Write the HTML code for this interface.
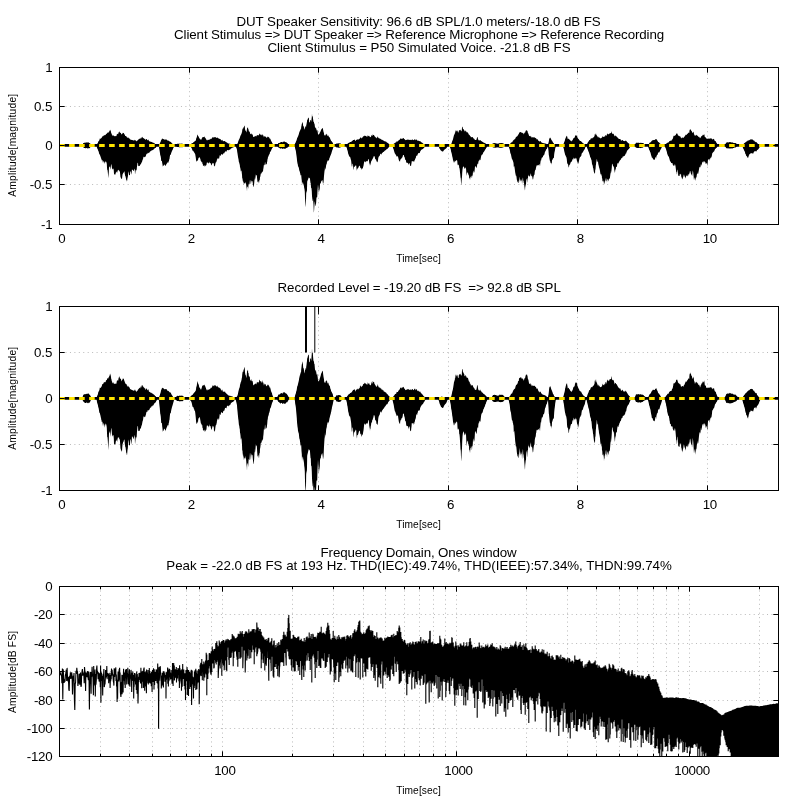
<!DOCTYPE html>
<html lang="en"><head><meta charset="utf-8"><title>Audio quality plots</title>
<style>html,body{margin:0;padding:0;background:#fff}svg{display:block;will-change:transform}text{font-family:'Liberation Sans', Arial, Helvetica, sans-serif}</style>
</head><body>
<svg width="800" height="800" viewBox="0 0 800 800" font-family="'Liberation Sans', Arial, Helvetica, sans-serif" fill="#000">
<rect width="800" height="800" fill="#fff"/>
<text x="418.6" y="25.5" font-size="13.33" text-anchor="middle" textLength="364.3" lengthAdjust="spacing" >DUT Speaker Sensitivity: 96.6 dB SPL/1.0 meters/-18.0 dB FS</text>
<text x="419.1" y="38.5" font-size="13.33" text-anchor="middle" textLength="490" lengthAdjust="spacing" >Client Stimulus =&gt; DUT Speaker =&gt; Reference Microphone =&gt; Reference Recording</text>
<text x="419" y="51.5" font-size="13.33" text-anchor="middle" textLength="303.2" lengthAdjust="spacing" >Client Stimulus = P50 Simulated Voice. -21.8 dB FS</text>
<line x1="65.5" y1="106.5" x2="772.5" y2="106.5" stroke="#bababa" stroke-width="1" stroke-dasharray="1 3.44"/>
<line x1="65.5" y1="145.5" x2="772.5" y2="145.5" stroke="#bababa" stroke-width="1" stroke-dasharray="1 3.44"/>
<line x1="65.5" y1="184.5" x2="772.5" y2="184.5" stroke="#bababa" stroke-width="1" stroke-dasharray="1 3.44"/>
<line x1="189.5" y1="73.5" x2="189.5" y2="218.5" stroke="#bababa" stroke-width="1" stroke-dasharray="1 3.44"/>
<line x1="318.5" y1="73.5" x2="318.5" y2="218.5" stroke="#bababa" stroke-width="1" stroke-dasharray="1 3.44"/>
<line x1="448.5" y1="73.5" x2="448.5" y2="218.5" stroke="#bababa" stroke-width="1" stroke-dasharray="1 3.44"/>
<line x1="577.5" y1="73.5" x2="577.5" y2="218.5" stroke="#bababa" stroke-width="1" stroke-dasharray="1 3.44"/>
<line x1="707.5" y1="73.5" x2="707.5" y2="218.5" stroke="#bababa" stroke-width="1" stroke-dasharray="1 3.44"/>
<clipPath id="c67"><rect x="59.5" y="67.5" width="719.0" height="157.0"/></clipPath>
<g clip-path="url(#c67)">
<polygon fill="#000" points="59.5,144 59.8,144 60,144 60.2,144 60.5,144 60.8,144 61,144 61.2,144 61.5,144 61.8,144 62,144 62.2,144 62.5,144 62.8,144 63,144 63.2,144 63.5,144 63.8,144 64,144 64.2,144 64.5,144 64.8,144 65,144 65.2,144 65.5,144 65.8,144 66,144 66.2,144 66.5,144 66.8,144 67,144 67.2,144 67.5,144 67.8,144 68,144 68.2,144 68.5,144 68.8,144 69,144 69.2,144 69.5,144 69.8,144 70,144 70.2,144 70.5,144 70.8,144 71,144 71.2,144 71.5,144 71.8,144 72,144 72.2,144 72.5,144 72.8,144 73,144 73.2,144 73.5,144 73.8,144 74,144 74.2,144 74.5,144 74.8,144 75,144 75.2,144 75.5,144 75.8,144 76,144 76.2,144 76.5,144 76.8,144 77,144 77.2,144 77.5,144 77.8,144 78,144 78.2,144 78.5,144 78.8,144 79,144 79.2,144 79.5,144 79.8,144 80,144 80.2,144 80.5,144 80.8,144 81,144 81.2,144 81.5,144 81.8,144 82,144 82.2,144 82.5,144 82.8,144 83,143.8 83.2,143.3 83.5,143.1 83.8,143 84,143 84.2,142.9 84.5,142.8 84.8,142.6 85,142.6 85.2,142.8 85.5,142.8 85.8,142.6 86,142.5 86.2,142.6 86.5,142.6 86.8,142.4 87,142.1 87.2,142.3 87.5,142.4 87.8,142.7 88,142.6 88.2,142.4 88.5,142.4 88.8,142.2 89,142.7 89.2,143 89.5,143 89.8,143.2 90,143.2 90.2,143.5 90.5,143.9 90.8,144 91,144 91.2,144 91.5,144 91.8,144 92,144 92.2,144 92.5,144 92.8,144 93,144 93.2,144 93.5,144 93.8,144 94,144 94.2,144 94.5,144 94.8,144 95,144 95.2,144 95.5,144 95.8,144 96,144 96.2,144 96.5,144 96.8,144 97,144 97.2,143.8 97.5,143.4 97.8,142.9 98,142.4 98.2,141.7 98.5,141.2 98.8,140.9 99,140.7 99.2,140.4 99.5,139.7 99.8,138.6 100,138.5 100.2,138.6 100.5,138.8 100.8,138.7 101,138.7 101.2,138 101.5,138 101.8,137.5 102,137.1 102.2,136.6 102.5,136.4 102.8,136.3 103,136.3 103.2,136.3 103.5,135.7 103.8,135.4 104,135.3 104.2,134.9 104.5,135.4 104.8,135.1 105,135.4 105.2,135.1 105.5,135.1 105.8,134.6 106,134 106.2,133.7 106.5,133.8 106.8,134.1 107,133.3 107.2,132.6 107.5,132.5 107.8,132.9 108,133.4 108.2,132.1 108.5,132.9 108.8,131.7 109,131.9 109.2,131.4 109.5,131.1 109.8,130.5 110,129.4 110.2,129.9 110.5,130.4 110.8,131 111,131.9 111.2,133 111.5,133.5 111.8,134.6 112,134.6 112.2,135.1 112.5,135.5 112.8,136 113,135.5 113.2,135.1 113.5,135.6 113.8,136 114,136.2 114.2,136.1 114.5,136.1 114.8,136.4 115,136 115.2,136.4 115.5,135.9 115.8,136 116,136.1 116.2,136.3 116.5,135.7 116.8,134.5 117,134.1 117.2,133.7 117.5,134 117.8,134 118,134.4 118.2,134.1 118.5,132.8 118.8,132.3 119,131.7 119.2,131.3 119.5,131.9 119.8,132.3 120,133 120.2,133.1 120.5,132.8 120.8,132.8 121,133.2 121.2,134 121.5,134.7 121.8,134.1 122,133.9 122.2,133.8 122.5,133.5 122.8,133 123,132.4 123.2,132.9 123.5,133.1 123.8,132.9 124,133.4 124.2,134.1 124.5,134.3 124.8,135.1 125,135.2 125.2,135.9 125.5,136 125.8,136.1 126,136.2 126.2,136.2 126.5,136.5 126.8,136.9 127,137.4 127.2,137.8 127.5,138 127.8,137.3 128,137.3 128.2,137.6 128.5,137.8 128.8,138.2 129,138.2 129.2,138.4 129.5,138.5 129.8,138.8 130,139.5 130.2,139.8 130.5,139.6 130.8,139.5 131,139.6 131.2,139.7 131.5,140 131.8,139.9 132,140.1 132.2,140 132.5,140.3 132.8,140.1 133,140.3 133.2,140.3 133.5,140.6 133.8,140.6 134,140.4 134.2,140.5 134.5,140.3 134.8,139.8 135,139.8 135.2,140 135.5,140.6 135.8,140.5 136,141 136.2,141.2 136.5,141.2 136.8,140.9 137,140.5 137.2,140.7 137.5,140.6 137.8,140.2 138,139.7 138.2,139.5 138.5,139.7 138.8,139.3 139,139 139.2,138.8 139.5,138.9 139.8,138.8 140,138.1 140.2,137.8 140.5,138.3 140.8,138.9 141,139.2 141.2,138.1 141.5,137.9 141.8,137.1 142,137.1 142.2,136.8 142.5,137.2 142.8,137.7 143,137.8 143.2,137.9 143.5,138.1 143.8,138.5 144,138.6 144.2,138.7 144.5,138.8 144.8,139.3 145,138.7 145.2,139.3 145.5,140 145.8,139.8 146,139.6 146.2,139.1 146.5,139.1 146.8,139.3 147,139.3 147.2,139.9 147.5,140.3 147.8,140.2 148,139.7 148.2,139.6 148.5,139.9 148.8,140.5 149,141.3 149.2,141.4 149.5,141.4 149.8,141 150,141.3 150.2,141.4 150.5,141.8 150.8,141.8 151,142 151.2,141.7 151.5,142 151.8,142.1 152,142.2 152.2,142.3 152.5,142.4 152.8,142.4 153,142.6 153.2,142.8 153.5,142.8 153.8,142.9 154,143 154.2,143.2 154.5,143.3 154.8,143.6 155,143.7 155.2,143.9 155.5,144 155.8,144 156,144 156.2,144 156.5,144 156.8,144 157,144 157.2,144 157.5,144 157.8,144 158,144 158.2,144 158.5,144 158.8,144 159,144 159.2,144 159.5,143.9 159.8,143.5 160,142.9 160.2,142.4 160.5,142 160.8,141.2 161,140.5 161.2,140 161.5,139.7 161.8,139.2 162,138.5 162.2,138.6 162.5,138.7 162.8,138.8 163,139.2 163.2,139 163.5,139 163.8,139.2 164,139.4 164.2,139.8 164.5,139.4 164.8,139.6 165,139.6 165.2,139.5 165.5,139.5 165.8,139.6 166,139.7 166.2,139.5 166.5,139.6 166.8,139.7 167,140.3 167.2,140.1 167.5,140.5 167.8,140.7 168,140.8 168.2,140.6 168.5,140.6 168.8,140.9 169,141.1 169.2,141.2 169.5,141.3 169.8,141.6 170,141.7 170.2,141.9 170.5,141.7 170.8,141.7 171,142.1 171.2,142.5 171.5,142.8 171.8,143.1 172,143.4 172.2,143.6 172.5,143.8 172.8,144 173,144 173.2,144 173.5,144 173.8,144 174,144 174.2,144 174.5,144 174.8,144 175,144 175.2,144 175.5,144 175.8,144 176,144 176.2,144 176.5,144 176.8,144 177,143.9 177.2,143.8 177.5,143.7 177.8,143.7 178,143.7 178.2,143.8 178.5,143.8 178.8,143.8 179,143.7 179.2,143.6 179.5,143.7 179.8,143.7 180,143.8 180.2,143.9 180.5,143.5 180.8,143.7 181,143.6 181.2,143.7 181.5,143.6 181.8,143.8 182,143.8 182.2,143.8 182.5,143.7 182.8,143.8 183,143.9 183.2,144 183.5,144 183.8,144 184,144 184.2,144 184.5,144 184.8,144 185,144 185.2,144 185.5,144 185.8,144 186,144 186.2,144 186.5,144 186.8,144 187,144 187.2,144 187.5,144 187.8,144 188,144 188.2,144 188.5,144 188.8,144 189,144 189.2,144 189.5,144 189.8,144 190,144 190.2,144 190.5,144 190.8,144 191,144 191.2,143.7 191.5,143.6 191.8,143.4 192,143.3 192.2,143.2 192.5,143.1 192.8,143.1 193,142.8 193.2,142.6 193.5,142.2 193.8,142 194,141.8 194.2,141.3 194.5,141.6 194.8,141.7 195,141.1 195.2,141 195.5,140.7 195.8,140.4 196,139.6 196.2,138.4 196.5,137.8 196.8,137.3 197,136.2 197.2,135.3 197.5,134.4 197.8,135.1 198,136 198.2,136 198.5,136.5 198.8,136.9 199,137.4 199.2,138.1 199.5,138.5 199.8,138.8 200,138.8 200.2,139 200.5,139.6 200.8,139.8 201,139.8 201.2,139.8 201.5,139.2 201.8,138.5 202,138.1 202.2,137.4 202.5,137.5 202.8,137.1 203,137.1 203.2,137.2 203.5,137 203.8,137.1 204,136.7 204.2,136.8 204.5,136.5 204.8,137.3 205,137.9 205.2,137.8 205.5,138 205.8,138.8 206,138.9 206.2,139.8 206.5,139.6 206.8,140.2 207,140.5 207.2,140.5 207.5,140 207.8,139.8 208,139.8 208.2,140.2 208.5,139.6 208.8,140 209,139.7 209.2,139.7 209.5,139.5 209.8,139.6 210,139.5 210.2,139.3 210.5,139.1 210.8,138.7 211,138.5 211.2,138.9 211.5,138.7 211.8,138.6 212,138.1 212.2,137.8 212.5,137.5 212.8,137 213,136.9 213.2,137.3 213.5,137.7 213.8,137.5 214,136.9 214.2,137 214.5,137.8 214.8,136.7 215,137.2 215.2,137 215.5,137.3 215.8,137.2 216,137.8 216.2,137.4 216.5,137.9 216.8,137.8 217,138.3 217.2,138 217.5,137.2 217.8,137.6 218,138.3 218.2,138.4 218.5,138.3 218.8,138.3 219,138.7 219.2,138.9 219.5,138.9 219.8,138.4 220,138.7 220.2,139 220.5,139.3 220.8,139.6 221,140 221.2,140.6 221.5,140.4 221.8,139.9 222,139.9 222.2,139.8 222.5,140.3 222.8,140.8 223,141.4 223.2,141.4 223.5,141 223.8,141.1 224,141 224.2,141.3 224.5,141.1 224.8,141.1 225,140.8 225.2,141.4 225.5,141.8 225.8,142 226,141.9 226.2,142.3 226.5,142.3 226.8,142.5 227,142.6 227.2,142.8 227.5,143 227.8,143.3 228,143.4 228.2,143.5 228.5,143.4 228.8,143.5 229,143.5 229.2,143.6 229.5,143.7 229.8,143.8 230,143.8 230.2,143.8 230.5,143.9 230.8,144 231,144 231.2,144 231.5,144 231.8,144 232,144 232.2,144 232.5,144 232.8,144 233,144 233.2,144 233.5,144 233.8,144 234,144 234.2,144 234.5,144 234.8,144 235,144 235.2,144 235.5,144 235.8,144 236,144 236.2,144 236.5,144 236.8,144 237,144 237.2,143.9 237.5,143.6 237.8,143 238,142.2 238.2,141.6 238.5,140.7 238.8,140.1 239,139.4 239.2,139.2 239.5,138.6 239.8,138 240,137 240.2,136.4 240.5,135.8 240.8,135 241,135 241.2,134.3 241.5,133.7 241.8,132.5 242,132.2 242.2,130.4 242.5,129 242.8,128.4 243,128.5 243.2,128.6 243.5,127.4 243.8,127 244,127 244.2,126.1 244.5,125.6 244.8,126.4 245,128.9 245.2,129.7 245.5,130.7 245.8,130.7 246,131.2 246.2,132.5 246.5,131.8 246.8,130.3 247,128.8 247.2,127.4 247.5,128.2 247.8,127.5 248,127.1 248.2,129.3 248.5,129.3 248.8,131.1 249,131.5 249.2,131.7 249.5,131.4 249.8,131.7 250,133.2 250.2,134.1 250.5,134.3 250.8,133.7 251,133.5 251.2,133.2 251.5,134.1 251.8,134.3 252,134.6 252.2,134.4 252.5,134.3 252.8,135 253,136 253.2,136.8 253.5,137 253.8,137.1 254,137 254.2,136.5 254.5,136.3 254.8,136.8 255,136.4 255.2,136.1 255.5,135.9 255.8,136.4 256,135.2 256.2,135.3 256.5,136.2 256.8,136.6 257,135.7 257.2,135.1 257.5,135.1 257.8,135.5 258,134.8 258.2,135.1 258.5,135 258.8,136.1 259,135 259.2,134.2 259.5,133.4 259.8,133.8 260,134.1 260.2,134.8 260.5,134.7 260.8,134.4 261,134.4 261.2,135.6 261.5,135.3 261.8,134.6 262,134.3 262.2,134 262.5,134.9 262.8,135.3 263,135.5 263.2,135.2 263.5,135.9 263.8,136.8 264,137.4 264.2,136.7 264.5,136.2 264.8,135.9 265,136.3 265.2,136.4 265.5,136.4 265.8,136.9 266,137.2 266.2,137.5 266.5,137.4 266.8,137.7 267,137.9 267.2,137.3 267.5,136.5 267.8,136.8 268,137 268.2,136.7 268.5,137.1 268.8,137.3 269,137.4 269.2,137.6 269.5,138.3 269.8,138.7 270,138.4 270.2,138.7 270.5,139.2 270.8,140 271,140.6 271.2,141 271.5,141.5 271.8,141.9 272,142.2 272.2,142.9 272.5,143.4 272.8,143.8 273,144 273.2,144 273.5,144 273.8,144 274,144 274.2,144 274.5,144 274.8,144 275,144 275.2,144 275.5,144 275.8,144 276,144 276.2,144 276.5,144 276.8,144 277,144 277.2,144 277.5,144 277.8,144 278,143.7 278.2,143.3 278.5,143 278.8,142.9 279,142.9 279.2,142.9 279.5,143 279.8,142.7 280,142.6 280.2,142.4 280.5,142.4 280.8,142.1 281,142 281.2,142 281.5,142 281.8,142.1 282,142.3 282.2,142.5 282.5,142.3 282.8,142 283,141.5 283.2,141.7 283.5,141.7 283.8,141.7 284,141.4 284.2,141.6 284.5,141.5 284.8,141.7 285,141.7 285.2,142 285.5,142.3 285.8,142.1 286,142.3 286.2,142.3 286.5,142.4 286.8,142.6 287,142.7 287.2,143.1 287.5,143.2 287.8,143.6 288,143.8 288.2,144 288.5,144 288.8,144 289,144 289.2,144 289.5,144 289.8,144 290,144 290.2,144 290.5,144 290.8,144 291,144 291.2,144 291.5,144 291.8,144 292,144 292.2,144 292.5,144 292.8,144 293,144 293.2,144 293.5,144 293.8,144 294,144 294.2,144 294.5,144 294.8,144 295,143.8 295.2,143.3 295.5,142.8 295.8,142.2 296,141.6 296.2,141 296.5,140.5 296.8,139.6 297,138.6 297.2,137.9 297.5,137.5 297.8,136.8 298,136.4 298.2,135.9 298.5,135.1 298.8,134.3 299,133.4 299.2,132.6 299.5,131.9 299.8,130.7 300,131.1 300.2,130 300.5,129.7 300.8,128.6 301,129.3 301.2,127.1 301.5,125.7 301.8,123.8 302,123.8 302.2,122.8 302.5,121.9 302.8,123.1 303,124.3 303.2,126.5 303.5,125.8 303.8,126.7 304,127.5 304.2,128.5 304.5,129.7 304.8,128.7 305,127.3 305.2,126 305.5,126.3 305.8,127.5 306,127.2 306.2,125.6 306.5,124.3 306.8,122.5 307,121.8 307.2,118.4 307.5,119.7 307.8,120.3 308,118 308.2,118 308.5,117.5 308.8,118.1 309,119.3 309.2,122.1 309.5,122.2 309.8,122.6 310,121.9 310.2,119.8 310.5,120.2 310.8,120.3 311,120.5 311.2,122 311.5,119.5 311.8,117 312,113.6 312.2,116.2 312.5,116.6 312.8,116.3 313,118.4 313.2,119.8 313.5,122.2 313.8,121.5 314,122.2 314.2,123.7 314.5,123.5 314.8,125.7 315,127.2 315.2,128.6 315.5,127.7 315.8,127.2 316,127.5 316.2,128.7 316.5,129.8 316.8,130.7 317,130.2 317.2,129.8 317.5,131.1 317.8,132.5 318,134.2 318.2,134.7 318.5,134.5 318.8,134.2 319,134.1 319.2,134 319.5,133.6 319.8,132.6 320,132.5 320.2,132.1 320.5,131.4 320.8,130.7 321,130 321.2,129.8 321.5,129.1 321.8,129.2 322,128.3 322.2,128.4 322.5,128.2 322.8,127.8 323,129.2 323.2,130.2 323.5,131.7 323.8,132.6 324,133.5 324.2,135.1 324.5,134.9 324.8,135.8 325,135.5 325.2,135.8 325.5,135.1 325.8,134.3 326,134.7 326.2,134.4 326.5,134.2 326.8,133.6 327,134.5 327.2,134.8 327.5,135.9 327.8,136 328,135.6 328.2,135.3 328.5,135.9 328.8,136.5 329,137 329.2,137.2 329.5,137.2 329.8,137.5 330,137.9 330.2,138.8 330.5,139.5 330.8,139.9 331,140.4 331.2,140.9 331.5,141.2 331.8,141.3 332,141.8 332.2,142.1 332.5,142.4 332.8,142.8 333,143.5 333.2,144 333.5,144 333.8,144 334,144 334.2,144 334.5,144 334.8,144 335,144 335.2,144 335.5,144 335.8,144 336,144 336.2,143.7 336.5,143.5 336.8,143.4 337,143.4 337.2,143.5 337.5,143.5 337.8,143.4 338,143.3 338.2,143.3 338.5,143.4 338.8,143.3 339,143.3 339.2,143.2 339.5,143.3 339.8,143.4 340,143.5 340.2,143.5 340.5,143.5 340.8,143.5 341,143.7 341.2,144 341.5,144 341.8,144 342,144 342.2,144 342.5,144 342.8,144 343,144 343.2,144 343.5,144 343.8,144 344,144 344.2,144 344.5,144 344.8,144 345,144 345.2,144 345.5,144 345.8,144 346,144 346.2,144 346.5,144 346.8,144 347,144 347.2,144 347.5,143.7 347.8,143.5 348,143.4 348.2,143.1 348.5,143 348.8,142.8 349,142.8 349.2,142.7 349.5,142.6 349.8,142.3 350,142.1 350.2,142 350.5,141.9 350.8,142 351,142 351.2,141.5 351.5,141.5 351.8,141.7 352,141.1 352.2,141.1 352.5,140.4 352.8,140.7 353,140 353.2,140.1 353.5,139.9 353.8,140.1 354,139.9 354.2,139.8 354.5,139.6 354.8,139.8 355,140.2 355.2,141 355.5,140.9 355.8,140.4 356,139.8 356.2,139.7 356.5,139.7 356.8,139.9 357,140 357.2,139 357.5,139.5 357.8,139.6 358,139.8 358.2,139.4 358.5,139.7 358.8,139.1 359,139.1 359.2,139 359.5,138.9 359.8,138.6 360,137.4 360.2,137.4 360.5,137.3 360.8,137.9 361,138 361.2,138.4 361.5,138.2 361.8,137.7 362,137.6 362.2,137.5 362.5,137.7 362.8,137.1 363,136.6 363.2,136.4 363.5,136.3 363.8,136.3 364,136 364.2,136.3 364.5,135.7 364.8,135.5 365,135.5 365.2,136 365.5,136 365.8,136.1 366,135.6 366.2,136.8 366.5,136.3 366.8,136.4 367,136.8 367.2,136.7 367.5,136.3 367.8,135.1 368,135.7 368.2,136.1 368.5,136.3 368.8,135.5 369,135.9 369.2,135.8 369.5,136.5 369.8,136.8 370,137 370.2,137 370.5,137.2 370.8,136.9 371,136.6 371.2,136.2 371.5,134.8 371.8,135.3 372,136.1 372.2,135.9 372.5,135.6 372.8,134.3 373,134.6 373.2,134.9 373.5,135.1 373.8,135 374,135 374.2,135.4 374.5,136.2 374.8,136.3 375,136.9 375.2,136.8 375.5,137.2 375.8,137.3 376,137.9 376.2,138.2 376.5,138.2 376.8,137.6 377,137.6 377.2,137.6 377.5,137.1 377.8,136.3 378,137 378.2,137.6 378.5,138 378.8,138.1 379,138.7 379.2,138.8 379.5,138.6 379.8,138.1 380,138.5 380.2,138.7 380.5,139.2 380.8,138.8 381,139.1 381.2,139.2 381.5,139.7 381.8,139.8 382,139.9 382.2,139.7 382.5,140 382.8,140.2 383,140.2 383.2,140.2 383.5,140.4 383.8,140.9 384,141.3 384.2,141.2 384.5,141.2 384.8,141 385,141.2 385.2,141.5 385.5,141.6 385.8,141.5 386,141.6 386.2,141.8 386.5,142.1 386.8,142.5 387,142.6 387.2,142.8 387.5,142.8 387.8,142.9 388,143.1 388.2,143.3 388.5,143.6 388.8,143.9 389,144 389.2,144 389.5,144 389.8,144 390,144 390.2,144 390.5,144 390.8,144 391,144 391.2,144 391.5,144 391.8,144 392,144 392.2,144 392.5,144 392.8,144 393,144 393.2,144 393.5,144 393.8,143.8 394,143.6 394.2,143.5 394.5,143.2 394.8,143 395,142.7 395.2,142.6 395.5,142.5 395.8,142.7 396,142.6 396.2,142.2 396.5,141.6 396.8,141.2 397,141.4 397.2,141.4 397.5,141.4 397.8,141.3 398,141.3 398.2,140.8 398.5,140.6 398.8,140.2 399,140.3 399.2,140.1 399.5,139.7 399.8,139.7 400,139.1 400.2,138.8 400.5,138.5 400.8,138.6 401,138.6 401.2,138.5 401.5,138.7 401.8,139.1 402,139.2 402.2,138.6 402.5,138.4 402.8,138.4 403,138.6 403.2,138.3 403.5,138.1 403.8,138.1 404,138.8 404.2,139 404.5,139.3 404.8,139.3 405,139.6 405.2,139.9 405.5,140.2 405.8,140.1 406,140.1 406.2,140 406.5,140 406.8,139.7 407,139.6 407.2,139.6 407.5,139.7 407.8,139.7 408,139.5 408.2,139.8 408.5,139.7 408.8,139.7 409,139.6 409.2,139.7 409.5,140.1 409.8,140.1 410,140.2 410.2,139.8 410.5,139.7 410.8,139.9 411,140.1 411.2,140.2 411.5,139.8 411.8,139.8 412,139.9 412.2,139.6 412.5,139.5 412.8,139.5 413,139.9 413.2,140.2 413.5,140.1 413.8,140 414,139.9 414.2,139.4 414.5,139.4 414.8,139.2 415,139.3 415.2,139.3 415.5,139.9 415.8,140.2 416,140.1 416.2,139.5 416.5,139.6 416.8,139.8 417,139.9 417.2,140.4 417.5,140.6 417.8,140.9 418,140.5 418.2,140.5 418.5,140.7 418.8,140.9 419,141.2 419.2,140.9 419.5,141.2 419.8,141.1 420,141.3 420.2,140.9 420.5,141.5 420.8,141.8 421,141.9 421.2,142 421.5,142.4 421.8,142.6 422,142.6 422.2,142.8 422.5,142.9 422.8,143.2 423,143.4 423.2,143.5 423.5,143.9 423.8,144 424,144 424.2,144 424.5,144 424.8,144 425,144 425.2,144 425.5,144 425.8,144 426,144 426.2,144 426.5,144 426.8,144 427,144 427.2,144 427.5,144 427.8,144 428,144 428.2,144 428.5,144 428.8,144 429,144 429.2,144 429.5,144 429.8,144 430,144 430.2,144 430.5,144 430.8,144 431,144 431.2,144 431.5,144 431.8,144 432,144 432.2,144 432.5,144 432.8,144 433,144 433.2,144 433.5,144 433.8,144 434,144 434.2,144 434.5,144 434.8,144 435,144 435.2,144 435.5,144 435.8,144 436,144 436.2,144 436.5,144 436.8,144 437,144 437.2,144 437.5,144 437.8,144 438,144 438.2,144 438.5,144 438.8,144 439,144 439.2,144 439.5,144 439.8,144 440,144 440.2,144 440.5,144 440.8,144 441,144 441.2,144 441.5,144 441.8,144 442,144 442.2,144 442.5,144 442.8,144 443,144 443.2,144 443.5,144 443.8,144 444,144 444.2,144 444.5,144 444.8,144 445,144 445.2,144 445.5,144 445.8,144 446,144 446.2,144 446.5,144 446.8,144 447,144 447.2,144 447.5,144 447.8,144 448,144 448.2,144 448.5,144 448.8,144 449,144 449.2,144 449.5,144 449.8,144 450,144 450.2,144 450.5,144 450.8,144 451,144 451.2,144 451.5,143.4 451.8,142.6 452,141.9 452.2,141.1 452.5,140.5 452.8,139.9 453,139.1 453.2,138.5 453.5,137.1 453.8,136 454,135 454.2,134.9 454.5,134.1 454.8,133.7 455,132.2 455.2,132.8 455.5,130.9 455.8,130.6 456,129.8 456.2,130.8 456.5,130.8 456.8,131.6 457,131.5 457.2,130.3 457.5,130.8 457.8,131.7 458,132.4 458.2,132.5 458.5,132.5 458.8,130.9 459,130.3 459.2,130.2 459.5,130.5 459.8,130.1 460,129.9 460.2,130.1 460.5,129.6 460.8,130.7 461,130.7 461.2,131.4 461.5,130.7 461.8,130.4 462,127.3 462.2,126.9 462.5,126.6 462.8,128 463,128.9 463.2,128.9 463.5,129.2 463.8,129.6 464,130 464.2,130 464.5,131.2 464.8,131.2 465,131.5 465.2,130.6 465.5,130.6 465.8,131.6 466,131.3 466.2,131.5 466.5,131.7 466.8,132.4 467,132.2 467.2,132.5 467.5,132.2 467.8,132.4 468,132.5 468.2,133.2 468.5,133.8 468.8,134.4 469,134.7 469.2,134.9 469.5,134.7 469.8,135.3 470,136.2 470.2,135.8 470.5,136.4 470.8,136.6 471,137.7 471.2,137.5 471.5,137 471.8,136.9 472,136.7 472.2,137.2 472.5,137 472.8,137.2 473,137.5 473.2,138.1 473.5,138.5 473.8,138.5 474,138.8 474.2,138.8 474.5,139.3 474.8,139.7 475,140 475.2,139.9 475.5,140.1 475.8,139.9 476,140.2 476.2,139.9 476.5,139.6 476.8,138.4 477,137.5 477.2,136.9 477.5,137.1 477.8,137.9 478,138.9 478.2,139.6 478.5,140.2 478.8,140.3 479,140.4 479.2,140.5 479.5,140.3 479.8,140.4 480,139.7 480.2,140 480.5,140.2 480.8,140.8 481,140.8 481.2,141.1 481.5,141.1 481.8,141.5 482,141.6 482.2,141.8 482.5,141.7 482.8,141.9 483,142.1 483.2,142.4 483.5,142.4 483.8,142.5 484,142.8 484.2,143 484.5,142.9 484.8,142.8 485,143 485.2,143.2 485.5,143.5 485.8,143.7 486,143.8 486.2,144 486.5,144 486.8,144 487,144 487.2,144 487.5,144 487.8,144 488,144 488.2,144 488.5,144 488.8,144 489,144 489.2,144 489.5,144 489.8,144 490,144 490.2,144 490.5,144 490.8,144 491,144 491.2,144 491.5,144 491.8,144 492,144 492.2,144 492.5,143.8 492.8,143.6 493,143.3 493.2,143.2 493.5,143.2 493.8,143.2 494,143.1 494.2,143.1 494.5,143 494.8,143.2 495,143.1 495.2,143.2 495.5,143.2 495.8,143.2 496,143.4 496.2,143.4 496.5,143.6 496.8,143.4 497,143.6 497.2,143.6 497.5,143.8 497.8,143.7 498,143.7 498.2,143.5 498.5,143.5 498.8,143.5 499,143.6 499.2,143.4 499.5,143.1 499.8,143 500,143 500.2,143.1 500.5,143.1 500.8,143.3 501,143.2 501.2,143 501.5,143 501.8,143.1 502,143.2 502.2,143 502.5,143.2 502.8,143.3 503,143.3 503.2,143.4 503.5,143.6 503.8,143.8 504,143.9 504.2,144 504.5,144 504.8,144 505,144 505.2,144 505.5,144 505.8,144 506,144 506.2,144 506.5,144 506.8,144 507,144 507.2,144 507.5,144 507.8,144 508,144 508.2,144 508.5,144 508.8,144 509,144 509.2,144 509.5,144 509.8,144 510,143.9 510.2,143.7 510.5,143.2 510.8,142.9 511,142.5 511.2,142.4 511.5,142.2 511.8,142.5 512,142.3 512.2,142.2 512.5,141.5 512.8,141.2 513,140.6 513.2,140.4 513.5,140.3 513.8,139.9 514,139.4 514.2,139.1 514.5,139.4 514.8,139.6 515,139.3 515.2,138.8 515.5,137.9 515.8,137.5 516,136.8 516.2,136.6 516.5,136.7 516.8,136.9 517,136.6 517.2,136.3 517.5,135.9 517.8,135.4 518,134.6 518.2,134.4 518.5,134.6 518.8,134.3 519,132.9 519.2,132.4 519.5,132.6 519.8,132.4 520,132.2 520.2,132.1 520.5,132.2 520.8,132.1 521,131.9 521.2,132.3 521.5,132.5 521.8,133 522,133.2 522.2,132.8 522.5,132.7 522.8,133 523,133.4 523.2,133.3 523.5,133.5 523.8,134.4 524,133.8 524.2,133.4 524.5,132.5 524.8,132.8 525,132.5 525.2,132.4 525.5,131.3 525.8,130.7 526,130.2 526.2,130.3 526.5,130.3 526.8,130.8 527,129.9 527.2,130.9 527.5,131.1 527.8,132.6 528,133.2 528.2,133.3 528.5,133.9 528.8,135 529,135.6 529.2,136.1 529.5,136.1 529.8,136.3 530,136 530.2,135.8 530.5,136.2 530.8,136.8 531,136.6 531.2,136.4 531.5,137.2 531.8,137.4 532,137.9 532.2,136.9 532.5,137.5 532.8,137.1 533,137.6 533.2,137.1 533.5,137.6 533.8,137.6 534,137.6 534.2,137.5 534.5,137.2 534.8,137.5 535,137.4 535.2,137.9 535.5,138.1 535.8,138.3 536,138.1 536.2,138.6 536.5,139 536.8,139.6 537,139.3 537.2,139.2 537.5,139.2 537.8,139.4 538,140 538.2,140.2 538.5,140.9 538.8,141 539,141.1 539.2,141.1 539.5,141.4 539.8,141.7 540,141.6 540.2,141.3 540.5,141.1 540.8,141.2 541,141.6 541.2,142.2 541.5,142.5 541.8,142.4 542,142.5 542.2,142.7 542.5,143 542.8,143 543,143.1 543.2,143.2 543.5,143.1 543.8,143.2 544,143.2 544.2,143.2 544.5,143.3 544.8,143.5 545,143.7 545.2,143.6 545.5,143.6 545.8,143.7 546,143.8 546.2,143.8 546.5,144 546.8,144 547,144 547.2,144 547.5,144 547.8,144 548,144 548.2,143.8 548.5,142.8 548.8,141.5 549,140.2 549.2,139 549.5,138.3 549.8,138.2 550,137.3 550.2,137.7 550.5,138.1 550.8,138.5 551,138.9 551.2,139.5 551.5,139.9 551.8,140.5 552,140.4 552.2,141 552.5,141.5 552.8,142.1 553,142.6 553.2,142.7 553.5,142.9 553.8,143.3 554,143.7 554.2,144 554.5,144 554.8,144 555,144 555.2,144 555.5,144 555.8,144 556,144 556.2,144 556.5,144 556.8,144 557,144 557.2,144 557.5,144 557.8,144 558,144 558.2,144 558.5,144 558.8,144 559,144 559.2,144 559.5,144 559.8,144 560,144 560.2,144 560.5,144 560.8,144 561,144 561.2,144 561.5,144 561.8,144 562,144 562.2,144 562.5,144 562.8,144 563,144 563.2,144 563.5,144 563.8,143.3 564,142.7 564.2,142.1 564.5,141.5 564.8,140.7 565,139.7 565.2,138.8 565.5,138.5 565.8,137.4 566,137.3 566.2,136.5 566.5,136.3 566.8,135.9 567,135.5 567.2,136.7 567.5,137.7 567.8,139.2 568,138.9 568.2,138.9 568.5,138.6 568.8,138.7 569,139.3 569.2,139.4 569.5,139.6 569.8,139.7 570,140.2 570.2,140.4 570.5,140.6 570.8,140.8 571,141.1 571.2,141.5 571.5,141.2 571.8,140.7 572,140.5 572.2,140.4 572.5,140.3 572.8,139.8 573,139.1 573.2,138.8 573.5,138.3 573.8,138.1 574,138.2 574.2,137.8 574.5,137.7 574.8,137.1 575,136.2 575.2,136 575.5,135.1 575.8,135.5 576,135.3 576.2,135.7 576.5,135.4 576.8,135.4 577,136.2 577.2,136.9 577.5,137.6 577.8,137.9 578,138.4 578.2,138.7 578.5,139.1 578.8,139.3 579,139.6 579.2,139.9 579.5,140.5 579.8,140.6 580,140.7 580.2,141 580.5,141 580.8,140.9 581,140.9 581.2,141.4 581.5,141.7 581.8,142 582,142.3 582.2,142.6 582.5,142.8 582.8,143 583,143.4 583.2,143.5 583.5,143.6 583.8,143.6 584,143.8 584.2,144 584.5,144 584.8,144 585,144 585.2,144 585.5,144 585.8,144 586,144 586.2,144 586.5,144 586.8,144 587,144 587.2,143.7 587.5,143.1 587.8,142.6 588,142.2 588.2,142 588.5,141.6 588.8,141.1 589,140.7 589.2,140.3 589.5,140 589.8,140 590,139.9 590.2,139.7 590.5,139.2 590.8,138.6 591,138.3 591.2,138.2 591.5,138.3 591.8,138.4 592,138.4 592.2,138.4 592.5,138 592.8,137.7 593,137.4 593.2,137.5 593.5,137.4 593.8,136.9 594,137.1 594.2,136.4 594.5,136.1 594.8,133.9 595,134.3 595.2,135.3 595.5,134.1 595.8,133.8 596,133 596.2,134.6 596.5,135.1 596.8,135.5 597,135.7 597.2,136.1 597.5,136.5 597.8,137 598,137.7 598.2,137.7 598.5,136.6 598.8,136.9 599,137.2 599.2,137.4 599.5,137.5 599.8,138 600,138.3 600.2,138.3 600.5,138.2 600.8,138.2 601,138.4 601.2,138.1 601.5,137.8 601.8,137.8 602,137.4 602.2,137.2 602.5,135.9 602.8,136.5 603,136.9 603.2,136.9 603.5,137 603.8,136.8 604,136.2 604.2,136.3 604.5,136.2 604.8,137.2 605,136.5 605.2,136.2 605.5,134.9 605.8,135 606,135.5 606.2,136.2 606.5,135.4 606.8,134.8 607,134.4 607.2,134.2 607.5,133.5 607.8,133.7 608,133.6 608.2,134.4 608.5,134 608.8,134.6 609,133.7 609.2,134.3 609.5,133.1 609.8,133.7 610,133.2 610.2,133.2 610.5,133.1 610.8,133.2 611,133 611.2,131.6 611.5,131.6 611.8,133 612,133.1 612.2,133.9 612.5,133.7 612.8,133.4 613,133.9 613.2,133.6 613.5,133.9 613.8,134.2 614,134.7 614.2,135.2 614.5,135.9 614.8,136.5 615,135.8 615.2,135.6 615.5,135.7 615.8,135.7 616,136.4 616.2,136.7 616.5,136.5 616.8,136.3 617,136.5 617.2,137.3 617.5,137.4 617.8,137.7 618,138.3 618.2,138.2 618.5,138.7 618.8,138.6 619,139.2 619.2,139.1 619.5,139 619.8,139.1 620,138.9 620.2,139.1 620.5,139.3 620.8,140.1 621,140.4 621.2,140.6 621.5,140.4 621.8,140.6 622,140.4 622.2,140.3 622.5,139.9 622.8,140 623,140.3 623.2,140.7 623.5,141.1 623.8,140.9 624,140.9 624.2,140.9 624.5,141.1 624.8,141.2 625,141.2 625.2,141.1 625.5,140.7 625.8,140.5 626,140.5 626.2,141 626.5,141.3 626.8,141.5 627,141.8 627.2,142 627.5,142.4 627.8,142.6 628,142.9 628.2,143.1 628.5,143.3 628.8,143.5 629,143.6 629.2,143.8 629.5,143.9 629.8,144 630,144 630.2,144 630.5,144 630.8,144 631,144 631.2,144 631.5,144 631.8,144 632,144 632.2,144 632.5,144 632.8,144 633,144 633.2,144 633.5,144 633.8,144 634,144 634.2,144 634.5,144 634.8,144 635,144 635.2,144 635.5,143.7 635.8,143.3 636,142.8 636.2,142.8 636.5,142.8 636.8,142.8 637,142.8 637.2,142.8 637.5,142.8 637.8,142.8 638,142.9 638.2,142.8 638.5,142.7 638.8,142.6 639,142.9 639.2,142.9 639.5,142.8 639.8,143 640,142.9 640.2,142.9 640.5,142.7 640.8,142.8 641,142.8 641.2,142.8 641.5,143 641.8,143 642,143.1 642.2,143 642.5,143.1 642.8,143.1 643,143.1 643.2,143.2 643.5,143.3 643.8,143.5 644,143.8 644.2,144 644.5,144 644.8,144 645,144 645.2,144 645.5,144 645.8,144 646,144 646.2,144 646.5,144 646.8,144 647,144 647.2,144 647.5,144 647.8,144 648,144 648.2,144 648.5,144 648.8,144 649,143.7 649.2,143.2 649.5,143 649.8,142.6 650,142.5 650.2,142.5 650.5,142.3 650.8,142.2 651,141.9 651.2,141.5 651.5,141.2 651.8,140.7 652,140.7 652.2,140.5 652.5,140.4 652.8,139.9 653,140 653.2,139.9 653.5,140.2 653.8,140.1 654,140 654.2,140.1 654.5,140.1 654.8,140 655,139.6 655.2,139.4 655.5,139.1 655.8,139.4 656,139 656.2,139.1 656.5,139 656.8,139.9 657,140.2 657.2,140.4 657.5,140.6 657.8,141.2 658,141.7 658.2,141.9 658.5,142.1 658.8,142.3 659,142.4 659.2,142.5 659.5,142.9 659.8,143.3 660,143.4 660.2,143.6 660.5,144 660.8,144 661,144 661.2,144 661.5,144 661.8,144 662,144 662.2,144 662.5,144 662.8,144 663,144 663.2,144 663.5,144 663.8,144 664,144 664.2,144 664.5,144 664.8,144 665,144 665.2,144 665.5,144 665.8,144 666,143.9 666.2,143.6 666.5,143.5 666.8,143.2 667,143 667.2,142.9 667.5,142.7 667.8,142.5 668,142.4 668.2,142.5 668.5,142.4 668.8,142.1 669,141.7 669.2,141.3 669.5,141.3 669.8,141 670,141 670.2,140.8 670.5,140.6 670.8,140.7 671,140.9 671.2,140.7 671.5,140.6 671.8,140 672,139.4 672.2,139.4 672.5,139.2 672.8,138.7 673,137.8 673.2,137.4 673.5,135.8 673.8,135.8 674,136.2 674.2,135.7 674.5,136 674.8,135.4 675,135.5 675.2,135.1 675.5,135.4 675.8,134.9 676,134.2 676.2,133.3 676.5,133.8 676.8,133.7 677,133.2 677.2,133.5 677.5,134 677.8,134.7 678,135.5 678.2,135.8 678.5,135.8 678.8,135.2 679,136.1 679.2,135.8 679.5,136.6 679.8,136.1 680,136.5 680.2,136.4 680.5,136.5 680.8,137.5 681,138 681.2,138.4 681.5,137.9 681.8,137.7 682,137.4 682.2,137.5 682.5,137.6 682.8,137.7 683,137.7 683.2,138 683.5,138 683.8,137.2 684,136.8 684.2,136.6 684.5,136.9 684.8,136.3 685,135.7 685.2,135.5 685.5,135.2 685.8,134.7 686,134.3 686.2,134.7 686.5,135 686.8,134.7 687,134.3 687.2,133.8 687.5,134 687.8,133.6 688,133.3 688.2,133.1 688.5,132.8 688.8,132.6 689,132.7 689.2,133.3 689.5,130.4 689.8,129.8 690,129.5 690.2,129.8 690.5,129.9 690.8,128.8 691,129.4 691.2,131 691.5,130.7 691.8,131.4 692,131.4 692.2,132.3 692.5,132.8 692.8,133 693,132.7 693.2,132.3 693.5,131.6 693.8,132.5 694,134.1 694.2,134.4 694.5,134.9 694.8,135.6 695,136.4 695.2,135.8 695.5,135.4 695.8,134.9 696,135.5 696.2,135.5 696.5,134.8 696.8,134.9 697,134.8 697.2,135.7 697.5,135.8 697.8,136.2 698,135.6 698.2,136.5 698.5,137 698.8,137 699,136.7 699.2,136.8 699.5,137.4 699.8,137.7 700,138.6 700.2,138.1 700.5,137.9 700.8,136.9 701,136.7 701.2,136.8 701.5,136 701.8,136 702,135.7 702.2,136 702.5,135.2 702.8,134.7 703,134.7 703.2,134.9 703.5,135.3 703.8,134.8 704,134 704.2,134.2 704.5,135.2 704.8,136.9 705,137.3 705.2,137.3 705.5,137.2 705.8,137.4 706,137.8 706.2,138.6 706.5,138.6 706.8,138.8 707,138.3 707.2,138.5 707.5,138.7 707.8,138.9 708,138.9 708.2,138.6 708.5,138.6 708.8,138.7 709,138.6 709.2,138.4 709.5,138.4 709.8,138.8 710,138.9 710.2,138.6 710.5,138.3 710.8,138.2 711,138.4 711.2,138.3 711.5,138.6 711.8,138.8 712,139.3 712.2,138.9 712.5,139.4 712.8,139.6 713,139.5 713.2,139.1 713.5,138.7 713.8,139.1 714,138.9 714.2,139.4 714.5,140.4 714.8,140.8 715,141.1 715.2,141 715.5,141.2 715.8,141.3 716,141.7 716.2,142.4 716.5,142.7 716.8,143.2 717,143.6 717.2,143.9 717.5,144 717.8,144 718,144 718.2,144 718.5,144 718.8,144 719,144 719.2,144 719.5,144 719.8,144 720,144 720.2,144 720.5,144 720.8,144 721,144 721.2,144 721.5,144 721.8,144 722,144 722.2,144 722.5,144 722.8,144 723,144 723.2,144 723.5,144 723.8,144 724,144 724.2,144 724.5,144 724.8,144 725,144 725.2,144 725.5,143.9 725.8,143.6 726,143.1 726.2,142.7 726.5,142.5 726.8,142.5 727,142.5 727.2,142.3 727.5,142.3 727.8,142.3 728,142.4 728.2,142.3 728.5,142.4 728.8,142.5 729,142.3 729.2,141.9 729.5,141.9 729.8,142.3 730,142.3 730.2,142.3 730.5,142 730.8,142.2 731,142 731.2,142.4 731.5,142.4 731.8,142.5 732,142.2 732.2,142.5 732.5,142.4 732.8,142.4 733,142.5 733.2,142.7 733.5,142.9 733.8,142.9 734,142.9 734.2,142.9 734.5,143.1 734.8,143 735,143.1 735.2,143.1 735.5,143 735.8,143.2 736,143.3 736.2,143.6 736.5,143.8 736.8,143.9 737,144 737.2,144 737.5,144 737.8,144 738,144 738.2,144 738.5,144 738.8,144 739,144 739.2,144 739.5,144 739.8,144 740,144 740.2,144 740.5,144 740.8,144 741,144 741.2,144 741.5,144 741.8,144 742,144 742.2,144 742.5,144 742.8,144 743,144 743.2,144 743.5,143.9 743.8,143.7 744,143.4 744.2,143.2 744.5,143.1 744.8,143 745,142.4 745.2,142.4 745.5,142.3 745.8,142.2 746,141.9 746.2,141.5 746.5,141.6 746.8,141.6 747,141.6 747.2,141.2 747.5,140.8 747.8,140.6 748,140.5 748.2,140.4 748.5,140.4 748.8,140.3 749,140.5 749.2,140.2 749.5,140.1 749.8,139.9 750,139.6 750.2,139.6 750.5,139.5 750.8,139.5 751,139.3 751.2,139.3 751.5,139.5 751.8,139.5 752,139.5 752.2,139.5 752.5,139.8 752.8,139.3 753,140 753.2,140.3 753.5,140.6 753.8,140.4 754,140.5 754.2,140.6 754.5,141.2 754.8,141.4 755,141.6 755.2,141.8 755.5,141.9 755.8,142.2 756,142.1 756.2,142.2 756.5,141.9 756.8,142.4 757,143.1 757.2,143.3 757.5,143.6 757.8,143.6 758,143.8 758.2,144 758.5,144 758.8,144 759,144 759.2,144 759.5,144 759.8,144 760,144 760.2,144 760.5,144 760.8,144 761,144 761.2,144 761.5,144 761.8,144 762,144 762.2,144 762.5,144 762.8,144 763,144 763.2,144 763.5,144 763.8,144 764,144 764.2,144 764.5,144 764.8,144 765,144 765.2,144 765.5,144 765.8,144 766,144 766.2,144 766.5,144 766.8,144 767,144 767.2,144 767.5,144 767.8,144 768,144 768.2,144 768.5,144 768.8,144 769,144 769.2,144 769.5,144 769.8,144 770,144 770.2,144 770.5,144 770.8,144 771,144 771.2,144 771.5,144 771.8,144 772,144 772.2,144 772.5,144 772.8,144 773,144 773.2,144 773.5,144 773.8,144 774,144 774.2,144 774.5,144 774.8,144 775,144 775.2,144 775.5,144 775.8,144 776,144 776.2,144 776.5,144 776.8,144 777,144 777.2,144 777.5,144 777.8,144 778,144 778.2,144 778.5,144 778.5,146.8 778.2,146.8 778,146.8 777.8,146.8 777.5,146.8 777.2,146.8 777,146.8 776.8,146.8 776.5,146.8 776.2,146.8 776,146.8 775.8,146.8 775.5,146.8 775.2,146.8 775,146.8 774.8,146.8 774.5,146.8 774.2,146.8 774,146.8 773.8,146.8 773.5,146.8 773.2,146.8 773,146.8 772.8,146.8 772.5,146.8 772.2,146.8 772,146.8 771.8,146.8 771.5,146.8 771.2,146.8 771,146.8 770.8,146.8 770.5,146.8 770.2,146.8 770,146.8 769.8,146.8 769.5,146.8 769.2,146.8 769,146.8 768.8,146.8 768.5,146.8 768.2,146.8 768,146.8 767.8,146.8 767.5,146.8 767.2,146.8 767,146.8 766.8,146.8 766.5,146.8 766.2,146.8 766,146.8 765.8,146.8 765.5,146.8 765.2,146.8 765,146.8 764.8,146.8 764.5,146.8 764.2,146.8 764,146.8 763.8,146.8 763.5,146.8 763.2,146.8 763,146.8 762.8,146.8 762.5,146.8 762.2,146.8 762,146.8 761.8,146.8 761.5,146.8 761.2,146.8 761,146.8 760.8,146.8 760.5,146.8 760.2,146.8 760,146.8 759.8,147.1 759.5,147.4 759.2,147.8 759,148.3 758.8,148.6 758.5,149 758.2,149.2 758,149.7 757.8,149.6 757.5,150 757.2,150 757,150.2 756.8,150.7 756.5,151.1 756.2,151.7 756,151.6 755.8,151.8 755.5,151 755.2,151 755,151.1 754.8,151.3 754.5,151.4 754.2,151.5 754,151.7 753.8,152.2 753.5,152.7 753.2,153.7 753,153.6 752.8,153.7 752.5,153.2 752.2,153.6 752,153.1 751.8,153.3 751.5,153.2 751.2,153.3 751,152.9 750.8,153 750.5,153.5 750.2,154 750,153.7 749.8,153.9 749.5,154.1 749.2,155 749,155.5 748.8,155.6 748.5,156.8 748.2,157.4 748,158.5 747.8,157.5 747.5,157.8 747.2,157.1 747,156.4 746.8,156.3 746.5,156 746.2,155.9 746,154.8 745.8,154.6 745.5,154 745.2,153.5 745,152.2 744.8,151.7 744.5,151 744.2,150.7 744,150.1 743.8,149.6 743.5,149 743.2,148.5 743,147.9 742.8,147.3 742.5,146.8 742.2,146.8 742,146.8 741.8,146.8 741.5,146.8 741.2,146.8 741,146.8 740.8,146.8 740.5,146.8 740.2,146.8 740,146.8 739.8,146.8 739.5,146.8 739.2,146.8 739,146.8 738.8,146.8 738.5,146.8 738.2,146.8 738,146.8 737.8,146.8 737.5,146.8 737.2,146.8 737,146.8 736.8,146.8 736.5,147 736.2,147.1 736,147.3 735.8,147.4 735.5,147.3 735.2,147.4 735,147.5 734.8,147.5 734.5,147.6 734.2,147.7 734,147.7 733.8,147.9 733.5,147.9 733.2,148 733,148 732.8,148.2 732.5,148.4 732.2,148.4 732,148.5 731.8,148.5 731.5,148.4 731.2,148.2 731,148.2 730.8,148.4 730.5,148.6 730.2,148.6 730,148.6 729.8,148.6 729.5,148.6 729.2,148.4 729,148.3 728.8,148.3 728.5,148.4 728.2,148.6 728,148.3 727.8,148.2 727.5,148.2 727.2,148.4 727,148.5 726.8,148.2 726.5,148.3 726.2,148.1 726,147.8 725.8,147.3 725.5,146.9 725.2,146.8 725,146.8 724.8,146.8 724.5,146.8 724.2,146.8 724,146.8 723.8,146.8 723.5,146.8 723.2,146.8 723,146.8 722.8,146.8 722.5,146.8 722.2,146.8 722,146.8 721.8,146.8 721.5,146.8 721.2,146.8 721,146.8 720.8,146.8 720.5,146.8 720.2,146.8 720,146.8 719.8,146.8 719.5,146.8 719.2,146.8 719,146.8 718.8,146.8 718.5,146.8 718.2,146.8 718,146.8 717.8,146.8 717.5,146.8 717.2,146.9 717,147.3 716.8,147.6 716.5,147.9 716.2,147.9 716,148.3 715.8,148.6 715.5,148.8 715.2,148.9 715,149.3 714.8,149.8 714.5,150.5 714.2,151.2 714,151.6 713.8,151.7 713.5,151.7 713.2,151.9 713,152.7 712.8,152.6 712.5,152.9 712.2,153.4 712,154.9 711.8,156 711.5,157.1 711.2,157.5 711,157.7 710.8,157.5 710.5,158 710.2,158.4 710,159.8 709.8,161 709.5,159.2 709.2,158.8 709,159.1 708.8,159.7 708.5,159.2 708.2,159.4 708,159.8 707.8,161.7 707.5,164.3 707.2,165.9 707,164.4 706.8,163.2 706.5,162.9 706.2,163.4 706,164.2 705.8,164 705.5,163 705.2,161.9 705,161.8 704.8,160.9 704.5,161.4 704.2,161.9 704,162.8 703.8,162.5 703.5,161.2 703.2,161.4 703,161.5 702.8,162 702.5,161.7 702.2,162.7 702,163.6 701.8,164.2 701.5,165.4 701.2,165.6 701,163.7 700.8,165.1 700.5,166.8 700.2,167.3 700,167.7 699.8,166.9 699.5,166.7 699.2,168.2 699,169.2 698.8,170.4 698.5,172.1 698.2,173.8 698,173.7 697.8,172.3 697.5,173.8 697.2,174 697,174 696.8,175.1 696.5,177.3 696.2,177.3 696,178.6 695.8,179.4 695.5,181.1 695.2,177.7 695,177.6 694.8,177.6 694.5,178.3 694.2,179.4 694,180.3 693.8,178.6 693.5,175.3 693.2,172.6 693,171.2 692.8,170.5 692.5,172.6 692.2,175.8 692,176.6 691.8,174.6 691.5,174.5 691.2,174.8 691,173.7 690.8,173.3 690.5,171.7 690.2,170.7 690,171.3 689.8,171.5 689.5,174.7 689.2,172.6 689,174.1 688.8,173.8 688.5,176.1 688.2,174.4 688,174.1 687.8,175.2 687.5,175.9 687.2,176.4 687,175.5 686.8,175.4 686.5,175.6 686.2,176.3 686,176.5 685.8,178.1 685.5,177 685.2,178.7 685,176.3 684.8,176.6 684.5,174.5 684.2,176.8 684,177 683.8,177.4 683.5,174.3 683.2,175.4 683,177 682.8,179.8 682.5,178.2 682.2,179.3 682,177.2 681.8,178.8 681.5,176.9 681.2,176.4 681,173.4 680.8,174.6 680.5,173.7 680.2,175.1 680,173.7 679.8,174.2 679.5,176.1 679.2,176 679,176 678.8,175.9 678.5,175.3 678.2,176.2 678,172.2 677.8,170 677.5,169.6 677.2,172.4 677,174.2 676.8,174.2 676.5,171.7 676.2,172.1 676,170.3 675.8,168.5 675.5,166.3 675.2,165.1 675,164.3 674.8,164.3 674.5,165.1 674.2,165.9 674,165.7 673.8,165.7 673.5,165.1 673.2,166.2 673,164.9 672.8,164.8 672.5,163.1 672.2,163.5 672,162.6 671.8,163.3 671.5,163.1 671.2,162.9 671,163 670.8,161.2 670.5,161.7 670.2,161.4 670,161.6 669.8,160.1 669.5,159.3 669.2,157.9 669,157.5 668.8,156.2 668.5,156.4 668.2,156.6 668,155.8 667.8,155.3 667.5,154.5 667.2,153.8 667,152.4 666.8,151.8 666.5,150.7 666.2,150 666,149.1 665.8,148.5 665.5,148 665.2,147.3 665,146.8 664.8,146.8 664.5,146.8 664.2,146.8 664,146.8 663.8,146.8 663.5,146.8 663.2,146.8 663,146.8 662.8,146.8 662.5,146.8 662.2,146.8 662,146.8 661.8,147.2 661.5,147.8 661.2,148.5 661,148.9 660.8,149.2 660.5,149.7 660.2,150.2 660,150.7 659.8,151.3 659.5,151.9 659.2,152.5 659,152.4 658.8,152.4 658.5,152.2 658.2,152.7 658,153.1 657.8,154.3 657.5,154.7 657.2,154.9 657,154.8 656.8,155.7 656.5,156.2 656.2,157.8 656,158.9 655.8,157.6 655.5,157 655.2,157.5 655,158.8 654.8,159.7 654.5,160 654.2,159.5 654,159.6 653.8,159.3 653.5,159.7 653.2,159.5 653,159.1 652.8,158.5 652.5,157.6 652.2,158.1 652,157.8 651.8,157.6 651.5,156.2 651.2,155.4 651,154.8 650.8,154 650.5,152.6 650.2,152.2 650,151.5 649.8,151.1 649.5,150.3 649.2,149.9 649,149.2 648.8,148.5 648.5,147.7 648.2,147.1 648,146.8 647.8,146.8 647.5,146.8 647.2,146.8 647,146.8 646.8,146.8 646.5,146.8 646.2,146.8 646,146.8 645.8,146.8 645.5,146.8 645.2,146.8 645,146.8 644.8,146.8 644.5,146.8 644.2,146.8 644,146.9 643.8,147 643.5,147 643.2,147.2 643,147.5 642.8,147.5 642.5,147.7 642.2,147.7 642,147.7 641.8,147.7 641.5,147.7 641.2,148 641,148.2 640.8,148 640.5,148 640.2,148 640,148.2 639.8,148.1 639.5,147.8 639.2,147.7 639,147.9 638.8,148 638.5,148 638.2,148 638,147.9 637.8,147.9 637.5,147.9 637.2,147.9 637,147.9 636.8,147.7 636.5,147.7 636.2,147.7 636,147.8 635.8,147.4 635.5,147 635.2,146.8 635,146.8 634.8,146.8 634.5,146.8 634.2,146.8 634,146.8 633.8,146.8 633.5,146.8 633.2,146.8 633,146.8 632.8,146.8 632.5,146.8 632.2,146.8 632,146.8 631.8,146.8 631.5,146.8 631.2,146.8 631,146.8 630.8,146.8 630.5,146.8 630.2,146.9 630,147.3 629.8,147.5 629.5,148 629.2,148.4 629,148.8 628.8,149.1 628.5,149.3 628.2,149.6 628,149.7 627.8,150 627.5,150.2 627.2,150.6 627,151.2 626.8,151.4 626.5,152.3 626.2,153.5 626,153.6 625.8,153.6 625.5,154.1 625.2,155 625,155.2 624.8,155.5 624.5,155.9 624.2,156 624,156 623.8,156.2 623.5,156.4 623.2,156.5 623,156.3 622.8,156.5 622.5,157.8 622.2,157.6 622,158 621.8,157.9 621.5,158 621.2,158.7 621,159.4 620.8,159.9 620.5,159.5 620.2,159.7 620,160.8 619.8,160.6 619.5,160.9 619.2,161.8 619,162.3 618.8,162.2 618.5,163.3 618.2,163.4 618,163.5 617.8,162.9 617.5,163.3 617.2,164.6 617,165.9 616.8,167.1 616.5,166.7 616.2,167.1 616,167.2 615.8,169 615.5,169.6 615.2,170.5 615,172.6 614.8,172.8 614.5,170.9 614.2,169.4 614,166.6 613.8,166.6 613.5,166 613.2,167.9 613,165.5 612.8,165.5 612.5,163.9 612.2,163.8 612,164 611.8,167.6 611.5,170.2 611.2,172.9 611,170.5 610.8,172.8 610.5,173.4 610.2,175.7 610,177.2 609.8,179 609.5,178.8 609.2,178.3 609,178.4 608.8,179.5 608.5,180.5 608.2,181.4 608,180.3 607.8,179.3 607.5,178.9 607.2,180.6 607,183.1 606.8,180.8 606.5,181.2 606.2,177.9 606,179 605.8,178 605.5,180.4 605.2,180.6 605,182.1 604.8,181.1 604.5,183.7 604.2,183.3 604,185.2 603.8,182.5 603.5,181.5 603.2,180.3 603,181.5 602.8,180.9 602.5,181.4 602.2,178.1 602,178.9 601.8,175.2 601.5,176.1 601.2,173.7 601,174.6 600.8,174.6 600.5,174 600.2,172.5 600,170.9 599.8,169.9 599.5,168.8 599.2,167.8 599,167.3 598.8,165.9 598.5,165 598.2,163.4 598,161.5 597.8,161.8 597.5,162.1 597.2,161 597,159.3 596.8,159.1 596.5,160.9 596.2,162.5 596,164.4 595.8,165.5 595.5,169.5 595.2,169.7 595,173.9 594.8,172.3 594.5,174 594.2,173 594,172.4 593.8,171.4 593.5,169.8 593.2,168 593,167.9 592.8,166.2 592.5,165.1 592.2,164.5 592,164 591.8,162.1 591.5,160.1 591.2,159.6 591,158.9 590.8,157.8 590.5,157.7 590.2,156.9 590,156.6 589.8,155.3 589.5,154.5 589.2,153.4 589,152.5 588.8,152.2 588.5,151.4 588.2,151 588,150 587.8,149.7 587.5,148.7 587.2,148.2 587,147.5 586.8,146.8 586.5,146.8 586.2,146.8 586,146.8 585.8,146.8 585.5,146.9 585.2,147.6 585,148.4 584.8,149.1 584.5,149.4 584.2,149.8 584,150.1 583.8,150.5 583.5,150.9 583.2,151.6 583,152.1 582.8,152.6 582.5,152.5 582.2,153.1 582,152.7 581.8,153.5 581.5,154.6 581.2,156.2 581,156 580.8,156.3 580.5,157 580.2,157.1 580,157.1 579.8,157.8 579.5,158.3 579.2,159.7 579,160.7 578.8,161.7 578.5,163 578.2,163.4 578,164.3 577.8,163 577.5,161.4 577.2,162 577,160.9 576.8,160.3 576.5,158.4 576.2,158.1 576,159.2 575.8,158.7 575.5,157.5 575.2,158.4 575,158.4 574.8,159.3 574.5,158.2 574.2,158.7 574,158.1 573.8,157.6 573.5,158.4 573.2,159.3 573,160.2 572.8,158.9 572.5,159.3 572.2,160.1 572,161.5 571.8,161.7 571.5,161.4 571.2,161.8 571,161.4 570.8,162.4 570.5,162.7 570.2,164 570,164.6 569.8,164.4 569.5,165 569.2,165.2 569,167.2 568.8,167.5 568.5,166.7 568.2,165.2 568,164.1 567.8,163.6 567.5,164.5 567.2,163.1 567,161.9 566.8,159.2 566.5,157.8 566.2,156.7 566,156.7 565.8,156.1 565.5,155.6 565.2,154.7 565,154.4 564.8,153.3 564.5,152.2 564.2,150.9 564,149.7 563.8,148.8 563.5,148 563.2,146.8 563,146.8 562.8,146.8 562.5,146.8 562.2,146.8 562,146.8 561.8,146.8 561.5,146.8 561.2,146.8 561,146.8 560.8,146.8 560.5,146.8 560.2,146.8 560,146.8 559.8,146.8 559.5,146.8 559.2,146.8 559,146.8 558.8,146.8 558.5,146.8 558.2,146.8 558,146.8 557.8,146.8 557.5,146.8 557.2,146.8 557,146.8 556.8,146.8 556.5,146.8 556.2,146.8 556,146.8 555.8,146.8 555.5,147.5 555.2,148.6 555,150 554.8,151.1 554.5,152.3 554.2,154.3 554,156.6 553.8,158.6 553.5,158.1 553.2,157.9 553,158.6 552.8,158.9 552.5,159.7 552.2,160.1 552,160.6 551.8,163.3 551.5,162.9 551.2,164.8 551,162.6 550.8,163.4 550.5,162.8 550.2,161.2 550,161 549.8,160.6 549.5,158.9 549.2,157 549,155.7 548.8,154.9 548.5,151.1 548.2,148.6 548,146.8 547.8,146.8 547.5,147.3 547.2,147.9 547,148.5 546.8,148.9 546.5,149.1 546.2,149.6 546,150 545.8,150.5 545.5,151.1 545.2,151.4 545,151.9 544.8,152.5 544.5,153.9 544.2,154.8 544,155.3 543.8,155.4 543.5,155.5 543.2,155.3 543,156.8 542.8,157.5 542.5,157.7 542.2,156.7 542,157.2 541.8,157.9 541.5,158.6 541.2,160 541,161.1 540.8,160 540.5,162.1 540.2,164.2 540,166.7 539.8,163.9 539.5,164.1 539.2,165.5 539,165.5 538.8,165.4 538.5,164.9 538.2,164.8 538,165 537.8,165.3 537.5,165.5 537.2,165.5 537,165.1 536.8,165.4 536.5,165.8 536.2,167.3 536,167.5 535.8,169.1 535.5,170 535.2,170.1 535,171 534.8,171.6 534.5,174.7 534.2,174.7 534,175.2 533.8,175.7 533.5,177.1 533.2,179.1 533,179.5 532.8,179.6 532.5,178.4 532.2,176.3 532,176.7 531.8,176.2 531.5,175.8 531.2,176.1 531,173.5 530.8,174.9 530.5,172.9 530.2,176 530,175.2 529.8,177.3 529.5,175.8 529.2,176.6 529,176.6 528.8,175.4 528.5,175.9 528.2,174.5 528,177.9 527.8,178.1 527.5,179.6 527.2,182.6 527,182.2 526.8,179.5 526.5,178.4 526.2,179.9 526,184.7 525.8,184.2 525.5,186 525.2,187.6 525,190.5 524.8,189.7 524.5,187.3 524.2,185 524,183.1 523.8,182.9 523.5,180.8 523.2,180.7 523,177.5 522.8,178 522.5,180 522.2,182.9 522,184.1 521.8,180.4 521.5,180.8 521.2,178.9 521,182.1 520.8,179.8 520.5,181.5 520.2,179.5 520,178.5 519.8,176.6 519.5,179 519.2,180.4 519,182.7 518.8,182.7 518.5,183.3 518.2,180.3 518,181.7 517.8,182.4 517.5,182 517.2,180.8 517,180.3 516.8,179.4 516.5,177 516.2,175.5 516,176.1 515.8,175.5 515.5,174 515.2,172.6 515,170.9 514.8,169.2 514.5,167.2 514.2,165.9 514,166.4 513.8,167 513.5,162.8 513.2,161.9 513,161 512.8,160.8 512.5,159.5 512.2,159.5 512,159.3 511.8,158.6 511.5,157.3 511.2,155.8 511,154.7 510.8,154.1 510.5,153.5 510.2,152.5 510,151.1 509.8,149.9 509.5,148.8 509.2,148.2 509,147.4 508.8,146.8 508.5,146.8 508.2,146.8 508,146.8 507.8,146.8 507.5,146.8 507.2,146.8 507,146.8 506.8,146.8 506.5,146.8 506.2,146.8 506,146.8 505.8,146.8 505.5,146.8 505.2,146.8 505,146.8 504.8,146.8 504.5,146.8 504.2,146.8 504,146.8 503.8,147 503.5,147.2 503.2,147.3 503,147.5 502.8,147.6 502.5,147.5 502.2,147.7 502,147.6 501.8,147.9 501.5,147.7 501.2,147.7 501,147.8 500.8,147.9 500.5,147.8 500.2,147.7 500,147.7 499.8,147.8 499.5,147.7 499.2,147.8 499,147.7 498.8,147.6 498.5,147.4 498.2,147.4 498,147.3 497.8,147.4 497.5,147.3 497.2,147.5 497,147.5 496.8,147.5 496.5,147.5 496.2,147.6 496,147.6 495.8,147.7 495.5,147.8 495.2,147.7 495,147.6 494.8,147.6 494.5,147.7 494.2,147.7 494,147.5 493.8,147.6 493.5,147.5 493.2,147.5 493,147.4 492.8,147.2 492.5,147 492.2,146.8 492,146.8 491.8,146.8 491.5,146.8 491.2,146.8 491,146.8 490.8,146.8 490.5,146.8 490.2,146.8 490,146.8 489.8,146.8 489.5,146.8 489.2,146.8 489,146.8 488.8,146.8 488.5,146.8 488.2,146.8 488,146.8 487.8,146.8 487.5,146.8 487.2,146.8 487,146.8 486.8,147.2 486.5,147.4 486.2,147.9 486,148.3 485.8,148.9 485.5,149 485.2,149.7 485,149.9 484.8,150.8 484.5,150.6 484.2,151.4 484,151.5 483.8,152.2 483.5,152.1 483.2,152.7 483,153.2 482.8,153.9 482.5,154.2 482.2,154.7 482,154.8 481.8,154.8 481.5,155.3 481.2,155.9 481,157 480.8,158 480.5,159.8 480.2,160.3 480,159.8 479.8,159.5 479.5,159.7 479.2,160.9 479,160.1 478.8,161.5 478.5,160.9 478.2,163.6 478,164.5 477.8,163.3 477.5,164 477.2,164.5 477,165.9 476.8,167 476.5,167.4 476.2,167.9 476,167.6 475.8,166.6 475.5,166.4 475.2,166.1 475,166.6 474.8,168.8 474.5,171.5 474.2,172.3 474,172.9 473.8,172.8 473.5,171.7 473.2,170.6 473,171.6 472.8,174.3 472.5,175.9 472.2,175.5 472,178.2 471.8,177.9 471.5,175.6 471.2,176.7 471,175.3 470.8,176.9 470.5,176.9 470.2,178.6 470,180.2 469.8,178 469.5,177.7 469.2,179.5 469,175.1 468.8,175.7 468.5,174.4 468.2,174.2 468,172.2 467.8,172.4 467.5,172.3 467.2,173.5 467,172.8 466.8,174.3 466.5,175.9 466.2,170.8 466,168.2 465.8,167.1 465.5,168 465.2,168.2 465,168.9 464.8,168.8 464.5,168.4 464.2,167.7 464,167.1 463.8,166.2 463.5,167.2 463.2,166.2 463,167.1 462.8,167.7 462.5,169.5 462.2,173 462,177 461.8,178.5 461.5,182.6 461.2,185.4 461,182.7 460.8,178.6 460.5,177.6 460.2,174 460,172.4 459.8,170.2 459.5,168.2 459.2,167.8 459,165.6 458.8,165.4 458.5,164.4 458.2,164.9 458,164.6 457.8,165.5 457.5,163.9 457.2,160.5 457,160.6 456.8,160.3 456.5,160.5 456.2,159.8 456,160.7 455.8,161.4 455.5,161.3 455.2,160.8 455,160.3 454.8,161.1 454.5,161.9 454.2,162.4 454,162.4 453.8,162.4 453.5,161.2 453.2,160.6 453,159.9 452.8,158.7 452.5,157.2 452.2,156.2 452,155 451.8,153.9 451.5,152.8 451.2,152.1 451,151 450.8,149.6 450.5,148.6 450.2,147.9 450,147.1 449.8,146.8 449.5,146.8 449.2,146.8 449,146.8 448.8,146.8 448.5,146.8 448.2,146.8 448,146.8 447.8,146.8 447.5,146.8 447.2,146.8 447,147.3 446.8,147.5 446.5,148 446.2,148.3 446,148.7 445.8,148.8 445.5,148.8 445.2,148.9 445,149.5 444.8,149.3 444.5,149.7 444.2,149.8 444,150.3 443.8,150.3 443.5,151 443.2,151.2 443,151.6 442.8,151.5 442.5,151.4 442.2,151.4 442,151.3 441.8,151.2 441.5,150.9 441.2,150.8 441,150.6 440.8,150.4 440.5,149.9 440.2,149.5 440,149.2 439.8,149 439.5,148.5 439.2,147.7 439,147.2 438.8,146.8 438.5,146.8 438.2,146.8 438,146.8 437.8,146.8 437.5,146.8 437.2,146.8 437,146.8 436.8,146.8 436.5,146.8 436.2,146.8 436,146.8 435.8,146.8 435.5,146.8 435.2,146.8 435,146.8 434.8,146.8 434.5,146.8 434.2,146.8 434,146.8 433.8,146.8 433.5,146.8 433.2,146.8 433,146.8 432.8,146.8 432.5,146.8 432.2,146.8 432,146.8 431.8,146.8 431.5,146.8 431.2,146.8 431,146.8 430.8,146.8 430.5,146.8 430.2,146.8 430,146.8 429.8,146.8 429.5,146.8 429.2,146.8 429,146.8 428.8,146.8 428.5,146.8 428.2,146.8 428,146.8 427.8,146.8 427.5,146.8 427.2,146.8 427,146.8 426.8,146.8 426.5,146.8 426.2,146.8 426,146.8 425.8,146.8 425.5,146.8 425.2,146.8 425,146.8 424.8,146.9 424.5,147.3 424.2,147.6 424,147.7 423.8,147.9 423.5,148.2 423.2,148.7 423,148.9 422.8,149 422.5,149.3 422.2,149.2 422,149.3 421.8,149.6 421.5,149.8 421.2,150 421,150.3 420.8,150.5 420.5,151.2 420.2,151.2 420,152.2 419.8,152.7 419.5,153.2 419.2,152.9 419,153 418.8,153.1 418.5,153.2 418.2,153.3 418,153.4 417.8,154.5 417.5,154.5 417.2,155.7 417,156.2 416.8,155.7 416.5,155.4 416.2,155.9 416,156.7 415.8,158 415.5,158.3 415.2,158.9 415,159.4 414.8,160.2 414.5,160.3 414.2,161.7 414,161.8 413.8,162.3 413.5,160.7 413.2,161.4 413,161.1 412.8,161.4 412.5,161.2 412.2,160.9 412,161.4 411.8,160.8 411.5,163.3 411.2,164.8 411,166.2 410.8,165.6 410.5,166 410.2,166.1 410,165.2 409.8,163.8 409.5,163.3 409.2,162.9 409,163.7 408.8,163.9 408.5,165.1 408.2,163.5 408,163 407.8,162.8 407.5,162.8 407.2,163.2 407,162.8 406.8,163 406.5,162.6 406.2,162.2 406,160.9 405.8,160 405.5,159.7 405.2,159.9 405,158.8 404.8,158 404.5,156.8 404.2,156.9 404,155.4 403.8,155.1 403.5,155 403.2,155.2 403,155 402.8,156.1 402.5,157.1 402.2,157.8 402,157.6 401.8,157.9 401.5,158.2 401.2,158.9 401,158.7 400.8,159.1 400.5,159.4 400.2,160.3 400,162 399.8,161.1 399.5,161.4 399.2,160.9 399,160.6 398.8,160.1 398.5,158.7 398.2,157.5 398,156.4 397.8,156.1 397.5,156.4 397.2,156.3 397,156.9 396.8,156.5 396.5,156.3 396.2,155.6 396,155.3 395.8,154.9 395.5,154.3 395.2,153.7 395,153.7 394.8,153.3 394.5,152.5 394.2,151.6 394,150.7 393.8,149.9 393.5,149 393.2,148.4 393,147.7 392.8,147.1 392.5,146.8 392.2,146.8 392,146.8 391.8,146.8 391.5,146.8 391.2,146.8 391,146.8 390.8,146.8 390.5,146.8 390.2,146.8 390,146.8 389.8,146.8 389.5,146.8 389.2,147 389,147.2 388.8,147.4 388.5,147.5 388.2,147.8 388,148.1 387.8,148.6 387.5,148.8 387.2,149 387,149.2 386.8,149.2 386.5,149.4 386.2,149.3 386,149.7 385.8,150 385.5,150.5 385.2,150.3 385,150.6 384.8,150.7 384.5,151 384.2,151.3 384,151.7 383.8,151.9 383.5,151.8 383.2,152 383,152.2 382.8,152.6 382.5,152.7 382.2,153 382,153.3 381.8,153.5 381.5,154.2 381.2,154.4 381,154.4 380.8,153.7 380.5,153.7 380.2,154.1 380,154.7 379.8,155.4 379.5,155.9 379.2,156.1 379,156.7 378.8,156.6 378.5,157.3 378.2,158.5 378,160.2 377.8,161.5 377.5,162.4 377.2,161.8 377,161.4 376.8,161.5 376.5,161.6 376.2,160.1 376,159.4 375.8,159 375.5,159.6 375.2,159.2 375,158.3 374.8,157 374.5,156.4 374.2,155.8 374,156.3 373.8,155.9 373.5,157.1 373.2,157.7 373,158.1 372.8,158.4 372.5,159.4 372.2,158.9 372,160.7 371.8,160.6 371.5,160.5 371.2,161.3 371,162.6 370.8,162.8 370.5,164.6 370.2,164.7 370,165.9 369.8,164.5 369.5,163.7 369.2,162.4 369,160.8 368.8,159.6 368.5,158.9 368.2,159.2 368,160 367.8,160.9 367.5,161.3 367.2,161.3 367,161.5 366.8,161.4 366.5,161.3 366.2,160.8 366,161.6 365.8,161.8 365.5,162.4 365.2,161.7 365,161.2 364.8,161.3 364.5,161.8 364.2,161.7 364,162.8 363.8,164.1 363.5,165.7 363.2,166.7 363,167.4 362.8,168.4 362.5,168.4 362.2,168.2 362,169.2 361.8,169.6 361.5,169.4 361.2,168.2 361,167.4 360.8,168.4 360.5,167.6 360.2,168.2 360,166.1 359.8,166.1 359.5,165.6 359.2,166.1 359,166.7 358.8,166.3 358.5,167.6 358.2,167.7 358,168.6 357.8,168.6 357.5,168.5 357.2,168.8 357,170.8 356.8,170.3 356.5,168.5 356.2,165.2 356,165.9 355.8,164.9 355.5,165.9 355.2,165.5 355,166.4 354.8,167 354.5,167 354.2,166.2 354,166.4 353.8,169 353.5,170.1 353.2,167.1 353,164.3 352.8,163.9 352.5,163.6 352.2,166.4 352,166.2 351.8,166.7 351.5,164 351.2,161.2 351,160.1 350.8,159.5 350.5,158.2 350.2,157.2 350,156.7 349.8,157.2 349.5,156.1 349.2,156.7 349,156.2 348.8,155.1 348.5,154.4 348.2,153.8 348,152.7 347.8,151.6 347.5,150.4 347.2,149.7 347,148.6 346.8,147.9 346.5,147.2 346.2,146.8 346,146.8 345.8,146.8 345.5,146.8 345.2,146.8 345,146.8 344.8,146.8 344.5,146.8 344.2,146.8 344,146.8 343.8,146.8 343.5,146.8 343.2,146.8 343,146.8 342.8,146.8 342.5,146.8 342.2,146.8 342,146.8 341.8,146.8 341.5,146.8 341.2,146.9 341,147.1 340.8,147.3 340.5,147.5 340.2,147.3 340,147.4 339.8,147.5 339.5,147.7 339.2,147.7 339,147.7 338.8,147.5 338.5,147.7 338.2,147.7 338,147.8 337.8,147.5 337.5,147.4 337.2,147.3 337,147.4 336.8,147.4 336.5,147.4 336.2,147 336,146.8 335.8,146.8 335.5,146.8 335.2,146.8 335,146.8 334.8,146.8 334.5,146.8 334.2,146.8 334,146.8 333.8,146.8 333.5,146.9 333.2,147.6 333,148.2 332.8,149 332.5,149.7 332.2,150.6 332,151 331.8,151.9 331.5,152.7 331.2,153.9 331,154.2 330.8,155 330.5,155.6 330.2,156.3 330,156.8 329.8,157.4 329.5,158 329.2,159 329,160.2 328.8,161.2 328.5,160.6 328.2,160.1 328,159.8 327.8,160.9 327.5,160.5 327.2,162 327,161.9 326.8,163.4 326.5,164.2 326.2,164.9 326,166.3 325.8,168.2 325.5,168.7 325.2,169.8 325,166.8 324.8,169.8 324.5,170.9 324.2,173.9 324,176 323.8,178.9 323.5,182.4 323.2,183.4 323,184.1 322.8,182.5 322.5,180.8 322.2,180.1 322,179.8 321.8,182.2 321.5,180.4 321.2,181 321,181.2 320.8,184.3 320.5,183.3 320.2,182.9 320,184 319.8,188.2 319.5,189.8 319.2,190.8 319,192 318.8,193 318.5,189.2 318.2,186.2 318,184.2 317.8,187.1 317.5,190.7 317.2,197.6 317,196.8 316.8,197.7 316.5,197.3 316.2,202 316,203.9 315.8,204.4 315.5,205.7 315.2,206.2 315,202.2 314.8,201.3 314.5,204 314.2,208.7 314,211.7 313.8,212.4 313.5,204.5 313.2,201.1 313,198.5 312.8,200.9 312.5,201 312.2,197.8 312,196 311.8,191.6 311.5,188.3 311.2,188.1 311,187.2 310.8,183.4 310.5,183.1 310.2,180.7 310,178.9 309.8,177.6 309.5,178.2 309.2,178.1 309,178.7 308.8,178 308.5,177.3 308.2,178.9 308,179.5 307.8,181.8 307.5,179.5 307.2,181.2 307,189 306.8,193.5 306.5,190.8 306.2,192.6 306,200.9 305.8,207.3 305.5,205.1 305.2,200.8 305,197.9 304.8,191.7 304.5,189.2 304.2,188 304,186.4 303.8,185.5 303.5,184.5 303.2,183.7 303,182.3 302.8,182.1 302.5,182.9 302.2,183.8 302,185.2 301.8,180.7 301.5,178.6 301.2,174.9 301,175.2 300.8,174.5 300.5,176 300.2,173.3 300,172.8 299.8,171.4 299.5,171.3 299.2,170.1 299,168.8 298.8,167.7 298.5,167.1 298.2,166.4 298,166 297.8,164.4 297.5,163.4 297.2,161.7 297,160.3 296.8,158 296.5,155.8 296.2,153.7 296,152.1 295.8,150.8 295.5,149.7 295.2,148.8 295,147.5 294.8,146.8 294.5,146.8 294.2,146.8 294,146.8 293.8,146.8 293.5,146.8 293.2,146.8 293,146.8 292.8,146.8 292.5,146.8 292.2,146.8 292,146.8 291.8,146.8 291.5,146.8 291.2,146.8 291,146.8 290.8,146.8 290.5,146.8 290.2,146.8 290,146.8 289.8,146.8 289.5,146.8 289.2,146.8 289,146.8 288.8,146.8 288.5,146.8 288.2,146.8 288,147 287.8,147.2 287.5,147.6 287.2,147.8 287,148 286.8,148 286.5,147.8 286.2,148 286,148.5 285.8,148.6 285.5,148.6 285.2,148.7 285,148.8 284.8,148.9 284.5,148.8 284.2,148.6 284,148.6 283.8,148.7 283.5,148.4 283.2,148.6 283,148.5 282.8,148.8 282.5,148.9 282.2,148.7 282,148.5 281.8,148.2 281.5,148.2 281.2,148.4 281,148.3 280.8,148.5 280.5,148.6 280.2,148.7 280,148.5 279.8,148.3 279.5,148.1 279.2,147.9 279,147.6 278.8,147.6 278.5,147.6 278.2,147.5 278,147.2 277.8,146.9 277.5,146.8 277.2,146.8 277,146.8 276.8,146.8 276.5,146.8 276.2,146.8 276,146.8 275.8,146.8 275.5,146.8 275.2,146.8 275,146.8 274.8,146.8 274.5,146.8 274.2,146.8 274,146.8 273.8,146.8 273.5,146.8 273.2,146.8 273,146.9 272.8,147.4 272.5,147.8 272.2,148.1 272,148.5 271.8,149 271.5,149.6 271.2,150.2 271,150.8 270.8,151.2 270.5,151.4 270.2,151.9 270,152.1 269.8,153.4 269.5,153.9 269.2,154.7 269,154.6 268.8,155.6 268.5,156.1 268.2,156.9 268,157 267.8,158.5 267.5,159.3 267.2,161.8 267,162.4 266.8,164.2 266.5,163.9 266.2,164.3 266,165 265.8,164.6 265.5,164.5 265.2,162.3 265,161.9 264.8,163.9 264.5,165.3 264.2,165.2 264,164.4 263.8,165.6 263.5,168.1 263.2,169.6 263,171.7 262.8,172.5 262.5,171.6 262.2,171.4 262,171.4 261.8,172.9 261.5,174.1 261.2,172.5 261,173.8 260.8,173.4 260.5,175.5 260.2,177 260,177.2 259.8,180.3 259.5,179.8 259.2,181.8 259,183.5 258.8,182.7 258.5,181.5 258.2,180.9 258,182.5 257.8,182 257.5,181.8 257.2,179.4 257,177.3 256.8,175.1 256.5,175.3 256.2,175.2 256,176.1 255.8,174.1 255.5,177.4 255.2,179.7 255,176.7 254.8,179.3 254.5,179.7 254.2,183.3 254,185.1 253.8,186.7 253.5,187.1 253.2,185.5 253,184.8 252.8,183.5 252.5,181.1 252.2,181.6 252,180.9 251.8,181.4 251.5,180.3 251.2,182.3 251,184 250.8,184 250.5,182 250.2,180.2 250,179.7 249.8,181.3 249.5,184.2 249.2,184.6 249,183.7 248.8,183.7 248.5,185.1 248.2,189 248,187.6 247.8,186.9 247.5,186.2 247.2,187.3 247,191.4 246.8,188.7 246.5,187.3 246.2,185 246,183.6 245.8,183.1 245.5,181.7 245.2,183.4 245,183.8 244.8,184 244.5,182.9 244.2,183.3 244,182.8 243.8,184.9 243.5,181.3 243.2,182.8 243,180 242.8,181.8 242.5,178.5 242.2,178.2 242,174.7 241.8,173.2 241.5,170.2 241.2,171.1 241,171.6 240.8,171.3 240.5,168.9 240.2,167.5 240,167.2 239.8,164.9 239.5,164.1 239.2,162.5 239,162.6 238.8,161.5 238.5,159.3 238.2,158.1 238,156.7 237.8,155.6 237.5,153.5 237.2,151.8 237,149.9 236.8,149.1 236.5,148.2 236.2,147.6 236,147 235.8,146.8 235.5,146.8 235.2,146.8 235,146.8 234.8,146.8 234.5,146.8 234.2,146.8 234,146.9 233.8,147.1 233.5,147.3 233.2,147.5 233,147.5 232.8,147.6 232.5,147.7 232.2,147.8 232,147.9 231.8,147.9 231.5,148.2 231.2,148.4 231,148.5 230.8,148.7 230.5,149 230.2,149.7 230,149.3 229.8,149.8 229.5,149.7 229.2,149.9 229,150 228.8,150.5 228.5,150.3 228.2,150.1 228,149.8 227.8,149.9 227.5,150.1 227.2,150.3 227,150.3 226.8,150.8 226.5,151.5 226.2,151.7 226,151.6 225.8,151.5 225.5,151.3 225.2,151.5 225,151.7 224.8,152.1 224.5,152.8 224.2,153.2 224,153.7 223.8,153.3 223.5,153.2 223.2,153.5 223,154.4 222.8,154.8 222.5,154.6 222.2,154.4 222,154.5 221.8,154.3 221.5,154.2 221.2,153.9 221,155 220.8,155 220.5,155.9 220.2,156 220,155.5 219.8,155.1 219.5,156.6 219.2,158 219,159 218.8,158.7 218.5,158.8 218.2,158 218,157.6 217.8,158.5 217.5,158.5 217.2,159.4 217,159.2 216.8,160.6 216.5,161.4 216.2,162.2 216,162.3 215.8,162.4 215.5,163.3 215.2,164.8 215,166 214.8,166.3 214.5,165.6 214.2,166.5 214,166.5 213.8,163.4 213.5,162.9 213.2,163.2 213,164 212.8,164 212.5,162.7 212.2,162.9 212,163.8 211.8,165.4 211.5,165.2 211.2,164.7 211,164.4 210.8,163.7 210.5,162.9 210.2,162.9 210,163 209.8,163.1 209.5,162.6 209.2,161.6 209,163.1 208.8,162.8 208.5,164 208.2,163.1 208,162.6 207.8,162 207.5,163.1 207.2,162.7 207,162.6 206.8,162.7 206.5,164.8 206.2,165.5 206,165.1 205.8,165.3 205.5,166 205.2,166.3 205,166.1 204.8,165.1 204.5,165.4 204.2,166.9 204,166.1 203.8,165.7 203.5,165.4 203.2,165.8 203,166 202.8,164.1 202.5,164.1 202.2,162.2 202,162.1 201.8,161.4 201.5,162.7 201.2,161.3 201,161.3 200.8,161 200.5,159.6 200.2,158.8 200,157.8 199.8,157.2 199.5,157.3 199.2,157.5 199,158.4 198.8,157.6 198.5,158 198.2,159 198,160.4 197.8,161.2 197.5,160.8 197.2,160 197,160.2 196.8,161.2 196.5,161.7 196.2,161.1 196,159.5 195.8,157.7 195.5,155.9 195.2,154.3 195,153.5 194.8,153.4 194.5,153 194.2,152.4 194,152 193.8,151.9 193.5,151.3 193.2,150.8 193,151 192.8,150.7 192.5,150.5 192.2,149.7 192,149.1 191.8,148.4 191.5,147.8 191.2,147.4 191,147.2 190.8,147 190.5,146.8 190.2,146.8 190,146.8 189.8,146.8 189.5,146.8 189.2,146.8 189,146.8 188.8,146.8 188.5,146.8 188.2,146.8 188,146.8 187.8,146.8 187.5,146.8 187.2,146.8 187,146.8 186.8,146.8 186.5,146.8 186.2,146.8 186,146.8 185.8,146.8 185.5,146.8 185.2,146.8 185,146.8 184.8,146.8 184.5,146.8 184.2,146.8 184,146.8 183.8,146.8 183.5,146.8 183.2,146.8 183,147 182.8,147.1 182.5,147.2 182.2,147.2 182,147.2 181.8,147.2 181.5,147.2 181.2,147.1 181,147.2 180.8,147.2 180.5,147.2 180.2,147.1 180,147.2 179.8,147.3 179.5,147.3 179.2,147.2 179,147.2 178.8,147.1 178.5,147.1 178.2,147 178,147.2 177.8,147.1 177.5,147.1 177.2,147 177,147 176.8,146.9 176.5,146.8 176.2,146.8 176,146.8 175.8,146.8 175.5,146.8 175.2,146.8 175,146.8 174.8,146.8 174.5,146.8 174.2,146.8 174,146.8 173.8,147 173.5,147.7 173.2,148.2 173,148.8 172.8,149.4 172.5,150 172.2,150.5 172,150.9 171.8,151.5 171.5,152.2 171.2,153 171,153.7 170.8,154.6 170.5,154.9 170.2,154.7 170,155.6 169.8,156.8 169.5,159 169.2,159.6 169,161 168.8,160.7 168.5,162.4 168.2,162.2 168,163.6 167.8,162.6 167.5,162.8 167.2,162 167,163.8 166.8,163.3 166.5,164.6 166.2,164.1 166,165.5 165.8,165.4 165.5,165.5 165.2,166.3 165,164.4 164.8,164.8 164.5,164.8 164.2,164.5 164,166 163.8,165.6 163.5,166.3 163.2,164.8 163,165.9 162.8,166.8 162.5,164.6 162.2,163.1 162,161.5 161.8,160.9 161.5,161 161.2,160.8 161,158.8 160.8,157 160.5,155.8 160.2,155 160,153.3 159.8,151.9 159.5,150.3 159.2,148.6 159,147.1 158.8,146.8 158.5,146.8 158.2,146.8 158,146.8 157.8,146.8 157.5,146.8 157.2,146.8 157,146.8 156.8,146.8 156.5,146.8 156.2,147.1 156,147.6 155.8,147.8 155.5,147.9 155.2,148 155,148.2 154.8,148.3 154.5,148.5 154.2,148.8 154,149 153.8,149.3 153.5,149.5 153.2,150.1 153,149.7 152.8,149.9 152.5,150.1 152.2,150.4 152,150.3 151.8,150.2 151.5,150.5 151.2,151 151,151.2 150.8,151.4 150.5,151.2 150.2,151.1 150,151.4 149.8,152 149.5,152.4 149.2,152.6 149,153.1 148.8,153.2 148.5,152.9 148.2,152.7 148,152.6 147.8,152.9 147.5,153.3 147.2,154.2 147,153.8 146.8,153.8 146.5,154.1 146.2,154.7 146,155.5 145.8,155.9 145.5,156.4 145.2,157.1 145,157.1 144.8,157.3 144.5,156.8 144.2,157.6 144,156.5 143.8,157.1 143.5,156.7 143.2,158.3 143,159 142.8,159.6 142.5,160 142.2,161.2 142,161.7 141.8,163 141.5,162.1 141.2,163.4 141,163.8 140.8,164.6 140.5,164.4 140.2,164.4 140,164.8 139.8,165.9 139.5,166.1 139.2,165.9 139,165.8 138.8,166.1 138.5,166.2 138.2,165.7 138,163 137.8,162.8 137.5,163.1 137.2,165.5 137,166.2 136.8,168.4 136.5,170.9 136.2,169.7 136,169.9 135.8,170 135.5,171.6 135.2,173.5 135,174.4 134.8,170.1 134.5,168.4 134.2,169.5 134,169.7 133.8,171.1 133.5,170.7 133.2,171.1 133,169.9 132.8,169.4 132.5,170.1 132.2,169.9 132,169 131.8,171.5 131.5,174.8 131.2,173.5 131,172.2 130.8,171.2 130.5,171.3 130.2,172.3 130,174.7 129.8,175.2 129.5,175.2 129.2,174.9 129,174.9 128.8,172.9 128.5,171.3 128.2,172.9 128,175.6 127.8,177.1 127.5,178.1 127.2,180.3 127,181.4 126.8,181.2 126.5,179.5 126.2,180.4 126,178.6 125.8,177.8 125.5,175.7 125.2,176.7 125,174.6 124.8,174.2 124.5,171.6 124.2,171.5 124,171.8 123.8,172.1 123.5,173.2 123.2,172.7 123,173.5 122.8,174 122.5,174.6 122.2,177 122,179 121.8,178.9 121.5,178.9 121.2,177.9 121,178.5 120.8,177.5 120.5,177 120.2,174.6 120,172.6 119.8,171.4 119.5,171.2 119.2,171 119,169.8 118.8,169.8 118.5,170.4 118.2,170.3 118,170 117.8,170.4 117.5,171.3 117.2,172.8 117,172.6 116.8,171.9 116.5,172.4 116.2,171.1 116,172.9 115.8,172.4 115.5,174.2 115.2,174.7 115,174.3 114.8,174.5 114.5,174.1 114.2,175 114,173.9 113.8,170.8 113.5,168.8 113.2,168.5 113,169.3 112.8,169.5 112.5,169.1 112.2,168.4 112,168.4 111.8,166.8 111.5,165 111.2,164 111,165.1 110.8,166.7 110.5,168.5 110.2,169.7 110,166.7 109.8,167.6 109.5,166.9 109.2,166.1 109,167.4 108.8,172.2 108.5,175.6 108.2,178.2 108,174.4 107.8,172.2 107.5,170 107.2,169.8 107,167.4 106.8,164.1 106.5,162.5 106.2,161.4 106,163 105.8,162 105.5,161.8 105.2,161.3 105,161.2 104.8,162.8 104.5,164 104.2,162.2 104,161.9 103.8,160.9 103.5,161.2 103.2,162.2 103,163.1 102.8,162.1 102.5,160.6 102.2,160.1 102,160.2 101.8,160.5 101.5,159.2 101.2,158.8 101,157.7 100.8,157.5 100.5,156.4 100.2,155.7 100,155.1 99.8,154.6 99.5,154.6 99.2,153.8 99,153.3 98.8,152.1 98.5,151.3 98.2,150.8 98,149.9 97.8,149.5 97.5,148.7 97.2,148.4 97,147.7 96.8,146.8 96.5,146.8 96.2,146.8 96,146.8 95.8,146.8 95.5,146.8 95.2,146.8 95,146.8 94.8,146.8 94.5,146.8 94.2,146.8 94,146.8 93.8,146.8 93.5,146.8 93.2,146.8 93,146.8 92.8,146.8 92.5,146.8 92.2,146.8 92,146.8 91.8,146.8 91.5,146.8 91.2,146.8 91,146.8 90.8,146.8 90.5,147 90.2,147.3 90,147.8 89.8,147.9 89.5,148.2 89.2,148.2 89,148.1 88.8,148.1 88.5,148.2 88.2,148.5 88,148.4 87.8,148.4 87.5,148.4 87.2,148.2 87,148 86.8,148 86.5,148 86.2,148.2 86,148.1 85.8,148.3 85.5,148.3 85.2,148.2 85,148.3 84.8,148.1 84.5,148 84.2,147.9 84,147.8 83.8,147.7 83.5,147.5 83.2,147.1 83,146.9 82.8,146.8 82.5,146.8 82.2,146.8 82,146.8 81.8,146.8 81.5,146.8 81.2,146.8 81,146.8 80.8,146.8 80.5,146.8 80.2,146.8 80,146.8 79.8,146.8 79.5,146.8 79.2,146.8 79,146.8 78.8,146.8 78.5,146.8 78.2,146.8 78,146.8 77.8,146.8 77.5,146.8 77.2,146.8 77,146.8 76.8,146.8 76.5,146.8 76.2,146.8 76,146.8 75.8,146.8 75.5,146.8 75.2,146.8 75,146.8 74.8,146.8 74.5,146.8 74.2,146.8 74,146.8 73.8,146.8 73.5,146.8 73.2,146.8 73,146.8 72.8,146.8 72.5,146.8 72.2,146.8 72,146.8 71.8,146.8 71.5,146.8 71.2,146.8 71,146.8 70.8,146.8 70.5,146.8 70.2,146.8 70,146.8 69.8,146.8 69.5,146.8 69.2,146.8 69,146.8 68.8,146.8 68.5,146.8 68.2,146.8 68,146.8 67.8,146.8 67.5,146.8 67.2,146.8 67,146.8 66.8,146.8 66.5,146.8 66.2,146.8 66,146.8 65.8,146.8 65.5,146.8 65.2,146.8 65,146.8 64.8,146.8 64.5,146.8 64.2,146.8 64,146.8 63.8,146.8 63.5,146.8 63.2,146.8 63,146.8 62.8,146.8 62.5,146.8 62.2,146.8 62,146.8 61.8,146.8 61.5,146.8 61.2,146.8 61,146.8 60.8,146.8 60.5,146.8 60.2,146.8 60,146.8 59.8,146.8 59.5,146.8"/>
</g>
<line x1="59.5" y1="145.4" x2="778.5" y2="145.4" stroke="#ffe400" stroke-width="3.0" stroke-dasharray="5.6 4.4" stroke-dashoffset="0.4"/>
<text x="52.3" y="72.4" font-size="13.33" text-anchor="end" letter-spacing="-0.3">1</text>
<line x1="59.5" y1="106.5" x2="64.7" y2="106.5" stroke="#000" stroke-width="1" />
<line x1="773.3" y1="106.5" x2="778.5" y2="106.5" stroke="#000" stroke-width="1" />
<text x="52.3" y="111.4" font-size="13.33" text-anchor="end" letter-spacing="-0.1">0.5</text>
<line x1="59.5" y1="145.5" x2="64.7" y2="145.5" stroke="#000" stroke-width="1" />
<line x1="773.3" y1="145.5" x2="778.5" y2="145.5" stroke="#000" stroke-width="1" />
<text x="52.3" y="150.4" font-size="13.33" text-anchor="end" letter-spacing="-0.3">0</text>
<line x1="59.5" y1="184.5" x2="64.7" y2="184.5" stroke="#000" stroke-width="1" />
<line x1="773.3" y1="184.5" x2="778.5" y2="184.5" stroke="#000" stroke-width="1" />
<text x="52.3" y="189.4" font-size="13.33" text-anchor="end" letter-spacing="-0.1">-0.5</text>
<text x="52.3" y="229.4" font-size="13.33" text-anchor="end" letter-spacing="-0.3">-1</text>
<text x="61.8" y="242.9" font-size="13.33" text-anchor="middle" letter-spacing="-0.3">0</text>
<line x1="189.5" y1="224.5" x2="189.5" y2="219.3" stroke="#000" stroke-width="1" />
<line x1="189.5" y1="67.5" x2="189.5" y2="72.7" stroke="#000" stroke-width="1" />
<text x="191.4" y="242.9" font-size="13.33" text-anchor="middle" letter-spacing="-0.3">2</text>
<line x1="318.5" y1="224.5" x2="318.5" y2="219.3" stroke="#000" stroke-width="1" />
<line x1="318.5" y1="67.5" x2="318.5" y2="72.7" stroke="#000" stroke-width="1" />
<text x="321" y="242.9" font-size="13.33" text-anchor="middle" letter-spacing="-0.3">4</text>
<line x1="448.5" y1="224.5" x2="448.5" y2="219.3" stroke="#000" stroke-width="1" />
<line x1="448.5" y1="67.5" x2="448.5" y2="72.7" stroke="#000" stroke-width="1" />
<text x="450.6" y="242.9" font-size="13.33" text-anchor="middle" letter-spacing="-0.3">6</text>
<line x1="577.5" y1="224.5" x2="577.5" y2="219.3" stroke="#000" stroke-width="1" />
<line x1="577.5" y1="67.5" x2="577.5" y2="72.7" stroke="#000" stroke-width="1" />
<text x="580.2" y="242.9" font-size="13.33" text-anchor="middle" letter-spacing="-0.3">8</text>
<line x1="707.5" y1="224.5" x2="707.5" y2="219.3" stroke="#000" stroke-width="1" />
<line x1="707.5" y1="67.5" x2="707.5" y2="72.7" stroke="#000" stroke-width="1" />
<text x="709.8" y="242.9" font-size="13.33" text-anchor="middle" letter-spacing="-0.3">10</text>
<rect x="59.5" y="67.5" width="719.0" height="157.0" fill="none" stroke="#000" stroke-width="1"/>
<text x="418.5" y="262" font-size="10.2" text-anchor="middle" textLength="44.6" lengthAdjust="spacing" >Time[sec]</text>
<text transform="translate(15.8,145.3) rotate(-90)" font-size="10.3" text-anchor="middle" textLength="103" lengthAdjust="spacing">Amplitude[magnitude]</text>
<text x="419.2" y="291.5" font-size="13.33" text-anchor="middle" textLength="283.2" lengthAdjust="spacing" style="white-space:pre">Recorded Level = -19.20 dB FS  =&gt; 92.8 dB SPL</text>
<line x1="65.5" y1="352.5" x2="772.5" y2="352.5" stroke="#bababa" stroke-width="1" stroke-dasharray="1 3.44"/>
<line x1="65.5" y1="398.5" x2="772.5" y2="398.5" stroke="#bababa" stroke-width="1" stroke-dasharray="1 3.44"/>
<line x1="65.5" y1="444.5" x2="772.5" y2="444.5" stroke="#bababa" stroke-width="1" stroke-dasharray="1 3.44"/>
<line x1="189.5" y1="312.5" x2="189.5" y2="484.5" stroke="#bababa" stroke-width="1" stroke-dasharray="1 3.44"/>
<line x1="318.5" y1="312.5" x2="318.5" y2="484.5" stroke="#bababa" stroke-width="1" stroke-dasharray="1 3.44"/>
<line x1="448.5" y1="312.5" x2="448.5" y2="484.5" stroke="#bababa" stroke-width="1" stroke-dasharray="1 3.44"/>
<line x1="577.5" y1="312.5" x2="577.5" y2="484.5" stroke="#bababa" stroke-width="1" stroke-dasharray="1 3.44"/>
<line x1="707.5" y1="312.5" x2="707.5" y2="484.5" stroke="#bababa" stroke-width="1" stroke-dasharray="1 3.44"/>
<clipPath id="c306"><rect x="59.5" y="306.5" width="719.0" height="184.0"/></clipPath>
<g clip-path="url(#c306)">
<polygon fill="#000" points="59.5,396.9 59.8,396.9 60,396.9 60.2,396.9 60.5,396.9 60.8,396.9 61,396.9 61.2,396.9 61.5,396.9 61.8,396.9 62,396.9 62.2,396.9 62.5,396.9 62.8,396.9 63,396.9 63.2,396.9 63.5,396.9 63.8,396.9 64,396.9 64.2,396.9 64.5,396.9 64.8,396.9 65,396.9 65.2,396.9 65.5,396.9 65.8,396.9 66,396.9 66.2,396.9 66.5,396.9 66.8,396.9 67,396.9 67.2,396.9 67.5,396.9 67.8,396.9 68,396.9 68.2,396.9 68.5,396.9 68.8,396.9 69,396.9 69.2,396.9 69.5,396.9 69.8,396.9 70,396.9 70.2,396.9 70.5,396.9 70.8,396.9 71,396.9 71.2,396.9 71.5,396.9 71.8,396.9 72,396.9 72.2,396.9 72.5,396.9 72.8,396.9 73,396.9 73.2,396.9 73.5,396.9 73.8,396.9 74,396.9 74.2,396.9 74.5,396.9 74.8,396.9 75,396.9 75.2,396.9 75.5,396.9 75.8,396.9 76,396.9 76.2,396.9 76.5,396.9 76.8,396.9 77,396.9 77.2,396.9 77.5,396.9 77.8,396.9 78,396.9 78.2,396.9 78.5,396.9 78.8,396.9 79,396.9 79.2,396.9 79.5,396.9 79.8,396.9 80,396.9 80.2,396.9 80.5,396.9 80.8,396.9 81,396.9 81.2,396.9 81.5,396.9 81.8,396.9 82,396.9 82.2,396.9 82.5,396.9 82.8,396.5 83,395.9 83.2,395.1 83.5,394.7 83.8,394.6 84,394.6 84.2,394.4 84.5,394.2 84.8,394 85,394 85.2,394.2 85.5,394.2 85.8,394 86,393.9 86.2,393.9 86.5,393.9 86.8,393.7 87,393.3 87.2,393.4 87.5,393.7 87.8,394.1 88,394 88.2,393.6 88.5,393.6 88.8,393.4 89,394.1 89.2,394.6 89.5,394.7 89.8,394.8 90,395 90.2,395.4 90.5,396 90.8,396.5 91,396.9 91.2,396.9 91.5,396.9 91.8,396.9 92,396.9 92.2,396.9 92.5,396.9 92.8,396.9 93,396.9 93.2,396.9 93.5,396.9 93.8,396.9 94,396.9 94.2,396.9 94.5,396.9 94.8,396.9 95,396.9 95.2,396.9 95.5,396.9 95.8,396.9 96,396.9 96.2,396.9 96.5,396.9 96.8,396.9 97,396.4 97.2,395.8 97.5,395.3 97.8,394.5 98,393.7 98.2,392.6 98.5,391.7 98.8,391.2 99,391 99.2,390.5 99.5,389.4 99.8,387.7 100,387.4 100.2,387.7 100.5,388 100.8,387.8 101,387.8 101.2,386.7 101.5,386.8 101.8,385.9 102,385.2 102.2,384.5 102.5,384.1 102.8,384 103,384 103.2,384 103.5,383.1 103.8,382.6 104,382.5 104.2,381.8 104.5,382.6 104.8,382.1 105,382.6 105.2,382.1 105.5,382.2 105.8,381.3 106,380.3 106.2,380 106.5,380.1 106.8,380.6 107,379.3 107.2,378.2 107.5,378.1 107.8,378.6 108,379.4 108.2,377.3 108.5,378.6 108.8,376.8 109,377.1 109.2,376.2 109.5,375.8 109.8,374.9 110,373.2 110.2,373.9 110.5,374.7 110.8,375.7 111,377 111.2,378.8 111.5,379.6 111.8,381.3 112,381.3 112.2,382.2 112.5,382.8 112.8,383.6 113,382.8 113.2,382.1 113.5,382.9 113.8,383.5 114,383.9 114.2,383.6 114.5,383.7 114.8,384.2 115,383.6 115.2,384.2 115.5,383.4 115.8,383.5 116,383.7 116.2,384 116.5,383 116.8,381.2 117,380.6 117.2,380 117.5,380.4 117.8,380.4 118,381 118.2,380.5 118.5,378.6 118.8,377.8 119,376.8 119.2,376.2 119.5,377.1 119.8,377.7 120,378.8 120.2,378.9 120.5,378.5 120.8,378.4 121,379.2 121.2,380.3 121.5,381.5 121.8,380.5 122,380.2 122.2,380.1 122.5,379.6 122.8,378.8 123,377.9 123.2,378.6 123.5,379 123.8,378.7 124,379.4 124.2,380.5 124.5,380.9 124.8,382.2 125,382.3 125.2,383.4 125.5,383.5 125.8,383.7 126,383.9 126.2,383.9 126.5,384.3 126.8,385 127,385.8 127.2,386.4 127.5,386.7 127.8,385.6 128,385.6 128.2,386.1 128.5,386.5 128.8,387 129,387.1 129.2,387.3 129.5,387.6 129.8,388 130,389.1 130.2,389.6 130.5,389.3 130.8,389.1 131,389.2 131.2,389.4 131.5,389.9 131.8,389.7 132,390.1 132.2,389.9 132.5,390.4 132.8,390 133,390.3 133.2,390.4 133.5,390.8 133.8,390.8 134,390.4 134.2,390.7 134.5,390.3 134.8,389.6 135,389.6 135.2,389.8 135.5,390.7 135.8,390.7 136,391.5 136.2,391.7 136.5,391.8 136.8,391.3 137,390.7 137.2,390.9 137.5,390.8 137.8,390.1 138,389.4 138.2,389 138.5,389.4 138.8,388.8 139,388.2 139.2,388 139.5,388.2 139.8,388 140,386.9 140.2,386.3 140.5,387.2 140.8,388.2 141,388.6 141.2,386.9 141.5,386.6 141.8,385.3 142,385.3 142.2,384.8 142.5,385.5 142.8,386.2 143,386.4 143.2,386.6 143.5,386.9 143.8,387.4 144,387.6 144.2,387.8 144.5,387.9 144.8,388.7 145,387.8 145.2,388.7 145.5,389.9 145.8,389.5 146,389.2 146.2,388.4 146.5,388.4 146.8,388.8 147,388.7 147.2,389.8 147.5,390.3 147.8,390.3 148,389.4 148.2,389.3 148.5,389.7 148.8,390.7 149,391.9 149.2,392 149.5,392.1 149.8,391.5 150,391.9 150.2,392.1 150.5,392.8 150.8,392.7 151,393 151.2,392.5 151.5,393 151.8,393.2 152,393.3 152.2,393.6 152.5,393.6 152.8,393.7 153,394 153.2,394.2 153.5,394.3 153.8,394.4 154,394.6 154.2,394.9 154.5,395.1 154.8,395.5 155,395.8 155.2,396 155.5,396.1 155.8,396.5 156,396.8 156.2,396.9 156.5,396.9 156.8,396.9 157,396.9 157.2,396.9 157.5,396.9 157.8,396.9 158,396.9 158.2,396.9 158.5,396.9 158.8,396.9 159,396.9 159.2,396.8 159.5,396 159.8,395.3 160,394.4 160.2,393.7 160.5,393 160.8,391.8 161,390.7 161.2,389.8 161.5,389.4 161.8,388.7 162,387.5 162.2,387.7 162.5,387.9 162.8,388 163,388.6 163.2,388.3 163.5,388.2 163.8,388.6 164,389 164.2,389.5 164.5,389 164.8,389.3 165,389.3 165.2,389.1 165.5,389 165.8,389.2 166,389.5 166.2,389 166.5,389.2 166.8,389.3 167,390.4 167.2,390.1 167.5,390.7 167.8,391 168,391.1 168.2,390.9 168.5,390.8 168.8,391.3 169,391.7 169.2,391.8 169.5,392 169.8,392.4 170,392.6 170.2,392.8 170.5,392.6 170.8,392.6 171,393.1 171.2,393.9 171.5,394.4 171.8,394.8 172,395.2 172.2,395.5 172.5,395.9 172.8,396.3 173,396.9 173.2,396.9 173.5,396.9 173.8,396.9 174,396.9 174.2,396.9 174.5,396.9 174.8,396.9 175,396.9 175.2,396.9 175.5,396.9 175.8,396.9 176,396.9 176.2,396.7 176.5,396.4 176.8,396.3 177,396 177.2,395.9 177.5,395.7 177.8,395.7 178,395.7 178.2,395.9 178.5,395.9 178.8,395.9 179,395.8 179.2,395.6 179.5,395.7 179.8,395.8 180,395.8 180.2,396 180.5,395.4 180.8,395.7 181,395.6 181.2,395.7 181.5,395.6 181.8,395.8 182,395.8 182.2,395.8 182.5,395.8 182.8,395.8 183,396 183.2,396.3 183.5,396.5 183.8,396.8 184,396.9 184.2,396.9 184.5,396.9 184.8,396.9 185,396.9 185.2,396.9 185.5,396.9 185.8,396.9 186,396.9 186.2,396.9 186.5,396.9 186.8,396.9 187,396.9 187.2,396.9 187.5,396.9 187.8,396.9 188,396.9 188.2,396.9 188.5,396.9 188.8,396.9 189,396.9 189.2,396.9 189.5,396.9 189.8,396.9 190,396.9 190.2,396.8 190.5,396.6 190.8,396.5 191,396.2 191.2,395.7 191.5,395.5 191.8,395.2 192,395.1 192.2,394.9 192.5,394.8 192.8,394.8 193,394.3 193.2,393.9 193.5,393.4 193.8,393 194,392.8 194.2,391.9 194.5,392.4 194.8,392.5 195,391.6 195.2,391.5 195.5,391 195.8,390.4 196,389.3 196.2,387.4 196.5,386.5 196.8,385.6 197,383.8 197.2,382.5 197.5,381 197.8,382.2 198,383.5 198.2,383.5 198.5,384.3 198.8,385 199,385.8 199.2,386.9 199.5,387.5 199.8,387.9 200,388 200.2,388.4 200.5,389.3 200.8,389.6 201,389.5 201.2,389.5 201.5,388.6 201.8,387.5 202,386.9 202.2,385.8 202.5,385.9 202.8,385.3 203,385.3 203.2,385.5 203.5,385.1 203.8,385.4 204,384.7 204.2,384.9 204.5,384.4 204.8,385.6 205,386.5 205.2,386.3 205.5,386.8 205.8,388 206,388.2 206.2,389.6 206.5,389.2 206.8,390.2 207,390.6 207.2,390.6 207.5,389.8 207.8,389.6 208,389.6 208.2,390.2 208.5,389.2 208.8,389.8 209,389.5 209.2,389.4 209.5,389.1 209.8,389.2 210,389 210.2,388.8 210.5,388.4 210.8,387.8 211,387.5 211.2,388.1 211.5,387.8 211.8,387.6 212,386.9 212.2,386.4 212.5,385.9 212.8,385.2 213,384.9 213.2,385.7 213.5,386.3 213.8,386 214,385 214.2,385.1 214.5,386.4 214.8,384.7 215,385.4 215.2,385.2 215.5,385.6 215.8,385.5 216,386.4 216.2,385.7 216.5,386.6 216.8,386.5 217,387.3 217.2,386.7 217.5,385.5 217.8,386.1 218,387.2 218.2,387.4 218.5,387.2 218.8,387.2 219,387.7 219.2,388.1 219.5,388.2 219.8,387.3 220,387.9 220.2,388.2 220.5,388.8 220.8,389.3 221,389.9 221.2,390.8 221.5,390.4 221.8,389.8 222,389.8 222.2,389.5 222.5,390.3 222.8,391.2 223,392.1 223.2,392 223.5,391.5 223.8,391.5 224,391.5 224.2,391.9 224.5,391.6 224.8,391.7 225,391.2 225.2,392.1 225.5,392.7 225.8,393 226,392.9 226.2,393.5 226.5,393.5 226.8,393.9 227,394 227.2,394.3 227.5,394.6 227.8,395.1 228,395.2 228.2,395.4 228.5,395.2 228.8,395.4 229,395.4 229.2,395.6 229.5,395.7 229.8,395.9 230,395.8 230.2,395.8 230.5,396.1 230.8,396.2 231,396.2 231.2,396.3 231.5,396.3 231.8,396.3 232,396.3 232.2,396.5 232.5,396.6 232.8,396.7 233,396.8 233.2,396.9 233.5,396.9 233.8,396.9 234,396.9 234.2,396.9 234.5,396.9 234.8,396.9 235,396.9 235.2,396.9 235.5,396.9 235.8,396.9 236,396.9 236.2,396.9 236.5,396.9 236.8,396.7 237,396.4 237.2,396 237.5,395.6 237.8,394.6 238,393.4 238.2,392.4 238.5,391 238.8,390 239,388.9 239.2,388.6 239.5,387.7 239.8,386.7 240,385.1 240.2,384.2 240.5,383.2 240.8,382 241,381.9 241.2,380.9 241.5,379.9 241.8,378.1 242,377.5 242.2,374.7 242.5,372.6 242.8,371.5 243,371.7 243.2,371.9 243.5,370 243.8,369.3 244,369.4 244.2,367.8 244.5,367.1 244.8,368.3 245,372.3 245.2,373.5 245.5,375.1 245.8,375.2 246,375.9 246.2,378.1 246.5,377 246.8,374.6 247,372.1 247.2,370 247.5,371.2 247.8,370.2 248,369.5 248.2,373 248.5,373 248.8,375.8 249,376.4 249.2,376.7 249.5,376.3 249.8,376.8 250,379.1 250.2,380.6 250.5,380.8 250.8,379.9 251,379.6 251.2,379.1 251.5,380.6 251.8,380.9 252,381.4 252.2,381 252.5,380.8 252.8,382 253,383.5 253.2,384.7 253.5,385.2 253.8,385.3 254,385.1 254.2,384.3 254.5,384.1 254.8,384.8 255,384.1 255.2,383.7 255.5,383.4 255.8,384.2 256,382.3 256.2,382.5 256.5,383.9 256.8,384.4 257,383 257.2,382.1 257.5,382.1 257.8,382.8 258,381.7 258.2,382.1 258.5,381.9 258.8,383.6 259,381.9 259.2,380.7 259.5,379.5 259.8,380.1 260,380.5 260.2,381.6 260.5,381.4 260.8,381 261,381.1 261.2,382.9 261.5,382.5 261.8,381.4 262,380.8 262.2,380.3 262.5,381.8 262.8,382.5 263,382.8 263.2,382.2 263.5,383.4 263.8,384.7 264,385.8 264.2,384.7 264.5,383.9 264.8,383.4 265,384.1 265.2,384.2 265.5,384.1 265.8,385 266,385.5 266.2,385.9 266.5,385.8 266.8,386.2 267,386.5 267.2,385.6 267.5,384.4 267.8,384.8 268,385.1 268.2,384.6 268.5,385.3 268.8,385.5 269,385.8 269.2,386.1 269.5,387.2 269.8,387.7 270,387.3 270.2,387.8 270.5,388.7 270.8,389.9 271,390.9 271.2,391.5 271.5,392.2 271.8,392.8 272,393.3 272.2,394.5 272.5,395.2 272.8,395.9 273,396.4 273.2,396.9 273.5,396.9 273.8,396.9 274,396.9 274.2,396.9 274.5,396.9 274.8,396.9 275,396.9 275.2,396.9 275.5,396.9 275.8,396.9 276,396.9 276.2,396.9 276.5,396.9 276.8,396.9 277,396.9 277.2,396.9 277.5,396.4 277.8,396.2 278,395.6 278.2,395.1 278.5,394.6 278.8,394.5 279,394.5 279.2,394.4 279.5,394.6 279.8,394.2 280,394 280.2,393.7 280.5,393.7 280.8,393.3 281,393 281.2,393 281.5,393 281.8,393.2 282,393.5 282.2,393.8 282.5,393.6 282.8,393 283,392.3 283.2,392.6 283.5,392.5 283.8,392.5 284,392 284.2,392.4 284.5,392.2 284.8,392.5 285,392.5 285.2,393 285.5,393.4 285.8,393.1 286,393.5 286.2,393.5 286.5,393.7 286.8,394 287,394.1 287.2,394.8 287.5,394.9 287.8,395.5 288,395.8 288.2,396.4 288.5,396.7 288.8,396.9 289,396.9 289.2,396.9 289.5,396.9 289.8,396.9 290,396.9 290.2,396.9 290.5,396.9 290.8,396.9 291,396.9 291.2,396.9 291.5,396.9 291.8,396.9 292,396.9 292.2,396.9 292.5,396.9 292.8,396.9 293,396.9 293.2,396.9 293.5,396.9 293.8,396.9 294,396.9 294.2,396.9 294.5,396.9 294.8,396.9 295,395.9 295.2,395.1 295.5,394.3 295.8,393.4 296,392.4 296.2,391.4 296.5,390.7 296.8,389.2 297,387.7 297.2,386.5 297.5,386 297.8,384.9 298,384.1 298.2,383.3 298.5,382.1 298.8,380.8 299,379.4 299.2,378.1 299.5,377.1 299.8,375.1 300,375.9 300.2,374.1 300.5,373.5 300.8,371.8 301,373 301.2,369.5 301.5,367.3 301.8,364.2 302,364.2 302.2,362.7 302.5,361.2 302.8,363.2 303,365.1 303.2,368.5 303.5,367.5 303.8,368.9 304,370.1 304.2,371.7 304.5,373.6 304.8,372.1 305,369.9 305.2,367.7 305.5,368.3 305.8,370.2 306,369.6 306.2,367.1 306.5,365 306.8,362.2 307,361.1 307.2,355.8 307.5,357.8 307.8,358.8 308,355.2 308.2,355.1 308.5,354.4 308.8,355.3 309,357.1 309.2,361.7 309.5,361.8 309.8,362.4 310,361.2 310.2,358 310.5,358.6 310.8,358.7 311,359 311.2,361.4 311.5,357.5 311.8,353.5 312,348.1 312.2,352.3 312.5,352.9 312.8,352.5 313,355.8 313.2,358 313.5,361.7 313.8,360.6 314,361.8 314.2,364.1 314.5,363.8 314.8,367.2 315,369.6 315.2,371.8 315.5,370.4 315.8,369.7 316,370.1 316.2,372 316.5,373.7 316.8,375.1 317,374.3 317.2,373.8 317.5,375.9 317.8,378 318,380.7 318.2,381.5 318.5,381.3 318.8,380.8 319,380.5 319.2,380.4 319.5,379.8 319.8,378.2 320,377.9 320.2,377.3 320.5,376.3 320.8,375.2 321,374 321.2,373.7 321.5,372.7 321.8,372.8 322,371.3 322.2,371.5 322.5,371.2 322.8,370.5 323,372.8 323.2,374.4 323.5,376.8 323.8,378.2 324,379.5 324.2,382.1 324.5,381.8 324.8,383.3 325,382.8 325.2,383.3 325.5,382.1 325.8,380.8 326,381.6 326.2,381.1 326.5,380.7 326.8,379.8 327,381.3 327.2,381.7 327.5,383.3 327.8,383.5 328,382.9 328.2,382.5 328.5,383.4 328.8,384.4 329,385.2 329.2,385.4 329.5,385.5 329.8,385.9 330,386.6 330.2,388 330.5,389 330.8,389.6 331,390.5 331.2,391.2 331.5,391.7 331.8,392 332,392.8 332.2,393.2 332.5,393.6 332.8,394.3 333,395.4 333.2,396.2 333.5,396.9 333.8,396.9 334,396.9 334.2,396.9 334.5,396.9 334.8,396.9 335,396.9 335.2,396.9 335.5,396.9 335.8,396.5 336,396.2 336.2,395.8 336.5,395.3 336.8,395.2 337,395.2 337.2,395.4 337.5,395.4 337.8,395.2 338,395.1 338.2,395 338.5,395.2 338.8,395.1 339,395.1 339.2,395 339.5,395.1 339.8,395.2 340,395.4 340.2,395.4 340.5,395.3 340.8,395.4 341,395.7 341.2,396.2 341.5,396.7 341.8,396.9 342,396.9 342.2,396.9 342.5,396.9 342.8,396.9 343,396.9 343.2,396.9 343.5,396.9 343.8,396.9 344,396.9 344.2,396.9 344.5,396.9 344.8,396.9 345,396.9 345.2,396.9 345.5,396.9 345.8,396.9 346,396.9 346.2,396.9 346.5,396.9 346.8,396.9 347,396.6 347.2,396.2 347.5,395.8 347.8,395.5 348,395.2 348.2,394.8 348.5,394.6 348.8,394.3 349,394.3 349.2,394.1 349.5,394 349.8,393.5 350,393.2 350.2,393 350.5,392.8 350.8,393 351,393 351.2,392.2 351.5,392.3 351.8,392.6 352,391.7 352.2,391.5 352.5,390.6 352.8,391 353,389.8 353.2,390 353.5,389.7 353.8,390 354,389.7 354.2,389.6 354.5,389.2 354.8,389.6 355,390.1 355.2,391.4 355.5,391.3 355.8,390.6 356,389.5 356.2,389.4 356.5,389.5 356.8,389.7 357,389.9 357.2,388.3 357.5,389.1 357.8,389.2 358,389.6 358.2,389 358.5,389.4 358.8,388.5 359,388.5 359.2,388.3 359.5,388.2 359.8,387.7 360,385.8 360.2,385.7 360.5,385.6 360.8,386.6 361,386.7 361.2,387.3 361.5,387.1 361.8,386.2 362,386 362.2,385.9 362.5,386.3 362.8,385.3 363,384.6 363.2,384.2 363.5,384 363.8,384 364,383.6 364.2,384 364.5,383 364.8,382.8 365,382.8 365.2,383.5 365.5,383.6 365.8,383.7 366,382.9 366.2,384.7 366.5,384.1 366.8,384.1 367,384.9 367.2,384.7 367.5,384.1 367.8,382.1 368,383.1 368.2,383.7 368.5,384 368.8,382.8 369,383.4 369.2,383.2 369.5,384.3 369.8,384.9 370,385.1 370.2,385.1 370.5,385.5 370.8,384.9 371,384.4 371.2,383.9 371.5,381.6 371.8,382.4 372,383.7 372.2,383.5 372.5,382.9 372.8,380.8 373,381.3 373.2,381.8 373.5,382.2 373.8,382 374,382 374.2,382.6 374.5,383.9 374.8,384 375,385 375.2,384.8 375.5,385.4 375.8,385.7 376,386.5 376.2,387 376.5,387 376.8,386.1 377,386 377.2,386 377.5,385.3 377.8,384.1 378,385 378.2,386.1 378.5,386.8 378.8,386.9 379,387.9 379.2,387.9 379.5,387.6 379.8,386.9 380,387.5 380.2,387.8 380.5,388.7 380.8,388 381,388.5 381.2,388.6 381.5,389.4 381.8,389.5 382,389.7 382.2,389.3 382.5,389.9 382.8,390.2 383,390.3 383.2,390.2 383.5,390.4 383.8,391.3 384,391.9 384.2,391.8 384.5,391.7 384.8,391.4 385,391.7 385.2,392.3 385.5,392.4 385.8,392.3 386,392.4 386.2,392.7 386.5,393.2 386.8,393.8 387,393.9 387.2,394.3 387.5,394.2 387.8,394.5 388,394.7 388.2,395.2 388.5,395.6 388.8,396.1 389,396.3 389.2,396.4 389.5,396.6 389.8,396.7 390,396.9 390.2,396.9 390.5,396.9 390.8,396.9 391,396.9 391.2,396.9 391.5,396.9 391.8,396.9 392,396.9 392.2,396.9 392.5,396.9 392.8,396.9 393,396.9 393.2,396.7 393.5,396.2 393.8,395.9 394,395.5 394.2,395.4 394.5,394.9 394.8,394.6 395,394.2 395.2,393.9 395.5,393.8 395.8,394.1 396,393.9 396.2,393.4 396.5,392.4 396.8,391.8 397,392.1 397.2,392.1 397.5,392 397.8,391.9 398,392 398.2,391.1 398.5,390.8 398.8,390.2 399,390.3 399.2,390 399.5,389.5 399.8,389.3 400,388.5 400.2,388 400.5,387.5 400.8,387.7 401,387.7 401.2,387.5 401.5,387.8 401.8,388.4 402,388.6 402.2,387.6 402.5,387.3 402.8,387.3 403,387.6 403.2,387.2 403.5,386.8 403.8,386.9 404,388 404.2,388.4 404.5,388.8 404.8,388.7 405,389.3 405.2,389.7 405.5,390.2 405.8,390 406,390 406.2,389.9 406.5,389.8 406.8,389.4 407,389.3 407.2,389.3 407.5,389.4 407.8,389.3 408,389.1 408.2,389.6 408.5,389.3 408.8,389.3 409,389.2 409.2,389.4 409.5,390 409.8,390.1 410,390.3 410.2,389.6 410.5,389.3 410.8,389.7 411,390 411.2,390.2 411.5,389.5 411.8,389.5 412,389.7 412.2,389.3 412.5,389.1 412.8,389.1 413,389.7 413.2,390.2 413.5,390.1 413.8,389.9 414,389.7 414.2,388.9 414.5,388.9 414.8,388.6 415,388.8 415.2,388.8 415.5,389.7 415.8,390.2 416,390.1 416.2,389.1 416.5,389.3 416.8,389.5 417,389.8 417.2,390.5 417.5,390.8 417.8,391.3 418,390.7 418.2,390.6 418.5,391 418.8,391.3 419,391.7 419.2,391.2 419.5,391.8 419.8,391.7 420,391.9 420.2,391.3 420.5,392.2 420.8,392.8 421,392.9 421.2,393.1 421.5,393.6 421.8,394 422,394 422.2,394.2 422.5,394.4 422.8,395 423,395.3 423.2,395.4 423.5,396 423.8,396.2 424,396.3 424.2,396.6 424.5,396.9 424.8,396.9 425,396.9 425.2,396.9 425.5,396.9 425.8,396.9 426,396.9 426.2,396.9 426.5,396.9 426.8,396.9 427,396.9 427.2,396.9 427.5,396.9 427.8,396.9 428,396.9 428.2,396.9 428.5,396.9 428.8,396.9 429,396.9 429.2,396.9 429.5,396.9 429.8,396.9 430,396.9 430.2,396.9 430.5,396.9 430.8,396.9 431,396.9 431.2,396.9 431.5,396.9 431.8,396.9 432,396.9 432.2,396.9 432.5,396.9 432.8,396.9 433,396.9 433.2,396.9 433.5,396.9 433.8,396.9 434,396.9 434.2,396.9 434.5,396.9 434.8,396.9 435,396.9 435.2,396.9 435.5,396.9 435.8,396.9 436,396.9 436.2,396.9 436.5,396.9 436.8,396.9 437,396.9 437.2,396.9 437.5,396.9 437.8,396.9 438,396.9 438.2,396.9 438.5,396.9 438.8,396.9 439,396.9 439.2,396.9 439.5,396.9 439.8,396.9 440,396.9 440.2,396.9 440.5,396.9 440.8,396.9 441,396.8 441.2,396.8 441.5,396.8 441.8,396.6 442,396.5 442.2,396.6 442.5,396.9 442.8,396.9 443,396.9 443.2,396.9 443.5,396.9 443.8,396.9 444,396.9 444.2,396.9 444.5,396.9 444.8,396.9 445,396.9 445.2,396.9 445.5,396.9 445.8,396.9 446,396.9 446.2,396.9 446.5,396.9 446.8,396.9 447,396.9 447.2,396.9 447.5,396.9 447.8,396.9 448,396.9 448.2,396.9 448.5,396.9 448.8,396.9 449,396.9 449.2,396.9 449.5,396.9 449.8,396.9 450,396.9 450.2,396.9 450.5,396.9 450.8,396.9 451,396.6 451.2,396.4 451.5,395.2 451.8,394 452,392.9 452.2,391.7 452.5,390.7 452.8,389.7 453,388.4 453.2,387.5 453.5,385.4 453.8,383.5 454,382 454.2,381.8 454.5,380.5 454.8,379.9 455,377.5 455.2,378.5 455.5,375.5 455.8,375.1 456,373.7 456.2,375.4 456.5,375.3 456.8,376.6 457,376.4 457.2,374.5 457.5,375.3 457.8,376.7 458,377.9 458.2,378 458.5,378 458.8,375.5 459,374.5 459.2,374.4 459.5,374.8 459.8,374.1 460,374 460.2,374.2 460.5,373.5 460.8,375.2 461,375.1 461.2,376.3 461.5,375.1 461.8,374.7 462,369.9 462.2,369.2 462.5,368.7 462.8,370.9 463,372.3 463.2,372.3 463.5,372.8 463.8,373.5 464,374 464.2,374.1 464.5,375.9 464.8,375.9 465,376.5 465.2,375 465.5,375 465.8,376.6 466,376.1 466.2,376.5 466.5,376.7 466.8,377.9 467,377.5 467.2,378.1 467.5,377.5 467.8,377.9 468,378 468.2,379.1 468.5,380 468.8,381.1 469,381.5 469.2,381.8 469.5,381.5 469.8,382.5 470,383.9 470.2,383.2 470.5,384.2 470.8,384.5 471,386.3 471.2,386 471.5,385.1 471.8,384.9 472,384.6 472.2,385.4 472.5,385.1 472.8,385.5 473,385.9 473.2,386.8 473.5,387.5 473.8,387.5 474,387.9 474.2,388 474.5,388.7 474.8,389.3 475,389.9 475.2,389.7 475.5,390 475.8,389.8 476,390.2 476.2,389.7 476.5,389.2 476.8,387.4 477,385.9 477.2,385 477.5,385.2 477.8,386.5 478,388.1 478.2,389.3 478.5,390.1 478.8,390.3 479,390.5 479.2,390.6 479.5,390.4 479.8,390.5 480,389.3 480.2,389.8 480.5,390.3 480.8,391.1 481,391.1 481.2,391.6 481.5,391.5 481.8,392.3 482,392.4 482.2,392.6 482.5,392.6 482.8,392.9 483,393.2 483.2,393.7 483.5,393.7 483.8,393.8 484,394.3 484.2,394.6 484.5,394.5 484.8,394.3 485,394.7 485.2,394.9 485.5,395.4 485.8,395.7 486,395.8 486.2,396.1 486.5,396.4 486.8,396.9 487,396.9 487.2,396.9 487.5,396.9 487.8,396.9 488,396.9 488.2,396.9 488.5,396.9 488.8,396.9 489,396.9 489.2,396.9 489.5,396.9 489.8,396.9 490,396.9 490.2,396.9 490.5,396.9 490.8,396.9 491,396.9 491.2,396.9 491.5,396.9 491.8,396.9 492,396.7 492.2,396.4 492.5,395.9 492.8,395.6 493,395 493.2,395 493.5,394.9 493.8,394.9 494,394.8 494.2,394.8 494.5,394.7 494.8,394.9 495,394.8 495.2,395 495.5,395 495.8,394.9 496,395.2 496.2,395.3 496.5,395.5 496.8,395.2 497,395.5 497.2,395.5 497.5,395.8 497.8,395.7 498,395.7 498.2,395.4 498.5,395.4 498.8,395.5 499,395.6 499.2,395.2 499.5,394.8 499.8,394.6 500,394.6 500.2,394.8 500.5,394.8 500.8,395.1 501,394.9 501.2,394.7 501.5,394.7 501.8,394.8 502,394.9 502.2,394.6 502.5,394.9 502.8,395 503,395.1 503.2,395.3 503.5,395.6 503.8,395.9 504,396.1 504.2,396.4 504.5,396.7 504.8,396.9 505,396.9 505.2,396.9 505.5,396.9 505.8,396.9 506,396.9 506.2,396.9 506.5,396.9 506.8,396.9 507,396.9 507.2,396.9 507.5,396.9 507.8,396.9 508,396.9 508.2,396.9 508.5,396.9 508.8,396.9 509,396.9 509.2,396.9 509.5,396.5 509.8,396.3 510,396 510.2,395.7 510.5,395 510.8,394.4 511,393.9 511.2,393.7 511.5,393.4 511.8,393.7 512,393.6 512.2,393.3 512.5,392.3 512.8,391.7 513,390.8 513.2,390.5 513.5,390.3 513.8,389.7 514,389 514.2,388.4 514.5,389 514.8,389.3 515,388.8 515.2,388 515.5,386.6 515.8,385.9 516,384.9 516.2,384.4 516.5,384.7 516.8,385 517,384.6 517.2,384 517.5,383.4 517.8,382.7 518,381.3 518.2,381.1 518.5,381.3 518.8,380.8 519,378.7 519.2,377.8 519.5,378.2 519.8,377.9 520,377.5 520.2,377.4 520.5,377.5 520.8,377.4 521,377.1 521.2,377.6 521.5,378 521.8,378.8 522,379.1 522.2,378.5 522.5,378.3 522.8,378.8 523,379.4 523.2,379.3 523.5,379.7 523.8,381.1 524,380.1 524.2,379.4 524.5,377.9 524.8,378.5 525,378 525.2,377.8 525.5,376.1 525.8,375.2 526,374.4 526.2,374.5 526.5,374.6 526.8,375.3 527,373.9 527.2,375.5 527.5,375.8 527.8,378.2 528,379.2 528.2,379.2 528.5,380.2 528.8,381.9 529,383 529.2,383.7 529.5,383.7 529.8,384 530,383.6 530.2,383.2 530.5,383.8 530.8,384.8 531,384.5 531.2,384.2 531.5,385.4 531.8,385.7 532,386.5 532.2,385 532.5,385.9 532.8,385.3 533,386.1 533.2,385.2 533.5,386 533.8,386.1 534,386.1 534.2,385.9 534.5,385.4 534.8,385.9 535,385.7 535.2,386.5 535.5,386.9 535.8,387.1 536,386.9 536.2,387.7 536.5,388.3 536.8,389.2 537,388.8 537.2,388.6 537.5,388.6 537.8,389 538,389.9 538.2,390.2 538.5,391.3 538.8,391.4 539,391.6 539.2,391.6 539.5,392.1 539.8,392.5 540,392.4 540.2,392 540.5,391.6 540.8,391.7 541,392.4 541.2,393.3 541.5,393.8 541.8,393.6 542,393.8 542.2,394.2 542.5,394.5 542.8,394.6 543,394.7 543.2,394.9 543.5,394.8 543.8,394.8 544,395 544.2,395 544.5,395.1 544.8,395.3 545,395.7 545.2,395.5 545.5,395.5 545.8,395.7 546,395.9 546.2,395.9 546.5,396.4 546.8,396.7 547,396.9 547.2,396.9 547.5,396.9 547.8,396.9 548,396.9 548.2,395.8 548.5,394.4 548.8,392.3 549,390.1 549.2,388.3 549.5,387.1 549.8,387.1 550,385.5 550.2,386.3 550.5,386.8 550.8,387.5 551,388.2 551.2,389.1 551.5,389.7 551.8,390.6 552,390.4 552.2,391.4 552.5,392.3 552.8,393.1 553,394 553.2,394.1 553.5,394.5 553.8,395.1 554,395.7 554.2,396.2 554.5,396.4 554.8,396.5 555,396.9 555.2,396.9 555.5,396.9 555.8,396.9 556,396.9 556.2,396.9 556.5,396.9 556.8,396.9 557,396.9 557.2,396.9 557.5,396.9 557.8,396.9 558,396.9 558.2,396.9 558.5,396.9 558.8,396.9 559,396.9 559.2,396.9 559.5,396.9 559.8,396.9 560,396.9 560.2,396.9 560.5,396.9 560.8,396.9 561,396.9 561.2,396.9 561.5,396.9 561.8,396.9 562,396.9 562.2,396.9 562.5,396.9 562.8,396.9 563,396.9 563.2,396.9 563.5,396.1 563.8,395.1 564,394.1 564.2,393.2 564.5,392.3 564.8,391 565,389.4 565.2,388 565.5,387.5 565.8,385.7 566,385.6 566.2,384.3 566.5,384.1 566.8,383.4 567,382.8 567.2,384.7 567.5,386.2 567.8,388.6 568,388.2 568.2,388.1 568.5,387.7 568.8,387.9 569,388.8 569.2,388.9 569.5,389.2 569.8,389.4 570,390.2 570.2,390.5 570.5,390.9 570.8,391.1 571,391.7 571.2,392.2 571.5,391.8 571.8,391 572,390.7 572.2,390.5 572.5,390.4 572.8,389.5 573,388.5 573.2,388 573.5,387.1 573.8,386.8 574,387.1 574.2,386.4 574.5,386.2 574.8,385.2 575,383.8 575.2,383.5 575.5,382.2 575.8,382.8 576,382.4 576.2,383 576.5,382.6 576.8,382.6 577,383.8 577.2,385 577.5,386 577.8,386.6 578,387.3 578.2,387.7 578.5,388.5 578.8,388.7 579,389.2 579.2,389.7 579.5,390.7 579.8,390.8 580,391 580.2,391.5 580.5,391.5 580.8,391.3 581,391.2 581.2,392 581.5,392.6 581.8,393.1 582,393.5 582.2,393.9 582.5,394.3 582.8,394.6 583,395.2 583.2,395.4 583.5,395.6 583.8,395.5 584,395.9 584.2,396.3 584.5,396.2 584.8,396.5 585,396.8 585.2,396.9 585.5,396.9 585.8,396.9 586,396.9 586.2,396.9 586.5,396.9 586.8,396.9 587,396.4 587.2,395.7 587.5,394.8 587.8,394 588,393.4 588.2,393 588.5,392.4 588.8,391.6 589,391 589.2,390.3 589.5,389.9 589.8,389.9 590,389.7 590.2,389.5 590.5,388.6 590.8,387.7 591,387.2 591.2,387 591.5,387.2 591.8,387.3 592,387.4 592.2,387.3 592.5,386.7 592.8,386.3 593,385.7 593.2,385.9 593.5,385.7 593.8,385 594,385.3 594.2,384.2 594.5,383.7 594.8,380.2 595,380.9 595.2,382.5 595.5,380.6 595.8,380.1 596,378.8 596.2,381.3 596.5,382.1 596.8,382.8 597,383 597.2,383.7 597.5,384.4 597.8,385.2 598,386.3 598.2,386.2 598.5,384.6 598.8,384.9 599,385.5 599.2,385.7 599.5,385.9 599.8,386.7 600,387.1 600.2,387.2 600.5,387.1 600.8,387 601,387.3 601.2,386.9 601.5,386.5 601.8,386.4 602,385.8 602.2,385.4 602.5,383.4 602.8,384.3 603,384.9 603.2,384.9 603.5,385.2 603.8,384.9 604,383.8 604.2,384 604.5,383.8 604.8,385.5 605,384.4 605.2,383.9 605.5,381.9 605.8,381.9 606,382.7 606.2,383.9 606.5,382.7 606.8,381.7 607,381 607.2,380.7 607.5,379.7 607.8,379.8 608,379.8 608.2,381 608.5,380.4 608.8,381.4 609,379.9 609.2,380.9 609.5,379 609.8,379.8 610,379.1 610.2,379.2 610.5,379 610.8,379.2 611,378.9 611.2,376.6 611.5,376.6 611.8,378.7 612,379 612.2,380.2 612.5,380 612.8,379.5 613,380.2 613.2,379.7 613.5,380.2 613.8,380.8 614,381.6 614.2,382.2 614.5,383.4 614.8,384.4 615,383.3 615.2,382.9 615.5,383.1 615.8,383.1 616,384.1 616.2,384.6 616.5,384.3 616.8,384 617,384.4 617.2,385.6 617.5,385.7 617.8,386.2 618,387.2 618.2,387.1 618.5,387.8 618.8,387.6 619,388.6 619.2,388.4 619.5,388.3 619.8,388.4 620,388.2 620.2,388.4 620.5,388.7 620.8,390.1 621,390.5 621.2,390.8 621.5,390.6 621.8,390.8 622,390.5 622.2,390.3 622.5,389.7 622.8,389.8 623,390.4 623.2,391 623.5,391.7 623.8,391.3 624,391.2 624.2,391.2 624.5,391.6 624.8,391.8 625,391.8 625.2,391.6 625.5,390.9 625.8,390.6 626,390.7 626.2,391.5 626.5,392 626.8,392.3 627,392.8 627.2,393 627.5,393.6 627.8,394 628,394.5 628.2,394.7 628.5,395.1 628.8,395.5 629,395.6 629.2,395.9 629.5,396 629.8,396.5 630,396.7 630.2,396.9 630.5,396.9 630.8,396.9 631,396.9 631.2,396.9 631.5,396.9 631.8,396.9 632,396.9 632.2,396.9 632.5,396.9 632.8,396.9 633,396.9 633.2,396.9 633.5,396.9 633.8,396.9 634,396.9 634.2,396.9 634.5,396.9 634.8,396.9 635,396.9 635.2,396.3 635.5,395.7 635.8,395.1 636,394.3 636.2,394.3 636.5,394.3 636.8,394.4 637,394.3 637.2,394.3 637.5,394.3 637.8,394.4 638,394.5 638.2,394.3 638.5,394.1 638.8,394 639,394.4 639.2,394.4 639.5,394.3 639.8,394.5 640,394.4 640.2,394.5 640.5,394.1 640.8,394.3 641,394.2 641.2,394.4 641.5,394.5 641.8,394.7 642,394.7 642.2,394.6 642.5,394.8 642.8,394.8 643,394.8 643.2,394.9 643.5,395 643.8,395.5 644,395.8 644.2,396.1 644.5,396.3 644.8,396.3 645,396.6 645.2,396.8 645.5,396.9 645.8,396.9 646,396.9 646.2,396.9 646.5,396.9 646.8,396.9 647,396.9 647.2,396.9 647.5,396.9 647.8,396.9 648,396.9 648.2,396.9 648.5,396.7 648.8,396.1 649,395.6 649.2,395 649.5,394.6 649.8,394 650,393.9 650.2,393.7 650.5,393.6 650.8,393.3 651,392.8 651.2,392.3 651.5,391.7 651.8,390.9 652,390.9 652.2,390.6 652.5,390.5 652.8,389.7 653,389.8 653.2,389.6 653.5,390.1 653.8,390 654,389.8 654.2,390 654.5,390 654.8,389.9 655,389.2 655.2,389 655.5,388.5 655.8,388.9 656,388.3 656.2,388.5 656.5,388.2 656.8,389.7 657,390.2 657.2,390.5 657.5,390.8 657.8,391.8 658,392.5 658.2,392.9 658.5,393.2 658.8,393.5 659,393.7 659.2,393.8 659.5,394.4 659.8,395 660,395.2 660.2,395.6 660.5,396.1 660.8,396.4 661,396.9 661.2,396.9 661.5,396.9 661.8,396.9 662,396.9 662.2,396.9 662.5,396.9 662.8,396.9 663,396.9 663.2,396.9 663.5,396.9 663.8,396.9 664,396.9 664.2,396.9 664.5,396.9 664.8,396.9 665,396.9 665.2,396.9 665.5,396.8 665.8,396.4 666,396 666.2,395.6 666.5,395.4 666.8,394.9 667,394.7 667.2,394.4 667.5,394.1 667.8,393.8 668,393.6 668.2,393.8 668.5,393.7 668.8,393.2 669,392.6 669.2,391.9 669.5,391.8 669.8,391.5 670,391.5 670.2,391.1 670.5,390.9 670.8,391 671,391.2 671.2,391 671.5,390.7 671.8,389.9 672,388.9 672.2,388.9 672.5,388.5 672.8,387.8 673,386.4 673.2,385.7 673.5,383.3 673.8,383.2 674,383.8 674.2,383 674.5,383.5 674.8,382.7 675,382.7 675.2,382.1 675.5,382.5 675.8,381.8 676,380.7 676.2,379.3 676.5,380 676.8,379.9 677,379.2 677.2,379.7 677.5,380.4 677.8,381.5 678,382.8 678.2,383.3 678.5,383.3 678.8,382.3 679,383.6 679.2,383.2 679.5,384.4 679.8,383.7 680,384.3 680.2,384.2 680.5,384.4 680.8,385.9 681,386.7 681.2,387.3 681.5,386.6 681.8,386.3 682,385.8 682.2,385.9 682.5,386 682.8,386.3 683,386.3 683.2,386.6 683.5,386.7 683.8,385.5 684,384.8 684.2,384.5 684.5,385 684.8,384 685,383.1 685.2,382.7 685.5,382.3 685.8,381.5 686,380.9 686.2,381.4 686.5,382 686.8,381.6 687,380.8 687.2,380.1 687.5,380.4 687.8,379.8 688,379.3 688.2,379 688.5,378.4 688.8,378.2 689,378.4 689.2,379.2 689.5,374.7 689.8,373.8 690,373.2 690.2,373.7 690.5,373.9 690.8,372.2 691,373.2 691.2,375.7 691.5,375.2 691.8,376.3 692,376.3 692.2,377.8 692.5,378.5 692.8,378.8 693,378.4 693.2,377.8 693.5,376.6 693.8,378 694,380.6 694.2,381 694.5,381.8 694.8,382.9 695,384.2 695.2,383.3 695.5,382.6 695.8,381.9 696,382.7 696.2,382.7 696.5,381.7 696.8,381.9 697,381.7 697.2,383 697.5,383.2 697.8,383.8 698,382.9 698.2,384.3 698.5,385.1 698.8,385.1 699,384.6 699.2,384.8 699.5,385.7 699.8,386.2 700,387.7 700.2,386.9 700.5,386.5 700.8,385 701,384.7 701.2,384.8 701.5,383.6 701.8,383.6 702,383.1 702.2,383.5 702.5,382.3 702.8,381.5 703,381.5 703.2,381.9 703.5,382.4 703.8,381.7 704,380.4 704.2,380.7 704.5,382.2 704.8,385 705,385.6 705.2,385.6 705.5,385.5 705.8,385.8 706,386.3 706.2,387.7 706.5,387.7 706.8,388 707,387.2 707.2,387.5 707.5,387.8 707.8,388.2 708,388.2 708.2,387.7 708.5,387.6 708.8,387.7 709,387.6 709.2,387.3 709.5,387.4 709.8,387.9 710,388.1 710.2,387.7 710.5,387.1 710.8,387 711,387.4 711.2,387.1 711.5,387.7 711.8,388 712,388.7 712.2,388.1 712.5,388.9 712.8,389.3 713,389.1 713.2,388.4 713.5,387.9 713.8,388.5 714,388.1 714.2,388.9 714.5,390.4 714.8,391.1 715,391.6 715.2,391.4 715.5,391.7 715.8,391.9 716,392.6 716.2,393.7 716.5,394.1 716.8,394.9 717,395.5 717.2,396.1 717.5,396.7 717.8,396.9 718,396.9 718.2,396.9 718.5,396.9 718.8,396.9 719,396.9 719.2,396.9 719.5,396.9 719.8,396.9 720,396.9 720.2,396.9 720.5,396.9 720.8,396.9 721,396.9 721.2,396.9 721.5,396.9 721.8,396.9 722,396.9 722.2,396.9 722.5,396.9 722.8,396.9 723,396.9 723.2,396.9 723.5,396.9 723.8,396.9 724,396.9 724.2,396.9 724.5,396.9 724.8,396.9 725,396.9 725.2,396.6 725.5,396.1 725.8,395.5 726,394.8 726.2,394.2 726.5,393.9 726.8,393.8 727,393.9 727.2,393.5 727.5,393.5 727.8,393.6 728,393.6 728.2,393.6 728.5,393.6 728.8,393.8 729,393.4 729.2,392.9 729.5,392.8 729.8,393.5 730,393.5 730.2,393.5 730.5,393.1 730.8,393.3 731,393 731.2,393.7 731.5,393.7 731.8,393.8 732,393.4 732.2,393.8 732.5,393.7 732.8,393.7 733,393.8 733.2,394.2 733.5,394.5 733.8,394.4 734,394.5 734.2,394.5 734.5,394.8 734.8,394.6 735,394.8 735.2,394.8 735.5,394.6 735.8,394.8 736,395.1 736.2,395.5 736.5,395.8 736.8,396.1 737,396.2 737.2,396.4 737.5,396.7 737.8,396.9 738,396.9 738.2,396.9 738.5,396.9 738.8,396.9 739,396.9 739.2,396.9 739.5,396.9 739.8,396.9 740,396.9 740.2,396.9 740.5,396.9 740.8,396.9 741,396.9 741.2,396.9 741.5,396.9 741.8,396.9 742,396.9 742.2,396.9 742.5,396.9 742.8,396.9 743,396.8 743.2,396.4 743.5,396.1 743.8,395.7 744,395.3 744.2,395 744.5,394.8 744.8,394.6 745,393.7 745.2,393.6 745.5,393.5 745.8,393.3 746,392.9 746.2,392.3 746.5,392.4 746.8,392.4 747,392.4 747.2,391.8 747.5,391.2 747.8,390.9 748,390.7 748.2,390.4 748.5,390.5 748.8,390.4 749,390.6 749.2,390.2 749.5,390 749.8,389.8 750,389.2 750.2,389.3 750.5,389.1 750.8,389.1 751,388.8 751.2,388.8 751.5,389 751.8,389.1 752,389.1 752.2,389 752.5,389.5 752.8,388.8 753,389.9 753.2,390.4 753.5,390.8 753.8,390.6 754,390.7 754.2,390.8 754.5,391.8 754.8,392.1 755,392.5 755.2,392.7 755.5,392.8 755.8,393.3 756,393.2 756.2,393.3 756.5,392.9 756.8,393.6 757,394.7 757.2,395 757.5,395.5 757.8,395.6 758,395.9 758.2,396.3 758.5,396.7 758.8,396.9 759,396.9 759.2,396.9 759.5,396.9 759.8,396.9 760,396.9 760.2,396.9 760.5,396.9 760.8,396.9 761,396.9 761.2,396.9 761.5,396.9 761.8,396.9 762,396.9 762.2,396.9 762.5,396.9 762.8,396.9 763,396.9 763.2,396.9 763.5,396.9 763.8,396.9 764,396.9 764.2,396.9 764.5,396.9 764.8,396.9 765,396.9 765.2,396.9 765.5,396.9 765.8,396.9 766,396.9 766.2,396.9 766.5,396.9 766.8,396.9 767,396.9 767.2,396.9 767.5,396.9 767.8,396.9 768,396.9 768.2,396.9 768.5,396.9 768.8,396.9 769,396.9 769.2,396.9 769.5,396.9 769.8,396.9 770,396.9 770.2,396.9 770.5,396.9 770.8,396.9 771,396.9 771.2,396.9 771.5,396.9 771.8,396.9 772,396.9 772.2,396.9 772.5,396.9 772.8,396.9 773,396.9 773.2,396.9 773.5,396.9 773.8,396.9 774,396.9 774.2,396.9 774.5,396.9 774.8,396.9 775,396.9 775.2,396.9 775.5,396.9 775.8,396.9 776,396.9 776.2,396.9 776.5,396.9 776.8,396.9 777,396.9 777.2,396.9 777.5,396.9 777.8,396.9 778,396.9 778.2,396.9 778.5,396.9 778.5,399.8 778.2,399.8 778,399.8 777.8,399.8 777.5,399.8 777.2,399.8 777,399.8 776.8,399.8 776.5,399.8 776.2,399.8 776,399.8 775.8,399.8 775.5,399.8 775.2,399.8 775,399.8 774.8,399.8 774.5,399.8 774.2,399.8 774,399.8 773.8,399.8 773.5,399.8 773.2,399.8 773,399.8 772.8,399.8 772.5,399.8 772.2,399.8 772,399.8 771.8,399.8 771.5,399.8 771.2,399.8 771,399.8 770.8,399.8 770.5,399.8 770.2,399.8 770,399.8 769.8,399.8 769.5,399.8 769.2,399.8 769,399.8 768.8,399.8 768.5,399.8 768.2,399.8 768,399.8 767.8,399.8 767.5,399.8 767.2,399.8 767,399.8 766.8,399.8 766.5,399.8 766.2,399.8 766,399.8 765.8,399.8 765.5,399.8 765.2,399.8 765,399.8 764.8,399.8 764.5,399.8 764.2,399.8 764,399.8 763.8,399.8 763.5,399.8 763.2,399.8 763,399.8 762.8,399.8 762.5,399.8 762.2,399.8 762,399.8 761.8,399.8 761.5,399.8 761.2,399.8 761,399.8 760.8,399.8 760.5,399.8 760.2,400.1 760,400.6 759.8,401 759.5,401.6 759.2,402.2 759,402.9 758.8,403.5 758.5,404 758.2,404.4 758,405.3 757.8,405.1 757.5,405.7 757.2,405.7 757,406 756.8,406.8 756.5,407.4 756.2,408.4 756,408.2 755.8,408.5 755.5,407.3 755.2,407.3 755,407.3 754.8,407.7 754.5,407.8 754.2,408 754,408.3 753.8,409.2 753.5,410 753.2,411.5 753,411.3 752.8,411.6 752.5,410.7 752.2,411.4 752,410.6 751.8,410.9 751.5,410.8 751.2,411 751,410.2 750.8,410.4 750.5,411.2 750.2,411.9 750,411.5 749.8,411.9 749.5,412.1 749.2,413.6 749,414.3 748.8,414.5 748.5,416.4 748.2,417.3 748,419.2 747.8,417.5 747.5,418 747.2,416.9 747,415.7 746.8,415.5 746.5,415.2 746.2,415 746,413.3 745.8,412.9 745.5,412 745.2,411.1 745,409.2 744.8,408.4 744.5,407.3 744.2,406.8 744,405.8 743.8,405 743.5,404.1 743.2,403.3 743,402.4 742.8,401.4 742.5,400.4 742.2,399.8 742,399.8 741.8,399.8 741.5,399.8 741.2,399.8 741,399.8 740.8,399.8 740.5,399.8 740.2,399.8 740,399.8 739.8,399.8 739.5,399.8 739.2,399.8 739,399.8 738.8,399.8 738.5,399.8 738.2,399.8 738,399.8 737.8,399.8 737.5,399.8 737.2,400 737,400.3 736.8,400.7 736.5,400.8 736.2,401.1 736,401.4 735.8,401.5 735.5,401.4 735.2,401.6 735,401.7 734.8,401.8 734.5,401.9 734.2,402.1 734,402.1 733.8,402.3 733.5,402.4 733.2,402.5 733,402.6 732.8,402.8 732.5,403.1 732.2,403.1 732,403.2 731.8,403.3 731.5,403.2 731.2,402.9 731,402.9 730.8,403.2 730.5,403.4 730.2,403.5 730,403.5 729.8,403.5 729.5,403.5 729.2,403.2 729,402.9 728.8,403 728.5,403.1 728.2,403.4 728,402.9 727.8,402.8 727.5,402.8 727.2,403.2 727,403.2 726.8,402.8 726.5,402.9 726.2,402.7 726,402.3 725.8,401.4 725.5,400.8 725.2,400.4 725,399.8 724.8,399.8 724.5,399.8 724.2,399.8 724,399.8 723.8,399.8 723.5,399.8 723.2,399.8 723,399.8 722.8,399.8 722.5,399.8 722.2,399.8 722,399.8 721.8,399.8 721.5,399.8 721.2,399.8 721,399.8 720.8,399.8 720.5,399.8 720.2,399.8 720,399.8 719.8,399.8 719.5,399.8 719.2,399.8 719,399.8 718.8,399.8 718.5,399.8 718.2,399.8 718,399.8 717.8,399.8 717.5,400.2 717.2,400.8 717,401.4 716.8,401.8 716.5,402.3 716.2,402.3 716,403 715.8,403.4 715.5,403.7 715.2,403.9 715,404.6 714.8,405.3 714.5,406.5 714.2,407.6 714,408.2 713.8,408.3 713.5,408.4 713.2,408.7 713,410 712.8,409.8 712.5,410.3 712.2,411 712,413.4 711.8,415.1 711.5,416.9 711.2,417.5 711,417.8 710.8,417.5 710.5,418.2 710.2,419 710,421.2 709.8,423.1 709.5,420.2 709.2,419.6 709,420 708.8,420.9 708.5,420.2 708.2,420.5 708,421.2 707.8,424.2 707.5,428.3 707.2,430.8 707,428.4 706.8,426.5 706.5,426 706.2,426.8 706,428.1 705.8,427.7 705.5,426.2 705.2,424.4 705,424.3 704.8,422.9 704.5,423.7 704.2,424.4 704,425.8 703.8,425.5 703.5,423.4 703.2,423.7 703,423.9 702.8,424.6 702.5,424.2 702.2,425.7 702,427.1 701.8,428.2 701.5,430 701.2,430.2 701,427.3 700.8,429.5 700.5,432.3 700.2,433 700,433.7 699.8,432.4 699.5,432.1 699.2,434.4 699,436 698.8,437.9 698.5,440.7 698.2,443.3 698,443.2 697.8,440.8 697.5,443.2 697.2,443.7 697,443.7 696.8,445.4 696.5,448.7 696.2,448.9 696,450.9 695.8,452.2 695.5,454.8 695.2,449.5 695,449.3 694.8,449.3 694.5,450.4 694.2,452.2 694,453.5 693.8,450.8 693.5,445.6 693.2,441.4 693,439.2 692.8,438 692.5,441.4 692.2,446.4 692,447.7 691.8,444.5 691.5,444.4 691.2,444.8 691,443.1 690.8,442.5 690.5,439.9 690.2,438.4 690,439.4 689.8,439.6 689.5,444.7 689.2,441.4 689,443.7 688.8,443.3 688.5,446.9 688.2,444.2 688,443.8 687.8,445.5 687.5,446.6 687.2,447.4 687,446 686.8,445.8 686.5,446.1 686.2,447.1 686,447.6 685.8,450 685.5,448.4 685.2,451 685,447.1 684.8,447.6 684.5,444.4 684.2,448 684,448.3 683.8,449 683.5,444.1 683.2,445.8 683,448.4 682.8,452.7 682.5,450.2 682.2,452 682,448.6 681.8,451.2 681.5,448.1 681.2,447.4 681,442.7 680.8,444.5 680.5,443.1 680.2,445.3 680,443.1 679.8,443.9 679.5,446.9 679.2,446.7 679,446.7 678.8,446.6 678.5,445.6 678.2,447 678,440.8 677.8,437.3 677.5,436.6 677.2,441.1 677,443.9 676.8,443.8 676.5,440 676.2,440.6 676,437.7 675.8,435 675.5,431.4 675.2,429.6 675,428.2 674.8,428.2 674.5,429.5 674.2,430.9 674,430.4 673.8,430.4 673.5,429.5 673.2,431.2 673,429.2 672.8,429 672.5,426.3 672.2,427 672,425.5 671.8,426.7 671.5,426.4 671.2,426.1 671,426.2 670.8,423.4 670.5,424.2 670.2,423.7 670,423.9 669.8,421.6 669.5,420.4 669.2,418.1 669,417.6 668.8,415.4 668.5,415.8 668.2,416.1 668,414.8 667.8,414 667.5,412.8 667.2,411.7 667,409.4 666.8,408.5 666.5,406.8 666.2,405.7 666,404.3 665.8,403.3 665.5,402.5 665.2,401.3 665,400.2 664.8,399.8 664.5,399.8 664.2,399.8 664,399.8 663.8,399.8 663.5,399.8 663.2,399.8 663,399.8 662.8,399.8 662.5,399.8 662.2,399.8 662,400.5 661.8,401.3 661.5,402.2 661.2,403.2 661,403.9 660.8,404.4 660.5,405.2 660.2,406 660,406.8 659.8,407.7 659.5,408.7 659.2,409.5 659,409.4 658.8,409.4 658.5,409.1 658.2,409.9 658,410.6 657.8,412.4 657.5,413 657.2,413.4 657,413.2 656.8,414.6 656.5,415.5 656.2,418 656,419.8 655.8,417.6 655.5,416.7 655.2,417.5 655,419.6 654.8,421 654.5,421.4 654.2,420.7 654,420.8 653.8,420.3 653.5,421 653.2,420.7 653,420 652.8,419.1 652.5,417.7 652.2,418.4 652,417.9 651.8,417.7 651.5,415.5 651.2,414.2 651,413.2 650.8,412 650.5,409.8 650.2,409.1 650,408.1 649.8,407.5 649.5,406.1 649.2,405.5 649,404.5 648.8,403.2 648.5,402 648.2,401.1 648,400.2 647.8,399.8 647.5,399.8 647.2,399.8 647,399.8 646.8,399.8 646.5,399.8 646.2,399.8 646,399.8 645.8,399.8 645.5,400 645.2,400.2 645,400.3 644.8,400.3 644.5,400.5 644.2,400.7 644,400.8 643.8,400.9 643.5,401 643.2,401.2 643,401.8 642.8,401.8 642.5,402 642.2,402 642,402 641.8,402 641.5,402 641.2,402.5 641,402.9 640.8,402.5 640.5,402.5 640.2,402.5 640,402.9 639.8,402.6 639.5,402.3 639.2,402.1 639,402.3 638.8,402.5 638.5,402.5 638.2,402.5 638,402.4 637.8,402.3 637.5,402.3 637.2,402.4 637,402.3 636.8,402.1 636.5,402.1 636.2,402 636,402.1 635.8,401.5 635.5,400.9 635.2,400.2 635,399.8 634.8,399.8 634.5,399.8 634.2,399.8 634,399.8 633.8,399.8 633.5,399.8 633.2,399.8 633,399.8 632.8,399.8 632.5,399.8 632.2,399.8 632,399.8 631.8,399.8 631.5,399.8 631.2,399.8 631,399.8 630.8,399.8 630.5,400.2 630.2,400.8 630,401.3 629.8,401.7 629.5,402.5 629.2,403.1 629,403.7 628.8,404.3 628.5,404.6 628.2,405 628,405.3 627.8,405.6 627.5,406 627.2,406.7 627,407.6 626.8,407.8 626.5,409.3 626.2,411.2 626,411.3 625.8,411.4 625.5,412.1 625.2,413.5 625,413.9 624.8,414.3 624.5,414.9 624.2,415.2 624,415.2 623.8,415.4 623.5,415.8 623.2,416 623,415.7 622.8,415.9 622.5,417.9 622.2,417.6 622,418.4 621.8,418.1 621.5,418.3 621.2,419.4 621,420.6 620.8,421.4 620.5,420.7 620.2,421 620,422.7 619.8,422.5 619.5,422.9 619.2,424.3 619,425.1 618.8,425 618.5,426.6 618.2,426.9 618,427.1 617.8,426 617.5,426.7 617.2,428.7 617,430.7 616.8,432.6 616.5,432.1 616.2,432.7 616,432.8 615.8,435.7 615.5,436.7 615.2,438 615,441.4 614.8,441.6 614.5,438.7 614.2,436.2 614,431.8 613.8,432 613.5,430.9 613.2,433.9 613,430.2 612.8,430.2 612.5,427.6 612.2,427.5 612,427.8 611.8,433.5 611.5,437.5 611.2,441.9 611,438 610.8,441.6 610.5,442.6 610.2,446.2 610,448.6 609.8,451.4 609.5,451.2 609.2,450.4 609,450.6 608.8,452.3 608.5,453.8 608.2,455.3 608,453.5 607.8,452 607.5,451.3 607.2,454.1 607,458 606.8,454.3 606.5,454.9 606.2,449.7 606,451.5 605.8,449.9 605.5,453.8 605.2,454 605,456.3 604.8,454.8 604.5,459 604.2,458.3 604,461.3 603.8,457 603.5,455.5 603.2,453.5 603,455.5 602.8,454.5 602.5,455.2 602.2,450.1 602,451.4 601.8,445.6 601.5,446.9 601.2,443.1 601,444.6 600.8,444.5 600.5,443.6 600.2,441.3 600,438.6 599.8,437.1 599.5,435.3 599.2,433.8 599,432.9 598.8,430.7 598.5,429.3 598.2,426.9 598,423.9 597.8,424.3 597.5,424.8 597.2,423.1 597,420.3 596.8,420 596.5,422.9 596.2,425.4 596,428.4 595.8,430.1 595.5,436.4 595.2,436.8 595,443.4 594.8,440.9 594.5,443.5 594.2,442 594,441.1 593.8,439.4 593.5,437 593.2,434.1 593,433.9 592.8,431.3 592.5,429.5 592.2,428.5 592,427.8 591.8,424.7 591.5,421.6 591.2,420.9 591,419.7 590.8,418 590.5,417.8 590.2,416.6 590,416 589.8,414 589.5,412.7 589.2,411.1 589,409.6 588.8,409.1 588.5,407.9 588.2,407.2 588,405.7 587.8,405.1 587.5,403.7 587.2,402.8 587,401.7 586.8,400.6 586.5,399.8 586.2,399.8 586,399.8 585.8,399.8 585.5,400.7 585.2,401.9 585,403.2 584.8,404.2 584.5,404.7 584.2,405.4 584,405.9 583.8,406.5 583.5,407.1 583.2,408.2 583,408.9 582.8,409.8 582.5,409.7 582.2,410.6 582,410 581.8,411.3 581.5,412.9 581.2,415.4 581,415.2 580.8,415.6 580.5,416.7 580.2,416.8 580,416.9 579.8,418 579.5,418.7 579.2,421 579,422.5 578.8,424.2 578.5,426.2 578.2,426.8 578,428.3 577.8,426.2 577.5,423.7 577.2,424.7 577,423 576.8,421.9 576.5,418.9 576.2,418.5 576,420.2 575.8,419.3 575.5,417.6 575.2,419 575,419 574.8,420.4 574.5,418.7 574.2,419.4 574,418.4 573.8,417.6 573.5,419 573.2,420.3 573,421.9 572.8,419.7 572.5,420.4 572.2,421.7 572,423.8 571.8,424.2 571.5,423.7 571.2,424.2 571,423.7 570.8,425.2 570.5,425.7 570.2,427.8 570,428.7 569.8,428.4 569.5,429.4 569.2,429.6 569,432.8 568.8,433.3 568.5,432.1 568.2,429.6 568,428 567.8,427.2 567.5,428.5 567.2,426.4 567,424.4 566.8,420.1 566.5,417.9 566.2,416.3 566,416.2 565.8,415.4 565.5,414.6 565.2,413 565,412.5 564.8,410.9 564.5,409.1 564.2,407.1 564,405.2 563.8,403.8 563.5,402.5 563.2,400.5 563,399.8 562.8,399.8 562.5,399.8 562.2,399.8 562,399.8 561.8,399.8 561.5,399.8 561.2,399.8 561,399.8 560.8,399.8 560.5,399.8 560.2,399.8 560,399.8 559.8,399.8 559.5,399.8 559.2,399.8 559,399.8 558.8,399.8 558.5,399.8 558.2,399.8 558,399.8 557.8,399.8 557.5,399.8 557.2,399.8 557,399.8 556.8,399.8 556.5,399.8 556.2,399.8 556,399.8 555.8,400 555.5,401.7 555.2,403.5 555,405.6 554.8,407.3 554.5,409.3 554.2,412.4 554,416.1 553.8,419.3 553.5,418.5 553.2,418.2 553,419.3 552.8,419.8 552.5,421 552.2,421.7 552,422.5 551.8,426.7 551.5,426.1 551.2,429 551,425.6 550.8,426.8 550.5,425.9 550.2,423.3 550,423 549.8,422.4 549.5,419.7 549.2,416.8 549,414.6 548.8,413.5 548.5,407.4 548.2,403.5 548,399.8 547.8,400.7 547.5,401.4 547.2,402.3 547,403.3 546.8,404 546.5,404.2 546.2,405 546,405.6 545.8,406.5 545.5,407.4 545.2,407.9 545,408.6 544.8,409.7 544.5,411.9 544.2,413.2 544,414 543.8,414.2 543.5,414.4 543.2,414.1 543,416.4 542.8,417.5 542.5,417.8 542.2,416.2 542,417 541.8,418.1 541.5,419.3 541.2,421.4 541,423.2 540.8,421.5 540.5,424.8 540.2,428.1 540,432 539.8,427.7 539.5,427.9 539.2,430.2 539,430.2 538.8,430 538.5,429.1 538.2,429.1 538,429.3 537.8,429.8 537.5,430.2 537.2,430.2 537,429.6 536.8,430 536.5,430.6 536.2,432.9 536,433.3 535.8,435.8 535.5,437.3 535.2,437.4 535,438.8 534.8,439.8 534.5,444.7 534.2,444.7 534,445.5 533.8,446.2 533.5,448.6 533.2,451.7 533,452.2 532.8,452.4 532.5,450.6 532.2,447.2 532,447.8 531.8,447 531.5,446.4 531.2,446.9 531,442.8 530.8,445 530.5,441.9 530.2,446.8 530,445.4 529.8,448.8 529.5,446.4 529.2,447.7 529,447.7 528.8,445.8 528.5,446.7 528.2,444.3 528,449.8 527.8,450.1 527.5,452.5 527.2,457.1 527,456.5 526.8,452.3 526.5,450.5 526.2,452.9 526,460.5 525.8,459.7 525.5,462.5 525.2,465.1 525,469.7 524.8,468.4 524.5,464.6 524.2,461 524,458 523.8,457.7 523.5,454.4 523.2,454.2 523,449.1 522.8,450 522.5,453 522.2,457.7 522,459.6 521.8,453.6 521.5,454.3 521.2,451.4 521,456.3 520.8,452.8 520.5,455.4 520.2,452.2 520,450.7 519.8,447.8 519.5,451.5 519.2,453.8 519,457.3 518.8,457.4 518.5,458.3 518.2,453.5 518,455.7 517.8,456.8 517.5,456.2 517.2,454.3 517,453.6 516.8,452.1 516.5,448.4 516.2,446 516,446.8 515.8,445.9 515.5,443.5 515.2,441.3 515,438.7 514.8,436 514.5,432.9 514.2,430.8 514,431.6 513.8,432.5 513.5,425.8 513.2,424.4 513,423 512.8,422.7 512.5,420.6 512.2,420.6 512,420.4 511.8,419.2 511.5,417.3 511.2,414.8 511,413 510.8,412.1 510.5,411.2 510.2,409.7 510,407.4 509.8,405.5 509.5,403.8 509.2,402.8 509,401.6 508.8,400.6 508.5,399.8 508.2,399.8 508,399.8 507.8,399.8 507.5,399.8 507.2,399.8 507,399.8 506.8,399.8 506.5,399.8 506.2,399.8 506,399.8 505.8,399.8 505.5,399.8 505.2,399.8 505,399.8 504.8,399.8 504.5,400.1 504.2,400.4 504,400.6 503.8,400.9 503.5,401.2 503.2,401.5 503,401.8 502.8,401.9 502.5,401.7 502.2,402 502,401.8 501.8,402.3 501.5,402.1 501.2,402.1 501,402.1 500.8,402.3 500.5,402.2 500.2,402.1 500,402 499.8,402.1 499.5,402.1 499.2,402.1 499,402 498.8,401.8 498.5,401.5 498.2,401.6 498,401.5 497.8,401.5 497.5,401.5 497.2,401.7 497,401.7 496.8,401.7 496.5,401.7 496.2,401.8 496,401.9 495.8,402.1 495.5,402.1 495.2,402 495,401.9 494.8,401.9 494.5,402 494.2,402 494,401.7 493.8,401.8 493.5,401.7 493.2,401.8 493,401.5 492.8,401.2 492.5,400.9 492.2,400.6 492,400.2 491.8,399.8 491.5,399.8 491.2,399.8 491,399.8 490.8,399.8 490.5,399.8 490.2,399.8 490,399.8 489.8,399.8 489.5,399.8 489.2,399.8 489,399.8 488.8,399.8 488.5,399.8 488.2,399.8 488,399.8 487.8,399.8 487.5,399.8 487.2,399.9 487,400.5 486.8,401.2 486.5,401.5 486.2,402.3 486,402.9 485.8,404 485.5,404.1 485.2,405.2 485,405.6 484.8,406.9 484.5,406.6 484.2,407.8 484,408.1 483.8,409.1 483.5,408.9 483.2,409.9 483,410.7 482.8,411.8 482.5,412.4 482.2,413.1 482,413.3 481.8,413.3 481.5,414.1 481.2,415 481,416.7 480.8,418.3 480.5,421.1 480.2,422 480,421.2 479.8,420.7 479.5,421 479.2,422.9 479,421.6 478.8,423.8 478.5,422.9 478.2,427.1 478,428.6 477.8,426.7 477.5,427.8 477.2,428.6 477,430.7 476.8,432.5 476.5,433.2 476.2,434 476,433.5 475.8,431.9 475.5,431.5 475.2,431.2 475,431.8 474.8,435.4 474.5,439.7 474.2,440.9 474,441.9 473.8,441.6 473.5,440 473.2,438.2 473,439.8 472.8,444 472.5,446.5 472.2,445.9 472,450.3 471.8,449.7 471.5,446.1 471.2,447.8 471,445.7 470.8,448.1 470.5,448.1 470.2,450.8 470,453.4 469.8,449.9 469.5,449.4 469.2,452.3 469,445.4 468.8,446.2 468.5,444.2 468.2,444 468,440.7 467.8,441 467.5,440.8 467.2,442.7 467,441.8 466.8,444 466.5,446.5 466.2,438.5 466,434.4 465.8,432.6 465.5,434.1 465.2,434.4 465,435.5 464.8,435.3 464.5,434.7 464.2,433.7 464,432.7 463.8,431.3 463.5,432.8 463.2,431.3 463,432.7 462.8,433.7 462.5,436.5 462.2,441.9 462,448.3 461.8,450.8 461.5,457.1 461.2,461.7 461,457.3 460.8,450.8 460.5,449.3 460.2,443.6 460,441 459.8,437.5 459.5,434.5 459.2,433.8 459,430.2 458.8,430.1 458.5,428.4 458.2,429.1 458,428.8 457.8,430.1 457.5,427.6 457.2,422.2 457,422.5 456.8,422 456.5,422.2 456.2,421.1 456,422.6 455.8,423.7 455.5,423.5 455.2,422.8 455,422 454.8,423.1 454.5,424.4 454.2,425.2 454,425.2 453.8,425.3 453.5,423.4 453.2,422.4 453,421.4 452.8,419.4 452.5,417 452.2,415.5 452,413.5 451.8,411.9 451.5,410.1 451.2,408.9 451,407.3 450.8,405 450.5,403.5 450.2,402.3 450,401.1 449.8,399.8 449.5,399.8 449.2,399.8 449,399.8 448.8,399.8 448.5,399.8 448.2,399.8 448,399.8 447.8,399.8 447.5,400 447.2,400.6 447,401.3 446.8,401.7 446.5,402.5 446.2,403 446,403.6 445.8,403.7 445.5,403.8 445.2,403.9 445,404.8 444.8,404.6 444.5,405.2 444.2,405.3 444,406.2 443.8,406.2 443.5,407.3 443.2,407.6 443,408.3 442.8,408 442.5,407.8 442.2,407.9 442,407.8 441.8,407.6 441.5,407.1 441.2,407 441,406.7 440.8,406.2 440.5,405.4 440.2,404.9 440,404.4 439.8,404.1 439.5,403.2 439.2,402 439,401.3 438.8,400.5 438.5,399.9 438.2,399.8 438,399.8 437.8,399.8 437.5,399.8 437.2,399.8 437,399.8 436.8,399.8 436.5,399.8 436.2,399.8 436,399.8 435.8,399.8 435.5,399.8 435.2,399.8 435,399.8 434.8,399.8 434.5,399.8 434.2,399.8 434,399.8 433.8,399.8 433.5,399.8 433.2,399.8 433,399.8 432.8,399.8 432.5,399.8 432.2,399.8 432,399.8 431.8,399.8 431.5,399.8 431.2,399.8 431,399.8 430.8,399.8 430.5,399.8 430.2,399.8 430,399.8 429.8,399.8 429.5,399.8 429.2,399.8 429,399.8 428.8,399.8 428.5,399.8 428.2,399.8 428,399.8 427.8,399.8 427.5,399.8 427.2,399.8 427,399.8 426.8,399.8 426.5,399.8 426.2,399.8 426,399.8 425.8,399.8 425.5,399.8 425.2,400.1 425,400.4 424.8,400.8 424.5,401.3 424.2,401.9 424,402.1 423.8,402.4 423.5,402.8 423.2,403.6 423,404 422.8,404.1 422.5,404.6 422.2,404.4 422,404.5 421.8,405 421.5,405.4 421.2,405.7 421,406.2 420.8,406.5 420.5,407.6 420.2,407.5 420,409.1 419.8,409.9 419.5,410.7 419.2,410.2 419,410.4 418.8,410.5 418.5,410.7 418.2,410.8 418,411.1 417.8,412.8 417.5,412.8 417.2,414.7 417,415.4 416.8,414.6 416.5,414.1 416.2,414.9 416,416.3 415.8,418.3 415.5,418.8 415.2,419.7 415,420.6 414.8,421.7 414.5,422 414.2,424.1 414,424.3 413.8,425.1 413.5,422.6 413.2,423.8 413,423.1 412.8,423.7 412.5,423.3 412.2,422.9 412,423.6 411.8,422.7 411.5,426.7 411.2,429.1 411,431.3 410.8,430.4 410.5,430.9 410.2,431.2 410,429.6 409.8,427.4 409.5,426.7 409.2,426 409,427.4 408.8,427.7 408.5,429.5 408.2,426.9 408,426.2 407.8,425.9 407.5,426 407.2,426.6 407,425.8 406.8,426.2 406.5,425.7 406.2,425 406,422.9 405.8,421.5 405.5,421.1 405.2,421.3 405,419.6 404.8,418.3 404.5,416.4 404.2,416.6 404,414.2 403.8,413.7 403.5,413.6 403.2,413.9 403,413.6 402.8,415.4 402.5,417 402.2,418 402,417.7 401.8,418.1 401.5,418.6 401.2,419.8 401,419.4 400.8,420 400.5,420.5 400.2,421.9 400,424.6 399.8,423.2 399.5,423.7 399.2,422.8 399,422.3 398.8,421.6 398.5,419.4 398.2,417.5 398,415.8 397.8,415.3 397.5,415.7 397.2,415.6 397,416.5 396.8,415.9 396.5,415.6 396.2,414.5 396,414 395.8,413.4 395.5,412.4 395.2,411.5 395,411.5 394.8,410.9 394.5,409.6 394.2,408.1 394,406.7 393.8,405.4 393.5,404.1 393.2,403.1 393,402 392.8,401 392.5,400.1 392.2,399.8 392,399.8 391.8,399.8 391.5,399.8 391.2,399.8 391,399.8 390.8,399.8 390.5,399.8 390.2,399.8 390,400 389.8,400.3 389.5,400.6 389.2,400.9 389,401.3 388.8,401.5 388.5,401.7 388.2,402.2 388,402.6 387.8,403.4 387.5,403.7 387.2,404.2 387,404.4 386.8,404.3 386.5,404.7 386.2,404.6 386,405.1 385.8,405.6 385.5,406.5 385.2,406.1 385,406.6 384.8,406.8 384.5,407.3 384.2,407.8 384,408.4 383.8,408.7 383.5,408.5 383.2,408.8 383,409.2 382.8,409.8 382.5,410 382.2,410.5 382,410.8 381.8,411.2 381.5,412.3 381.2,412.6 381,412.6 380.8,411.6 380.5,411.6 380.2,412.2 380,413.1 379.8,414.3 379.5,414.9 379.2,415.3 379,416.2 378.8,416 378.5,417.2 378.2,419 378,421.8 377.8,423.8 377.5,425.3 377.2,424.4 377,423.6 376.8,423.9 376.5,424.1 376.2,421.6 376,420.6 375.8,419.9 375.5,420.8 375.2,420.3 375,418.7 374.8,416.8 374.5,415.7 374.2,414.9 374,415.6 373.8,415 373.5,416.8 373.2,417.9 373,418.5 372.8,419 372.5,420.5 372.2,419.7 372,422.5 371.8,422.4 371.5,422.2 371.2,423.4 371,425.5 370.8,425.8 370.5,428.7 370.2,428.9 370,430.9 369.8,428.5 369.5,427.2 369.2,425.3 369,422.7 368.8,420.9 368.5,419.7 368.2,420.2 368,421.4 367.8,422.9 367.5,423.6 367.2,423.6 367,423.9 366.8,423.8 366.5,423.5 366.2,422.8 366,424 365.8,424.3 365.5,425.3 365.2,424.1 365,423.3 364.8,423.5 364.5,424.2 364.2,424.2 364,425.9 363.8,427.9 363.5,430.5 363.2,432.1 363,433.2 362.8,434.7 362.5,434.7 362.2,434.5 362,436.1 361.8,436.6 361.5,436.4 361.2,434.4 361,433.2 360.8,434.7 360.5,433.5 360.2,434.4 360,431 359.8,431.1 359.5,430.4 359.2,431 359,432.1 358.8,431.5 358.5,433.4 358.2,433.6 358,435 357.8,435 357.5,434.8 357.2,435.4 357,438.5 356.8,437.7 356.5,434.9 356.2,429.7 356,430.7 355.8,429.2 355.5,430.8 355.2,430.2 355,431.6 354.8,432.5 354.5,432.5 354.2,431.3 354,431.6 353.8,435.6 353.5,437.5 353.2,432.7 353,428.2 352.8,427.7 352.5,427.2 352.2,431.5 352,431.3 351.8,432.1 351.5,427.8 351.2,423.4 351,421.7 350.8,420.6 350.5,418.6 350.2,417.1 350,416.2 349.8,417 349.5,415.3 349.2,416.3 349,415.5 348.8,413.7 348.5,412.6 348.2,411.6 348,409.9 347.8,408.2 347.5,406.3 347.2,405.2 347,403.5 346.8,402.3 346.5,401.2 346.2,400.3 346,399.8 345.8,399.8 345.5,399.8 345.2,399.8 345,399.8 344.8,399.8 344.5,399.8 344.2,399.8 344,399.8 343.8,399.8 343.5,399.8 343.2,399.8 343,399.8 342.8,399.8 342.5,399.8 342.2,399.8 342,399.8 341.8,399.9 341.5,400.3 341.2,400.8 341,401.2 340.8,401.5 340.5,401.8 340.2,401.5 340,401.6 339.8,401.8 339.5,402.1 339.2,402.1 339,402.1 338.8,401.8 338.5,402 338.2,402 338,402.2 337.8,401.8 337.5,401.6 337.2,401.4 337,401.5 336.8,401.6 336.5,401.5 336.2,400.9 336,400.5 335.8,400 335.5,399.8 335.2,399.8 335,399.8 334.8,399.8 334.5,399.8 334.2,399.8 334,399.8 333.8,399.8 333.5,400.8 333.2,401.9 333,402.9 332.8,404.2 332.5,405.3 332.2,406.6 332,407.3 331.8,408.7 331.5,410 331.2,411.8 331,412.3 330.8,413.5 330.5,414.5 330.2,415.6 330,416.5 329.8,417.3 329.5,418.2 329.2,419.9 329,421.8 328.8,423.4 328.5,422.4 328.2,421.7 328,421.2 327.8,422.9 327.5,422.2 327.2,424.7 327,424.5 326.8,426.9 326.5,428.1 326.2,429.2 326,431.5 325.8,434.4 325.5,435.1 325.2,436.9 325,432.2 324.8,436.9 324.5,438.8 324.2,443.4 324,446.8 323.8,451.3 323.5,456.8 323.2,458.4 323,459.6 322.8,457 322.5,454.4 322.2,453.3 322,452.7 321.8,456.5 321.5,453.7 321.2,454.6 321,455 320.8,459.9 320.5,458.2 320.2,457.7 320,459.4 319.8,466 319.5,468.5 319.2,470.1 319,472.1 318.8,473.7 318.5,467.5 318.2,462.8 318,459.7 317.8,464.3 317.5,470 317.2,480.9 317,479.7 316.8,481.1 316.5,480.4 316.2,487.8 316,490.5 315.8,490.5 315.5,490.5 315.2,490.5 315,488.1 314.8,486.8 314.5,490.5 314.2,490.5 314,490.5 313.8,490.5 313.5,490.5 313.2,486.5 313,482.2 312.8,486.2 312.5,486.2 312.2,481.2 312,478.3 311.8,471.4 311.5,466.2 311.2,465.9 311,464.4 310.8,458.4 310.5,457.9 310.2,454.2 310,451.4 309.8,449.2 309.5,450.2 309.2,450.1 309,451 308.8,450 308.5,448.8 308.2,451.3 308,452.3 307.8,455.9 307.5,452.3 307.2,454.9 307,467.3 306.8,474.4 306.5,470.2 306.2,472.9 306,486.1 305.8,490.5 305.5,490.5 305.2,485.9 305,481.3 304.8,471.5 304.5,467.7 304.2,465.7 304,463.1 303.8,461.7 303.5,460.1 303.2,458.9 303,456.7 302.8,456.4 302.5,457.6 302.2,459.1 302,461.3 301.8,454.2 301.5,450.9 301.2,445 301,445.4 300.8,444.4 300.5,446.8 300.2,442.4 300,441.7 299.8,439.5 299.5,439.3 299.2,437.5 299,435.3 298.8,433.6 298.5,432.7 298.2,431.6 298,430.9 297.8,428.5 297.5,426.8 297.2,424.1 297,422 296.8,418.2 296.5,414.8 296.2,411.6 296,409 295.8,406.9 295.5,405.2 295.2,403.7 295,401.7 294.8,400.1 294.5,399.8 294.2,399.8 294,399.8 293.8,399.8 293.5,399.8 293.2,399.8 293,399.8 292.8,399.8 292.5,399.8 292.2,399.8 292,399.8 291.8,399.8 291.5,399.8 291.2,399.8 291,399.8 290.8,399.8 290.5,399.8 290.2,399.8 290,399.8 289.8,399.8 289.5,399.8 289.2,399.8 289,399.8 288.8,399.8 288.5,400.1 288.2,400.5 288,401 287.8,401.3 287.5,401.8 287.2,402.2 287,402.5 286.8,402.5 286.5,402.1 286.2,402.5 286,403.3 285.8,403.5 285.5,403.5 285.2,403.6 285,403.7 284.8,403.9 284.5,403.7 284.2,403.5 284,403.4 283.8,403.6 283.5,403.2 283.2,403.4 283,403.3 282.8,403.8 282.5,404 282.2,403.7 282,403.3 281.8,402.8 281.5,402.9 281.2,403.1 281,403 280.8,403.4 280.5,403.4 280.2,403.6 280,403.3 279.8,403 279.5,402.7 279.2,402.3 279,401.8 278.8,401.9 278.5,401.9 278.2,401.8 278,401.2 277.8,400.7 277.5,400.3 277.2,399.8 277,399.8 276.8,399.8 276.5,399.8 276.2,399.8 276,399.8 275.8,399.8 275.5,399.8 275.2,399.8 275,399.8 274.8,399.8 274.5,399.8 274.2,399.8 274,399.8 273.8,399.8 273.5,399.8 273.2,399.8 273,400.7 272.8,401.5 272.5,402.2 272.2,402.6 272,403.3 271.8,404.1 271.5,405 271.2,405.9 271,407 270.8,407.5 270.5,407.9 270.2,408.6 270,409 269.8,411.1 269.5,411.8 269.2,413.1 269,413 268.8,414.5 268.5,415.4 268.2,416.6 268,416.7 267.8,419 267.5,420.3 267.2,424.3 267,425.3 266.8,428.1 266.5,427.6 266.2,428.3 266,429.4 265.8,428.8 265.5,428.6 265.2,425.1 265,424.5 264.8,427.6 264.5,429.9 264.2,429.6 264,428.4 263.8,430.3 263.5,434.3 263.2,436.7 263,439.9 262.8,441.2 262.5,439.8 262.2,439.5 262,439.5 261.8,441.8 261.5,443.7 261.2,441.2 261,443.2 260.8,442.7 260.5,446 260.2,448.3 260,448.7 259.8,453.5 259.5,452.7 259.2,455.9 259,458.5 258.8,457.4 258.5,455.5 258.2,454.6 258,457.1 257.8,456.3 257.5,455.9 257.2,452.1 257,448.8 256.8,445.3 256.5,445.7 256.2,445.5 256,446.9 255.8,443.8 255.5,449 255.2,452.6 255,447.9 254.8,451.9 254.5,452.5 254.2,458.3 254,461.2 253.8,463.6 253.5,464.3 253.2,461.8 253,460.6 252.8,458.5 252.5,454.8 252.2,455.6 252,454.5 251.8,455.3 251.5,453.6 251.2,456.6 251,459.4 250.8,459.4 250.5,456.2 250.2,453.4 250,452.6 249.8,455.2 249.5,459.8 249.2,460.3 249,458.9 248.8,458.9 248.5,461.2 248.2,467.2 248,465.1 247.8,464 247.5,462.8 247.2,464.6 247,471.1 246.8,466.9 246.5,464.5 246.2,460.9 246,458.7 245.8,458 245.5,455.8 245.2,458.5 245,459 244.8,459.4 244.5,457.6 244.2,458.3 244,457.4 243.8,460.8 243.5,455.2 243.2,457.5 243,453.1 242.8,455.9 242.5,450.7 242.2,450.2 242,444.8 241.8,442.3 241.5,437.6 241.2,439 241,439.8 240.8,439.3 240.5,435.5 240.2,433.3 240,432.8 239.8,429.2 239.5,428 239.2,425.4 239,425.5 238.8,423.8 238.5,420.4 238.2,418.5 238,416.2 237.8,414.5 237.5,411.2 237.2,408.5 237,405.6 236.8,404.2 236.5,402.9 236.2,401.8 236,400.9 235.8,399.8 235.5,399.8 235.2,399.8 235,399.8 234.8,399.9 234.5,400.2 234.2,400.5 234,400.7 233.8,401.1 233.5,401.4 233.2,401.7 233,401.7 232.8,401.9 232.5,402.1 232.2,402.2 232,402.3 231.8,402.4 231.5,402.8 231.2,403.1 231,403.3 230.8,403.6 230.5,404.2 230.2,405.2 230,404.5 229.8,405.3 229.5,405.2 229.2,405.6 229,405.7 228.8,406.4 228.5,406.2 228.2,405.8 228,405.3 227.8,405.5 227.5,405.9 227.2,406.1 227,406.1 226.8,407 226.5,408.1 226.2,408.4 226,408.1 225.8,408 225.5,407.7 225.2,408 225,408.3 224.8,409 224.5,410.1 224.2,410.8 224,411.5 223.8,410.8 223.5,410.7 223.2,411.2 223,412.6 222.8,413.3 222.5,413 222.2,412.7 222,412.7 221.8,412.5 221.5,412.3 221.2,411.8 221,413.5 220.8,413.6 220.5,415.1 220.2,415.1 220,414.4 219.8,413.8 219.5,416.1 219.2,418.4 219,419.8 218.8,419.4 218.5,419.6 218.2,418.3 218,417.7 217.8,419 217.5,419 217.2,420.5 217,420.3 216.8,422.4 216.5,423.7 216.2,425 216,425.1 215.8,425.3 215.5,426.7 215.2,429 215,431 214.8,431.4 214.5,430.3 214.2,431.7 214,431.7 213.8,426.9 213.5,426 213.2,426.6 213,427.7 212.8,427.7 212.5,425.7 212.2,426 212,427.4 211.8,429.9 211.5,429.6 211.2,428.9 211,428.4 210.8,427.4 210.5,426 210.2,426.1 210,426.3 209.8,426.4 209.5,425.6 209.2,424 209,426.3 208.8,425.9 208.5,427.8 208.2,426.4 208,425.5 207.8,424.7 207.5,426.3 207.2,425.7 207,425.6 206.8,425.7 206.5,429 206.2,430.2 206,429.6 205.8,429.9 205.5,431 205.2,431.5 205,431.1 204.8,429.5 204.5,430 204.2,432.3 204,431.1 203.8,430.4 203.5,430 203.2,430.6 203,430.9 202.8,427.9 202.5,427.9 202.2,425 202,424.8 201.8,423.7 201.5,425.7 201.2,423.5 201,423.6 200.8,423 200.5,420.9 200.2,419.6 200,417.9 199.8,417.1 199.5,417.3 199.2,417.6 199,418.9 198.8,417.7 198.5,418.3 198.2,419.9 198,422.1 197.8,423.4 197.5,422.7 197.2,421.4 197,421.8 196.8,423.4 196.5,424.1 196.2,423.3 196,420.6 195.8,417.9 195.5,415 195.2,412.5 195,411.2 194.8,411.1 194.5,410.4 194.2,409.4 194,408.8 193.8,408.7 193.5,407.6 193.2,406.9 193,407.2 192.8,406.9 192.5,406.4 192.2,405.2 192,404.2 191.8,403.2 191.5,402.2 191.2,401.5 191,401.3 190.8,400.9 190.5,400.6 190.2,400.3 190,400 189.8,399.8 189.5,399.8 189.2,399.8 189,399.8 188.8,399.8 188.5,399.8 188.2,399.8 188,399.8 187.8,399.8 187.5,399.8 187.2,399.8 187,399.8 186.8,399.8 186.5,399.8 186.2,399.8 186,399.8 185.8,399.8 185.5,399.8 185.2,399.8 185,399.8 184.8,399.8 184.5,399.8 184.2,399.8 184,399.8 183.8,399.9 183.5,400.3 183.2,400.5 183,401 182.8,401 182.5,401.2 182.2,401.3 182,401.2 181.8,401.3 181.5,401.2 181.2,401.1 181,401.2 180.8,401.2 180.5,401.3 180.2,401.2 180,401.3 179.8,401.3 179.5,401.4 179.2,401.3 179,401.3 178.8,401.1 178.5,401.1 178.2,401 178,401.2 177.8,401.1 177.5,401.1 177.2,400.9 177,400.8 176.8,400.8 176.5,400.5 176.2,400.1 176,399.8 175.8,399.8 175.5,399.8 175.2,399.8 175,399.8 174.8,399.8 174.5,399.8 174.2,399.8 174,400.1 173.8,401 173.5,402 173.2,402.9 173,403.8 172.8,404.6 172.5,405.6 172.2,406.4 172,407.1 171.8,408.1 171.5,409.1 171.2,410.4 171,411.5 170.8,412.9 170.5,413.4 170.2,413.1 170,414.6 169.8,416.4 169.5,419.8 169.2,420.8 169,423.1 168.8,422.6 168.5,425.3 168.2,424.9 168,427.2 167.8,425.5 167.5,425.8 167.2,424.7 167,427.4 166.8,426.7 166.5,428.7 166.2,427.9 166,430.1 165.8,430 165.5,430.2 165.2,431.5 165,428.4 164.8,429.1 164.5,429.1 164.2,428.5 164,430.9 163.8,430.4 163.5,431.3 163.2,429 163,430.8 162.8,432.2 162.5,428.8 162.2,426.4 162,423.9 161.8,422.9 161.5,423.1 161.2,422.7 161,419.6 160.8,416.7 160.5,414.8 160.2,413.6 160,410.9 159.8,408.6 159.5,406.1 159.2,403.5 159,401.1 158.8,399.8 158.5,399.8 158.2,399.8 158,399.8 157.8,399.8 157.5,399.8 157.2,399.8 157,399.8 156.8,400.2 156.5,400.7 156.2,401.1 156,401.8 155.8,402.2 155.5,402.4 155.2,402.5 155,402.9 154.8,403 154.5,403.3 154.2,403.7 154,404.1 153.8,404.6 153.5,405 153.2,405.8 153,405.1 152.8,405.4 152.5,405.8 152.2,406.4 152,406.1 151.8,405.9 151.5,406.5 151.2,407.2 151,407.6 150.8,407.9 150.5,407.6 150.2,407.5 150,407.9 149.8,408.8 149.5,409.5 149.2,409.7 149,410.6 148.8,410.7 148.5,410.2 148.2,409.9 148,409.8 147.8,410.3 147.5,410.9 147.2,412.3 147,411.7 146.8,411.7 146.5,412.1 146.2,413.1 146,414.3 145.8,415 145.5,415.8 145.2,416.9 145,416.8 144.8,417.2 144.5,416.4 144.2,417.6 144,415.9 143.8,416.9 143.5,416.3 143.2,418.8 143,419.9 142.8,420.8 142.5,421.4 142.2,423.3 142,424.2 141.8,426.2 141.5,424.8 141.2,426.9 141,427.5 140.8,428.7 140.5,428.4 140.2,428.4 140,429.1 139.8,430.7 139.5,431.1 139.2,430.8 139,430.6 138.8,431.1 138.5,431.2 138.2,430.5 138,426.3 137.8,425.9 137.5,426.4 137.2,430.1 137,431.3 136.8,434.8 136.5,438.8 136.2,436.8 136,437.2 135.8,437.3 135.5,439.7 135.2,442.8 135,444.2 134.8,437.4 134.5,434.7 134.2,436.4 134,436.8 133.8,439 133.5,438.3 133.2,438.9 133,437 132.8,436.3 132.5,437.4 132.2,437.2 132,435.7 131.8,439.7 131.5,444.8 131.2,442.8 131,440.8 130.8,439.2 130.5,439.3 130.2,440.9 130,444.7 129.8,445.4 129.5,445.6 129.2,445 129,445 128.8,441.8 128.5,439.4 128.2,441.9 128,446 127.8,448.5 127.5,450.1 127.2,453.6 127,455.3 126.8,454.9 126.5,452.3 126.2,453.7 126,450.8 125.8,449.6 125.5,446.3 125.2,447.8 125,444.6 124.8,444 124.5,439.7 124.2,439.6 124,440.1 123.8,440.5 123.5,442.3 123.2,441.5 123,442.8 122.8,443.6 122.5,444.5 122.2,448.3 122,451.5 121.8,451.3 121.5,451.4 121.2,449.8 121,450.7 120.8,449.1 120.5,448.4 120.2,444.5 120,441.4 119.8,439.5 119.5,439.2 119.2,438.8 119,437 118.8,436.9 118.5,437.9 118.2,437.8 118,437.2 117.8,437.9 117.5,439.3 117.2,441.7 117,441.4 116.8,440.3 116.5,441 116.2,439 116,441.8 115.8,441 115.5,443.9 115.2,444.8 115,444 114.8,444.4 114.5,443.8 114.2,445.1 114,443.4 113.8,438.5 113.5,435.3 113.2,434.9 113,436.1 112.8,436.4 112.5,435.9 112.2,434.7 112,434.8 111.8,432.2 111.5,429.3 111.2,427.8 111,429.6 110.8,432.1 110.5,434.8 110.2,436.9 110,432 109.8,433.5 109.5,432.3 109.2,431.1 109,433.2 108.8,440.7 108.5,446.1 108.2,450.3 108,444.2 107.8,440.7 107.5,437.2 107.2,436.9 107,433.1 106.8,427.9 106.5,425.4 106.2,423.7 106,426.2 105.8,424.7 105.5,424.3 105.2,423.6 105,423.4 104.8,425.9 104.5,427.7 104.2,425 104,424.5 103.8,423 103.5,423.4 103.2,424.9 103,426.3 102.8,424.8 102.5,422.4 102.2,421.6 102,421.8 101.8,422.3 101.5,420.2 101.2,419.5 101,417.8 100.8,417.5 100.5,415.8 100.2,414.7 100,413.8 99.8,412.9 99.5,412.9 99.2,411.7 99,410.8 98.8,409 98.5,407.8 98.2,407 98,405.5 97.8,404.8 97.5,403.7 97.2,403.1 97,402 96.8,400.5 96.5,399.8 96.2,399.8 96,399.8 95.8,399.8 95.5,399.8 95.2,399.8 95,399.8 94.8,399.8 94.5,399.8 94.2,399.8 94,399.8 93.8,399.8 93.5,399.8 93.2,399.8 93,399.8 92.8,399.8 92.5,399.8 92.2,399.8 92,399.8 91.8,399.8 91.5,399.8 91.2,399.8 91,399.8 90.8,400.2 90.5,400.9 90.2,401.5 90,402.1 89.8,402.3 89.5,402.8 89.2,402.8 89,402.7 88.8,402.6 88.5,402.9 88.2,403.2 88,403.2 87.8,403.2 87.5,403.1 87.2,402.7 87,402.5 86.8,402.5 86.5,402.5 86.2,402.8 86,402.7 85.8,403 85.5,403 85.2,402.9 85,403 84.8,402.7 84.5,402.6 84.2,402.3 84,402.3 83.8,402 83.5,401.7 83.2,401.1 83,400.8 82.8,400.4 82.5,399.8 82.2,399.8 82,399.8 81.8,399.8 81.5,399.8 81.2,399.8 81,399.8 80.8,399.8 80.5,399.8 80.2,399.8 80,399.8 79.8,399.8 79.5,399.8 79.2,399.8 79,399.8 78.8,399.8 78.5,399.8 78.2,399.8 78,399.8 77.8,399.8 77.5,399.8 77.2,399.8 77,399.8 76.8,399.8 76.5,399.8 76.2,399.8 76,399.8 75.8,399.8 75.5,399.8 75.2,399.8 75,399.8 74.8,399.8 74.5,399.8 74.2,399.8 74,399.8 73.8,399.8 73.5,399.8 73.2,399.8 73,399.8 72.8,399.8 72.5,399.8 72.2,399.8 72,399.8 71.8,399.8 71.5,399.8 71.2,399.8 71,399.8 70.8,399.8 70.5,399.8 70.2,399.8 70,399.8 69.8,399.8 69.5,399.8 69.2,399.8 69,399.8 68.8,399.8 68.5,399.8 68.2,399.8 68,399.8 67.8,399.8 67.5,399.8 67.2,399.8 67,399.8 66.8,399.8 66.5,399.8 66.2,399.8 66,399.8 65.8,399.8 65.5,399.8 65.2,399.8 65,399.8 64.8,399.8 64.5,399.8 64.2,399.8 64,399.8 63.8,399.8 63.5,399.8 63.2,399.8 63,399.8 62.8,399.8 62.5,399.8 62.2,399.8 62,399.8 61.8,399.8 61.5,399.8 61.2,399.8 61,399.8 60.8,399.8 60.5,399.8 60.2,399.8 60,399.8 59.8,399.8 59.5,399.8"/>
<rect x="305" y="306.5" width="2" height="46" fill="#000"/>
<rect x="314.3" y="306.5" width="1" height="46" fill="#000"/>
<rect x="318" y="306.5" width="0.9" height="8" fill="#000"/>
</g>
<line x1="59.5" y1="398.4" x2="778.5" y2="398.4" stroke="#ffe400" stroke-width="3.0" stroke-dasharray="5.6 4.4" stroke-dashoffset="0.4"/>
<text x="52.3" y="311.4" font-size="13.33" text-anchor="end" letter-spacing="-0.3">1</text>
<line x1="59.5" y1="352.5" x2="64.7" y2="352.5" stroke="#000" stroke-width="1" />
<line x1="773.3" y1="352.5" x2="778.5" y2="352.5" stroke="#000" stroke-width="1" />
<text x="52.3" y="357.4" font-size="13.33" text-anchor="end" letter-spacing="-0.1">0.5</text>
<line x1="59.5" y1="398.5" x2="64.7" y2="398.5" stroke="#000" stroke-width="1" />
<line x1="773.3" y1="398.5" x2="778.5" y2="398.5" stroke="#000" stroke-width="1" />
<text x="52.3" y="403.4" font-size="13.33" text-anchor="end" letter-spacing="-0.3">0</text>
<line x1="59.5" y1="444.5" x2="64.7" y2="444.5" stroke="#000" stroke-width="1" />
<line x1="773.3" y1="444.5" x2="778.5" y2="444.5" stroke="#000" stroke-width="1" />
<text x="52.3" y="449.4" font-size="13.33" text-anchor="end" letter-spacing="-0.1">-0.5</text>
<text x="52.3" y="495.4" font-size="13.33" text-anchor="end" letter-spacing="-0.3">-1</text>
<text x="61.8" y="508.9" font-size="13.33" text-anchor="middle" letter-spacing="-0.3">0</text>
<line x1="189.5" y1="490.5" x2="189.5" y2="485.3" stroke="#000" stroke-width="1" />
<line x1="189.5" y1="306.5" x2="189.5" y2="311.7" stroke="#000" stroke-width="1" />
<text x="191.4" y="508.9" font-size="13.33" text-anchor="middle" letter-spacing="-0.3">2</text>
<line x1="318.5" y1="490.5" x2="318.5" y2="485.3" stroke="#000" stroke-width="1" />
<line x1="318.5" y1="306.5" x2="318.5" y2="311.7" stroke="#000" stroke-width="1" />
<text x="321" y="508.9" font-size="13.33" text-anchor="middle" letter-spacing="-0.3">4</text>
<line x1="448.5" y1="490.5" x2="448.5" y2="485.3" stroke="#000" stroke-width="1" />
<line x1="448.5" y1="306.5" x2="448.5" y2="311.7" stroke="#000" stroke-width="1" />
<text x="450.6" y="508.9" font-size="13.33" text-anchor="middle" letter-spacing="-0.3">6</text>
<line x1="577.5" y1="490.5" x2="577.5" y2="485.3" stroke="#000" stroke-width="1" />
<line x1="577.5" y1="306.5" x2="577.5" y2="311.7" stroke="#000" stroke-width="1" />
<text x="580.2" y="508.9" font-size="13.33" text-anchor="middle" letter-spacing="-0.3">8</text>
<line x1="707.5" y1="490.5" x2="707.5" y2="485.3" stroke="#000" stroke-width="1" />
<line x1="707.5" y1="306.5" x2="707.5" y2="311.7" stroke="#000" stroke-width="1" />
<text x="709.8" y="508.9" font-size="13.33" text-anchor="middle" letter-spacing="-0.3">10</text>
<rect x="59.5" y="306.5" width="719.0" height="184.0" fill="none" stroke="#000" stroke-width="1"/>
<text x="418.5" y="528" font-size="10.2" text-anchor="middle" textLength="44.6" lengthAdjust="spacing" >Time[sec]</text>
<text transform="translate(15.8,398.3) rotate(-90)" font-size="10.3" text-anchor="middle" textLength="103" lengthAdjust="spacing">Amplitude[magnitude]</text>
<text x="418.6" y="557.3" font-size="13.33" text-anchor="middle" textLength="196" lengthAdjust="spacing" >Frequency Domain, Ones window</text>
<text x="419.1" y="570.4" font-size="13.33" text-anchor="middle" textLength="505.5" lengthAdjust="spacing" >Peak = -22.0 dB FS at 193 Hz. THD(IEC):49.74%, THD(IEEE):57.34%, THDN:99.74%</text>
<line x1="65.5" y1="614.5" x2="772.5" y2="614.5" stroke="#bababa" stroke-width="1" stroke-dasharray="1 3.44"/>
<line x1="65.5" y1="643.5" x2="772.5" y2="643.5" stroke="#bababa" stroke-width="1" stroke-dasharray="1 3.44"/>
<line x1="65.5" y1="671.5" x2="772.5" y2="671.5" stroke="#bababa" stroke-width="1" stroke-dasharray="1 3.44"/>
<line x1="65.5" y1="700.5" x2="772.5" y2="700.5" stroke="#bababa" stroke-width="1" stroke-dasharray="1 3.44"/>
<line x1="65.5" y1="728.5" x2="772.5" y2="728.5" stroke="#bababa" stroke-width="1" stroke-dasharray="1 3.44"/>
<line x1="100.5" y1="590.5" x2="100.5" y2="752.5" stroke="#bababa" stroke-width="1" stroke-dasharray="1 3.44"/>
<line x1="129.5" y1="590.5" x2="129.5" y2="752.5" stroke="#bababa" stroke-width="1" stroke-dasharray="1 3.44"/>
<line x1="152.5" y1="590.5" x2="152.5" y2="752.5" stroke="#bababa" stroke-width="1" stroke-dasharray="1 3.44"/>
<line x1="170.5" y1="590.5" x2="170.5" y2="752.5" stroke="#bababa" stroke-width="1" stroke-dasharray="1 3.44"/>
<line x1="186.5" y1="590.5" x2="186.5" y2="752.5" stroke="#bababa" stroke-width="1" stroke-dasharray="1 3.44"/>
<line x1="199.5" y1="590.5" x2="199.5" y2="752.5" stroke="#bababa" stroke-width="1" stroke-dasharray="1 3.44"/>
<line x1="211.5" y1="590.5" x2="211.5" y2="752.5" stroke="#bababa" stroke-width="1" stroke-dasharray="1 3.44"/>
<line x1="292.5" y1="590.5" x2="292.5" y2="752.5" stroke="#bababa" stroke-width="1" stroke-dasharray="1 3.44"/>
<line x1="333.5" y1="590.5" x2="333.5" y2="752.5" stroke="#bababa" stroke-width="1" stroke-dasharray="1 3.44"/>
<line x1="363.5" y1="590.5" x2="363.5" y2="752.5" stroke="#bababa" stroke-width="1" stroke-dasharray="1 3.44"/>
<line x1="385.5" y1="590.5" x2="385.5" y2="752.5" stroke="#bababa" stroke-width="1" stroke-dasharray="1 3.44"/>
<line x1="404.5" y1="590.5" x2="404.5" y2="752.5" stroke="#bababa" stroke-width="1" stroke-dasharray="1 3.44"/>
<line x1="419.5" y1="590.5" x2="419.5" y2="752.5" stroke="#bababa" stroke-width="1" stroke-dasharray="1 3.44"/>
<line x1="433.5" y1="590.5" x2="433.5" y2="752.5" stroke="#bababa" stroke-width="1" stroke-dasharray="1 3.44"/>
<line x1="445.5" y1="590.5" x2="445.5" y2="752.5" stroke="#bababa" stroke-width="1" stroke-dasharray="1 3.44"/>
<line x1="526.5" y1="590.5" x2="526.5" y2="752.5" stroke="#bababa" stroke-width="1" stroke-dasharray="1 3.44"/>
<line x1="567.5" y1="590.5" x2="567.5" y2="752.5" stroke="#bababa" stroke-width="1" stroke-dasharray="1 3.44"/>
<line x1="596.5" y1="590.5" x2="596.5" y2="752.5" stroke="#bababa" stroke-width="1" stroke-dasharray="1 3.44"/>
<line x1="619.5" y1="590.5" x2="619.5" y2="752.5" stroke="#bababa" stroke-width="1" stroke-dasharray="1 3.44"/>
<line x1="637.5" y1="590.5" x2="637.5" y2="752.5" stroke="#bababa" stroke-width="1" stroke-dasharray="1 3.44"/>
<line x1="653.5" y1="590.5" x2="653.5" y2="752.5" stroke="#bababa" stroke-width="1" stroke-dasharray="1 3.44"/>
<line x1="666.5" y1="590.5" x2="666.5" y2="752.5" stroke="#bababa" stroke-width="1" stroke-dasharray="1 3.44"/>
<line x1="678.5" y1="590.5" x2="678.5" y2="752.5" stroke="#bababa" stroke-width="1" stroke-dasharray="1 3.44"/>
<line x1="759.5" y1="590.5" x2="759.5" y2="752.5" stroke="#bababa" stroke-width="1" stroke-dasharray="1 3.44"/>
<line x1="222.5" y1="590.5" x2="222.5" y2="752.5" stroke="#bababa" stroke-width="1" stroke-dasharray="1 3.44"/>
<line x1="456.5" y1="590.5" x2="456.5" y2="752.5" stroke="#bababa" stroke-width="1" stroke-dasharray="1 3.44"/>
<line x1="689.5" y1="590.5" x2="689.5" y2="752.5" stroke="#bababa" stroke-width="1" stroke-dasharray="1 3.44"/>
<clipPath id="c3"><rect x="59.5" y="586.5" width="719.0" height="170.0"/></clipPath>
<g clip-path="url(#c3)"><path d="M60.1,674.8 60.6,672.3 61,675.4 61.5,674.6 61.9,683.3 62.4,668.5 62.8,699.4 63.2,669.3 63.7,678.5 64.1,683 64.6,679.4 65,681.7 65.4,675.1 65.8,673.2 66.3,669.7 66.7,681.1 67.1,667.9 67.5,676.5 68,681.5 68.4,676.7 68.8,689.3 69.2,690.9 69.6,675.8 70,678.1 70.4,672.2 70.8,678.9 71.3,676.9 71.7,672.2 72.1,676.4 72.5,694.4 72.9,682.2 73.3,675.7 73.7,677.8 74,673.1 74.4,699.5 74.8,710 75.2,684 75.6,682.3 76,670.7 76.4,674 76.8,667.7 77.2,671.9 77.5,671.3 77.9,686 78.3,682.1 78.7,683.2 79,674.5 79.4,673.7 79.8,684.7 80.2,678 80.5,672.5 80.9,686.8 81.3,686.1 81.6,675.8 82,671.6 82.4,669.1 82.7,675.8 83.1,672.4 83.4,675 83.8,673.8 84.2,683.3 84.5,667.1 84.9,671.3 85.2,672 85.6,691.1 85.9,672.7 86.3,674.4 86.6,674.9 87,677.1 87.3,671.5 87.7,671.6 88,677.2 88.4,680.3 88.7,671.5 89,675.8 89.4,709.5 89.7,684 90.1,681.4 90.4,671.9 90.7,677.1 91.1,693.8 91.4,672 91.7,676.7 92.1,666.7 92.4,673.8 92.7,673.7 93,678.5 93.4,695.2 93.7,665.9 94,679.1 94.3,671.7 94.7,685.5 95,669.6 95.3,696.5 95.6,673.9 95.9,684.6 96.3,680.2 96.6,668.6 96.9,665.6 97.2,673.8 97.5,670.7 97.8,673.4 98.1,679.2 98.4,672.6 98.8,673.3 99.1,681.6 99.4,677.1 99.7,674.2 100,673.6 100.3,687.3 100.6,665.5 100.9,702.8 101.2,672.6 101.5,673.2 101.8,681 102.1,676 102.4,678.8 102.7,695.4 103,675.4 103.3,673.8 103.6,675.1 103.9,669.1 104.2,687 104.5,686 104.8,679.7 105,684.5 105.3,679 105.6,670 105.9,673.5 106.2,677.5 106.5,676.1 106.8,666.1 107.1,679.3 107.3,675.9 107.6,673.2 107.9,675.3 108.2,675.4 108.5,673.6 108.7,683.3 109,678.9 109.3,675.1 109.6,679.2 109.9,672.8 110.1,687.9 110.4,678.9 110.7,681.1 111,675 111.2,679.2 111.5,668.5 111.8,675.7 112.1,669.8 112.3,672.3 112.6,674.5 112.9,674.3 113.1,678.2 113.4,681.6 113.7,682.8 113.9,685.6 114.2,668.2 114.5,673.3 114.7,676.9 115,668.8 115.3,673 115.5,671.4 115.8,667.4 116,681 116.3,674.6 116.6,686.6 116.8,679.8 117.1,702 117.3,682.2 117.6,698.8 117.8,680.6 118.1,671.4 118.4,672.2 118.6,676.4 118.9,681.5 119.1,669.2 119.4,672.2 119.6,667.7 119.9,679.8 120.1,672.6 120.4,692.5 120.6,694.1 120.9,696.9 121.1,693.3 121.4,682.1 121.6,692.5 121.9,674.8 122.1,694.3 122.4,679.1 122.6,682.9 122.8,675.1 123.1,692.4 123.3,676.7 123.6,668.7 123.8,674.3 124.1,680.7 124.3,673 124.5,677.3 124.8,684.8 125,672.2 125.2,687.9 125.5,671.2 125.7,669.5 126,672.9 126.2,678.2 126.4,669 126.7,684.4 126.9,678.1 127.1,673 127.4,675.4 127.6,676.7 127.8,667.7 128.1,678 128.3,684 128.5,678.5 128.8,673.9 129,685.5 129.2,673 129.4,669.2 129.7,675.1 129.9,686.8 130.1,680.2 130.4,677.7 130.6,674.9 130.8,676.6 131,669.9 131.3,673.5 131.5,680.5 131.7,692 131.9,680.9 132.1,681.2 132.4,673 132.6,680.8 132.8,671.6 133,677.1 133.2,676.4 133.5,675.1 133.7,698.4 133.9,677.5 134.1,686.8 134.3,676.4 134.6,673 134.8,678.6 135,681.2 135.2,673.6 135.4,679 135.6,684.6 135.9,682 136.1,681.1 136.3,690.1 136.5,678 136.7,671.6 136.9,680.5 137.1,693.7 137.3,674.1 137.6,683.2 137.8,688.4 138,703.5 138.2,695.3 138.4,679.7 138.6,676.7 138.8,682 139,673.1 139.2,675.6 139.4,679.6 139.6,676.2 139.8,672.7 140.1,680 140.3,677.3 140.5,683.4 140.7,681.1 140.9,667.8 141.1,676.5 141.3,678.2 141.5,671.5 141.7,688.2 141.9,672.9 142.1,671.6 142.3,681.8 142.5,673.4 142.7,671.6 142.9,671 143.1,674.6 143.3,687.9 143.5,686.6 143.7,668.5 143.9,672.3 144.1,667.4 144.3,675.3 144.5,671.9 144.7,690.8 144.9,673.1 145.1,679.5 145.3,677.1 145.5,686.6 145.7,671.6 145.8,677.1 146,678.1 146.2,677.6 146.4,693.2 146.6,669.4 146.8,677.4 147,679.8 147.2,680 147.4,672.4 147.6,678.9 147.8,683.1 148,670 148.1,679.3 148.3,684.5 148.5,674.7 148.7,674.2 148.9,679.8 149.1,682.8 149.3,668.1 149.5,682.4 149.7,681 149.8,671.3 150,681.9 150.2,683.5 150.4,673.8 150.6,679 150.8,677 151,680.3 151.1,673.1 151.3,686.3 151.5,672 151.7,682.3 151.9,680.2 152.1,692 152.2,671 152.4,671.4 152.6,670.1 152.8,679.9 153,682 153.1,669.7 153.3,675.5 153.5,668.3 153.7,674.3 153.9,674.2 154,689.4 154.2,669.2 154.4,676.9 154.6,684.9 154.8,672.5 154.9,676.4 155.1,679.7 155.3,672.1 155.5,679.9 155.6,675.2 155.8,680.9 156,672.8 156.2,669.2 156.4,672.4 156.5,677.9 156.7,669.9 156.9,674.4 157,683 157.2,682 157.4,683.4 157.6,671.6 157.7,663.4 157.9,670.3 158.1,688.4 158.3,673.1 158.4,667.3 158.6,728.7 158.8,689.3 158.9,677.6 159.1,677.5 159.3,680.7 159.5,677.3 159.6,667 159.8,669.4 160,672.4 160.1,666.6 160.3,666.6 160.5,674.1 160.6,672.1 160.8,677.3 161,680.8 161.1,675.5 161.3,688.6 161.5,676.7 161.6,686.6 161.8,678.2 162,676.3 162.1,679.3 162.3,673.1 162.5,679 162.6,678.8 162.8,685.4 163,676.7 163.1,671.5 163.3,671.9 163.4,687.4 163.6,672.9 163.8,674.3 163.9,672.3 164.1,671.4 164.3,675.8 164.4,677.4 164.6,673.4 164.7,675.5 164.9,681.7 165.1,675.3 165.2,680.8 165.4,674.9 165.6,677.7 165.7,680.7 165.9,679.7 166,698.5 166.2,671.7 166.3,677.6 166.5,679.8 166.7,677 166.8,672.9 167,675.4 167.1,678.3 167.3,672.6 167.5,673 167.6,667.5 167.8,683.8 167.9,671.1 168.1,671.6 168.2,669.9 168.4,686.4 168.5,677.1 168.7,681.4 168.9,675.8 169,668.6 169.2,680.6 169.3,672.2 169.5,669 169.6,673.8 169.8,674.7 169.9,669.6 170.1,672.2 170.2,677.3 170.4,672.6 170.5,677.9 170.7,679.3 170.8,675.4 171,673.2 171.1,679 171.3,674.1 171.5,675.5 171.6,676 171.8,669.9 171.9,680.5 172.1,683.7 172.2,670.9 172.4,672.6 172.5,663.1 172.7,671.1 172.8,666.5 172.9,672.5 173.1,686.1 173.2,669.3 173.4,676.5 173.5,672.3 173.7,662.9 173.8,672 174,672.1 174.1,672.9 174.3,665.6 174.4,680.6 174.6,673.9 174.7,678.3 174.9,676.1 175,671.6 175.2,675.5 175.3,669.2 175.4,672 175.6,677.5 175.7,676.5 175.9,677.7 176,674.8 176.2,671.4 176.3,667 176.5,682.4 176.6,671.9 176.7,680.3 176.9,670.3 177,672.9 177.2,677.1 177.3,674.2 177.5,670.1 177.6,678.4 177.7,669.7 177.9,673.6 178,668 178.2,670.2 178.3,672.8 178.4,674.8 178.6,669.3 178.7,668.5 178.9,681.2 179,668.5 179.1,674.9 179.3,671.9 179.4,688 179.6,665.2 179.7,674.3 179.8,671.8 180,668.2 180.1,673.5 180.3,678 180.4,678.7 180.5,670.3 180.7,678.7 180.8,681.5 181,670.7 181.1,683.5 181.2,672.6 181.4,679.9 181.5,690.7 181.6,670.9 181.8,669.4 181.9,672 182,677.6 182.2,686.7 182.3,680.4 182.5,677.1 182.6,670.4 182.7,664.1 182.9,677.1 183,677.3 183.1,677.8 183.3,670.9 183.4,675.3 183.5,678.9 183.7,677 183.8,669.4 183.9,677.8 184.1,673.3 184.2,685.9 184.3,683.2 184.5,682.3 184.6,681.8 184.7,682.8 184.9,673.2 185,689.4 185.1,685.3 185.3,678.8 185.4,674 185.5,700 185.6,675.6 185.8,677.6 185.9,678.7 186,670 186.2,681.2 186.3,675.8 186.4,675.8 186.6,671.1 186.7,670 186.8,675.3 187,667.1 187.1,669.5 187.2,677.3 187.3,695 187.5,669.5 187.6,671.2 187.7,673.9 187.9,687.1 188,674.8 188.1,678.9 188.2,684.5 188.4,675.5 188.5,696 188.6,670.1 188.7,676.1 188.9,678.5 189,679.9 189.1,680 189.3,671.8 189.4,672.7 189.5,677.8 189.6,672.3 189.8,688.9 189.9,675.5 190,676 190.1,673.7 190.3,677.2 190.4,686.9 190.5,680.8 190.6,680.1 190.8,672.5 190.9,680.2 191,681 191.1,671.7 191.3,669.7 191.4,671.8 191.5,681.7 191.6,705 191.8,676.5 191.9,675.2 192.2,684.2 192.2,684.2 192.2,670.5 192.2,678.7 192.6,676.5 192.7,677.3 192.9,677.2 193,683.8 193.1,683.6 193.2,685.7 193.3,682.9 193.5,698.6 193.6,677.2 193.7,681.6 193.8,684.1 194,677.9 194.1,681.3 194.2,688 194.3,678.6 194.4,671.5 194.6,685.7 194.7,672.8 194.8,677.8 194.9,678.7 195,675.7 195.2,670 195.3,672.2 195.4,680.3 195.8,668.8 195.8,668.8 195.8,690.1 195.8,677.1 196.1,681.6 196.2,670.4 196.3,676.7 196.5,672.8 196.6,677.7 196.7,673.9 196.8,676.5 196.9,689.3 197.1,682.6 197.2,683.7 197.3,678.7 197.4,681.6 197.8,682.5 197.8,682.5 197.8,670.6 197.8,670.6 198.1,677.3 198.2,680.3 198.3,679.3 198.4,682.5 198.6,680.3 198.7,669.1 198.8,678.2 198.9,673.3 199.2,680.9 199.2,669.8 199.2,704.2 199.2,704.2 199.6,674.4 199.7,675.3 199.8,669.7 199.9,675.4 200.1,670.8 200.2,664.5 200.3,670.5 200.4,672.3 200.8,662.7 200.8,662.7 200.8,673.8 200.8,672.9 201.1,676.1 201.2,667.4 201.3,666.1 201.4,666.7 201.8,665.6 201.8,666.8 201.8,659.1 201.8,666.4 202.1,668.7 202.2,666.9 202.3,680.3 202.4,668.4 202.8,664.8 202.8,664.3 202.8,668.8 202.8,668.8 203.1,668.3 203.2,671 203.3,666.6 203.4,670.3 203.8,677.5 203.8,661.6 203.8,680.7 203.8,680.7 204.1,662.5 204.2,665 204.3,674 204.4,669.5 204.8,668.8 204.8,677.4 204.8,666.7 204.8,668.5 205.2,664.3 205.2,664.3 205.2,673.5 205.2,668.5 205.6,660.5 205.7,664.3 205.8,672.7 205.9,662.9 206.2,661.8 206.2,652.8 206.2,674.5 206.2,663.1 206.8,654.6 206.8,654.6 206.8,695.2 206.8,660.9 207.1,663.8 207.2,663.1 207.3,669.6 207.4,674.7 207.8,669.3 207.8,678.9 207.8,660.8 207.8,662.4 208.2,663.5 208.2,673.5 208.2,659.9 208.2,659.9 208.8,663.2 208.8,668.4 208.8,661.2 208.8,661.2 209.1,661.3 209.2,653.3 209.3,666.2 209.4,657.6 209.8,659 209.8,662.4 209.8,652.9 209.8,652.9 210.2,663.6 210.2,654.1 210.2,672.5 210.2,655 210.8,656 210.8,656 210.8,674.5 210.8,660.9 211.2,656.9 211.2,651.3 211.2,674.7 211.2,656.8 211.8,672 211.8,672 211.8,653 211.8,653 212.2,656 212.2,656 212.2,646.4 212.2,651.2 212.8,649.6 212.8,649.6 212.8,663.5 212.8,656.7 213.2,656.2 213.2,656.4 213.2,651.1 213.2,651.1 213.8,657.6 213.8,654.3 213.8,668.4 213.8,668.4 214.2,660.9 214.2,667.7 214.2,649 214.2,651.8 214.8,653.7 214.8,655 214.8,651 214.8,651 215.2,648.9 215.2,648.9 215.2,659.9 215.2,656.7 215.8,662.9 215.8,662.9 215.8,642.9 215.8,648.6 216.2,664.5 216.2,664.5 216.2,644.6 216.2,661 216.8,650.2 216.8,661.9 216.8,641.2 216.8,641.2 217.2,659.9 217.2,659.9 217.2,645.1 217.2,651.3 217.8,652.5 217.8,647.2 217.8,660.6 217.8,650.7 218.2,646.6 218.2,646.6 218.2,678 218.2,678 218.8,663.3 218.8,663.7 218.8,645.7 218.8,657.3 219.2,665.4 219.2,665.4 219.2,640.5 219.2,647.4 219.8,663.1 219.8,663.1 219.8,642.6 219.8,652.6 220.2,667.3 220.2,668.6 220.2,654.6 220.2,664.5 220.8,656.9 220.8,656.9 220.8,644 220.8,655.7 221.2,651.1 221.2,641.9 221.2,655.9 221.2,655.9 221.8,654 221.8,640.9 221.8,675.7 221.8,644 222.2,657 222.2,657 222.2,640.9 222.2,642.3 222.8,657.2 222.8,663.4 222.8,645.3 222.8,652.1 223.2,640.1 223.2,640.1 223.2,665.5 223.2,665.5 223.8,653.1 223.8,653.1 223.8,639.9 223.8,646.1 224.2,653.6 224.2,649.1 224.2,670.2 224.2,670.2 224.8,654.4 224.8,642.8 224.8,660.6 224.8,652.8 225.2,643.3 225.2,641.3 225.2,660.5 225.2,645.5 225.8,642.1 225.8,640.3 225.8,650.9 225.8,650.9 226.2,639.2 226.2,639.2 226.2,669.9 226.2,644.4 226.8,640.5 226.8,640.5 226.8,671.2 226.8,650.6 227.2,655.8 227.2,640.5 227.2,657.1 227.2,649.4 227.8,638.9 227.8,638.9 227.8,647.4 227.8,645.6 228.2,644 228.2,639.3 228.2,646.9 228.2,643.8 228.8,647.9 228.8,640 228.8,659.8 228.8,647.3 229.2,665 229.2,665 229.2,644 229.2,646 229.8,644.3 229.8,640.3 229.8,651.1 229.8,651.1 230.2,640.6 230.2,640.6 230.2,657.9 230.2,640.7 230.8,646.9 230.8,651.4 230.8,639.2 230.8,640.3 231.2,654.7 231.2,657.4 231.2,640.2 231.2,640.2 231.8,650.1 231.8,652.7 231.8,638.8 231.8,638.8 232.2,643.3 232.2,651.3 232.2,634 232.2,634 232.8,651.3 232.8,651.3 232.8,640.4 232.8,640.4 233.2,655.8 233.2,635.5 233.2,666.2 233.2,651.5 233.8,652.8 233.8,638.3 233.8,657.9 233.8,640.2 234.2,636.6 234.2,636.6 234.2,645.1 234.2,642.4 234.8,638.3 234.8,638.3 234.8,651.7 234.8,640.4 235.2,639.9 235.2,651.1 235.2,639.4 235.2,646.1 235.8,641.6 235.8,638.2 235.8,643.7 235.8,643.7 236.2,641 236.2,641 236.2,648.1 236.2,648.1 236.8,656.8 236.8,656.8 236.8,638.1 236.8,646.8 237.2,659.7 237.2,659.7 237.2,636.8 237.2,640.9 237.8,645.9 237.8,639.8 237.8,666.8 237.8,643.9 238.2,645.3 238.2,633.8 238.2,659.1 238.2,647.4 238.8,634.2 238.8,634.2 238.8,651.5 238.8,639.8 239.2,639.2 239.2,651.9 239.2,635.8 239.2,641.2 239.8,649.3 239.8,634.1 239.8,658.6 239.8,645.7 240.2,647.6 240.2,631.3 240.2,658.7 240.2,658.7 240.8,645 240.8,633.5 240.8,648.2 240.8,648.2 241.2,637.4 241.2,634.7 241.2,657.5 241.2,638.2 241.8,638.1 241.8,632.2 241.8,643.1 241.8,639.1 242.2,638.3 242.2,631 242.2,646.7 242.2,639.5 242.8,633.9 242.8,633.9 242.8,668.3 242.8,668.3 243.2,653 243.2,653 243.2,637 243.2,639.8 243.8,646 243.8,646.2 243.8,636.7 243.8,636.7 244.2,650.4 244.2,650.4 244.2,634.1 244.2,634.1 244.8,635.9 244.8,635.9 244.8,650.1 244.8,650.1 245.2,634.1 245.2,632.6 245.2,672.6 245.2,672.6 245.8,640.4 245.8,653.4 245.8,631.2 245.8,642.9 246.2,644.5 246.2,649.2 246.2,631.6 246.2,643.6 246.8,645.3 246.8,660.6 246.8,631.9 246.8,631.9 247.2,638 247.2,638 247.2,658.2 247.2,658.2 247.8,635.5 247.8,633.2 247.8,655.8 247.8,636 248.2,641.8 248.2,638 248.2,649.1 248.2,641.7 248.8,634.5 248.8,648.4 248.8,629.2 248.8,629.2 249.2,658.7 249.2,658.7 249.2,634.5 249.2,634.5 249.8,634 249.8,650 249.8,632.8 249.8,645.4 250.2,640.8 250.2,647.6 250.2,631.4 250.2,636.1 250.8,641.9 250.8,658.3 250.8,636.1 250.8,642.5 251.2,635 251.2,631.3 251.2,648.4 251.2,639 251.8,638.4 251.8,652.3 251.8,635.4 251.8,635.4 252.2,644.1 252.2,645.4 252.2,629.2 252.2,629.2 252.8,645.6 252.8,645.6 252.8,632.8 252.8,632.8 253.2,632 253.2,629.3 253.2,649.8 253.2,634.3 253.8,633.1 253.8,629 253.8,642 253.8,642 254.2,632.1 254.2,664.3 254.2,629.1 254.2,646.2 254.8,637.8 254.8,632.5 254.8,652.3 254.8,637.7 255.2,648.6 255.2,648.6 255.2,635.9 255.2,635.9 255.8,643.1 255.8,629.4 255.8,647 255.8,647 256.2,633.3 256.2,631 256.2,647.2 256.2,647.2 256.8,632.3 256.8,656.3 256.8,622.5 256.8,622.5 257.2,632.2 257.2,627.4 257.2,654.2 257.2,654.2 257.8,650.8 257.8,650.8 257.8,630.5 257.8,630.5 258.2,638.9 258.2,627.4 258.2,641.5 258.2,636.5 258.8,641.7 258.8,648.6 258.8,634.6 258.8,634.6 259.2,640.5 259.2,631 259.2,648.1 259.2,637.7 259.8,643.9 259.8,643.9 259.8,629 259.8,643.1 260.2,649.5 260.2,649.5 260.2,629 260.2,644.3 260.8,635.8 260.8,635.8 260.8,651.8 260.8,644.6 261.2,638.7 261.2,631.8 261.2,668.2 261.2,640.5 261.8,644.7 261.8,634.9 261.8,659.5 261.8,651.1 262.2,637 262.2,637 262.2,653.4 262.2,653.4 262.8,641 262.8,652.6 262.8,636.2 262.8,636.2 263.2,645.7 263.2,640.1 263.2,663.1 263.2,663.1 263.8,652.4 263.8,637.5 263.8,654.2 263.8,650.2 264.2,652.1 264.2,656 264.2,640.2 264.2,654 264.8,652.1 264.8,670.4 264.8,639.6 264.8,639.6 265.2,646.4 265.2,655.4 265.2,640 265.2,640 265.8,643.4 265.8,664.2 265.8,642.6 265.8,649.9 266.2,661.8 266.2,639.1 266.2,665.8 266.2,665.8 266.8,650.8 266.8,650.8 266.8,643.2 266.8,645.9 267.2,646.2 267.2,657.9 267.2,641.1 267.2,648.9 267.8,639.6 267.8,639.6 267.8,651.5 267.8,646.9 268.2,649.8 268.2,651.5 268.2,638.1 268.2,639.7 268.8,680.8 268.8,680.8 268.8,637.7 268.8,647.5 269.2,650.7 269.2,642.5 269.2,654.3 269.2,649 269.8,645.7 269.8,659.4 269.8,642.4 269.8,648.5 270.2,650.5 270.2,653.5 270.2,645.4 270.2,651.2 270.8,642.4 270.8,642.4 270.8,663 270.8,655.6 271.2,671.1 271.2,671.1 271.2,641.1 271.2,647.6 271.8,653.4 271.8,656.8 271.8,638.3 271.8,655.8 272.2,647.3 272.2,645.4 272.2,653.9 272.2,646.4 272.8,648.1 272.8,647.7 272.8,669.8 272.8,649.6 273.2,676.6 273.2,676.6 273.2,644.4 273.2,656.6 273.8,655.8 273.8,640.9 273.8,677.8 273.8,660.5 274.2,648.8 274.2,640.4 274.2,662.1 274.2,643.2 274.8,657.9 274.8,649.5 274.8,667 274.8,652.1 275.2,655.6 275.2,667 275.2,647.4 275.2,651.7 275.8,650.5 275.8,644.9 275.8,659 275.8,648.2 276.2,664.1 276.2,664.1 276.2,647.2 276.2,653.7 276.8,653.7 276.8,669 276.8,648.4 276.8,655.2 277.2,650.8 277.2,668.9 277.2,643.3 277.2,657.6 277.8,663.9 277.8,676.2 277.8,646.1 277.8,661 278.2,653.5 278.2,662.7 278.2,646.5 278.2,656.8 278.8,642 278.8,642 278.8,665.8 278.8,652.9 279.2,649.8 279.2,648.3 279.2,677.3 279.2,677.3 279.8,660.6 279.8,644.7 279.8,666.5 279.8,649.2 280.2,654.3 280.2,661.4 280.2,644.9 280.2,644.9 280.8,650 280.8,662.6 280.8,639.7 280.8,643.9 281.2,650.5 281.2,640.4 281.2,660.6 281.2,646.1 281.8,650.2 281.8,662.1 281.8,641.3 281.8,647 282.2,654.6 282.2,654.6 282.2,638.9 282.2,643.9 282.8,647.4 282.8,640 282.8,662.4 282.8,657.4 283.2,641 283.2,654.1 283.2,635.1 283.2,644 283.8,643 283.8,665.9 283.8,631.7 283.8,631.7 284.2,639.5 284.2,636.3 284.2,649.9 284.2,637.2 284.8,644.4 284.8,652.9 284.8,636 284.8,641.6 285.2,634.7 285.2,634.7 285.2,651.2 285.2,637.1 285.8,651.8 285.8,638 285.8,657.6 285.8,652.6 286.2,665.4 286.2,665.4 286.2,636.5 286.2,641.5 286.8,644.3 286.8,647.2 286.8,638.1 286.8,639.4 287.2,649.1 287.2,649.1 287.2,631.7 287.2,631.7 287.8,641.4 287.8,628 287.8,651.6 287.8,638.5 288.2,647 288.2,647 288.2,618.1 288.2,622.1 288.8,618.7 288.8,615 288.8,656.2 288.8,623.6 289.2,638.3 289.2,623.2 289.2,658.8 289.2,639.7 289.8,636.2 289.8,659.4 289.8,631.5 289.8,640.5 290.2,650.7 290.2,657.6 290.2,630.7 290.2,645.8 290.8,652.3 290.8,639.6 290.8,658.9 290.8,643.2 291.2,652.7 291.2,665.2 291.2,638.8 291.2,640.1 291.8,643.4 291.8,639 291.8,670.8 291.8,652.9 292.2,638.5 292.2,659.2 292.2,638.4 292.2,647.3 292.8,641.7 292.8,638.9 292.8,649.4 292.8,648.7 293.2,648.8 293.2,667.4 293.2,634.9 293.2,634.9 293.8,640.9 293.8,662.7 293.8,635.6 293.8,646.6 294.2,667.2 294.2,641.5 294.2,671.4 294.2,658.9 294.8,637 294.8,637 294.8,653.8 294.8,646 295.2,653.5 295.2,671.2 295.2,637.3 295.2,637.3 295.8,649.9 295.8,643.5 295.8,661 295.8,643.6 296.2,650.2 296.2,651.3 296.2,638.1 296.2,646.5 296.8,646.1 296.8,638.3 296.8,661.8 296.8,646.3 297.2,648 297.2,665 297.2,639.9 297.2,642.9 297.8,636.7 297.8,636.7 297.8,664.7 297.8,653.7 298.2,647.4 298.2,640.9 298.2,670.7 298.2,649.9 298.8,651.2 298.8,667.1 298.8,636.4 298.8,636.4 299.2,654.9 299.2,663.9 299.2,643.5 299.2,651.1 299.8,655.8 299.8,640.7 299.8,674.9 299.8,651.2 300.2,653.5 300.2,640 300.2,655.4 300.2,646.5 300.8,661 300.8,661 300.8,642.4 300.8,643.9 301.2,653.4 301.2,638.7 301.2,661 301.2,645.7 301.8,680.1 301.8,680.1 301.8,640.7 301.8,656.8 302.2,645.3 302.2,642.7 302.2,655.7 302.2,655.7 302.8,665.7 302.8,665.7 302.8,641.3 302.8,645.2 303.2,647.9 303.2,669.5 303.2,645.3 303.2,647.5 303.8,655 303.8,641.4 303.8,677.1 303.8,647 304.2,652.6 304.2,637.9 304.2,665.4 304.2,657.5 304.8,650.6 304.8,644.5 304.8,657.2 304.8,646.2 305.2,642 305.2,642 305.2,670.5 305.2,649.6 305.8,640 305.8,640 305.8,661.2 305.8,661.2 306.2,638.3 306.2,637.4 306.2,654.1 306.2,643.2 306.8,640.6 306.8,655.3 306.8,636.7 306.8,641.3 307.2,649.3 307.2,660.4 307.2,636.6 307.2,636.6 307.8,653.2 307.8,638.4 307.8,653.3 307.8,648.5 308.2,640.6 308.2,650 308.2,639.5 308.2,643.3 308.8,637.9 308.8,637.9 308.8,657.3 308.8,644.3 309.2,644.1 309.2,661 309.2,632.4 309.2,639.7 309.8,643.8 309.8,658.7 309.8,639.2 309.8,646.5 310.2,647.3 310.2,669.9 310.2,638 310.2,644.2 310.8,641.3 310.8,652 310.8,636.2 310.8,638.4 311.2,637.3 311.2,659 311.2,634.1 311.2,644.2 311.8,652.2 311.8,682.5 311.8,644.3 311.8,645.9 312.2,639.5 312.2,639 312.2,656.4 312.2,650.9 312.8,642.4 312.8,655.6 312.8,633.8 312.8,646.6 313.2,645.9 313.2,634.5 313.2,650 313.2,645.5 313.8,651.6 313.8,654.1 313.8,638.3 313.8,638.3 314.2,657.8 314.2,657.8 314.2,637 314.2,638.8 314.8,643.3 314.8,637.7 314.8,664.2 314.8,642.5 315.2,666.4 315.2,636.8 315.2,677.9 315.2,647.9 315.8,644.6 315.8,661.9 315.8,637.2 315.8,641.4 316.2,654.1 316.2,641.4 316.2,659.6 316.2,643.6 316.8,649.7 316.8,668.1 316.8,638.4 316.8,638.4 317.2,650.4 317.2,635.6 317.2,659.4 317.2,644 317.8,644.1 317.8,646.7 317.8,632.7 317.8,643.2 318.2,647 318.2,651.1 318.2,633.3 318.2,636.3 318.8,646.4 318.8,632.9 318.8,666.1 318.8,635.6 319.2,641.5 319.2,665.6 319.2,637 319.2,641.8 319.8,642.7 319.8,655.9 319.8,631.8 319.8,636.1 320.2,640.7 320.2,631.8 320.2,667.7 320.2,660.8 320.8,646.1 320.8,667.9 320.8,631.8 320.8,631.8 321.2,648.6 321.2,626.8 321.2,653.1 321.2,639.9 321.8,636.4 321.8,636.4 321.8,658.6 321.8,640.2 322.2,640.6 322.2,633.3 322.2,653.7 322.2,653.7 322.8,655.1 322.8,638.9 322.8,658.5 322.8,646.9 323.2,642.1 323.2,660.2 323.2,632.4 323.2,655.5 323.8,639.1 323.8,632.7 323.8,661 323.8,644 324.2,642.5 324.2,633.9 324.2,653 324.2,637.2 324.8,643.8 324.8,633.8 324.8,651.9 324.8,641.7 325.2,656 325.2,638.4 325.2,668.1 325.2,644.4 325.8,635.2 325.8,634.8 325.8,659.4 325.8,645.9 326.2,631.8 326.2,666.8 326.2,630.9 326.2,642.8 326.8,645.6 326.8,660.9 326.8,628.3 326.8,628.3 327.2,643.7 327.2,626.7 327.2,662.1 327.2,642.1 327.8,632.5 327.8,622.7 327.8,653.2 327.8,648.2 328.2,645.1 328.2,628.3 328.2,657.6 328.2,645.6 328.8,644 328.8,625.6 328.8,654 328.8,636.6 329.2,645.1 329.2,653.7 329.2,630.1 329.2,635.4 329.8,640.8 329.8,633.7 329.8,659.9 329.8,659.9 330.2,665.1 330.2,638.8 330.2,674.4 330.2,674.4 330.8,643.4 330.8,660.1 330.8,641.9 330.8,642.6 331.2,661 331.2,671.6 331.2,639.5 331.2,639.5 331.8,654.1 331.8,655.6 331.8,640.5 331.8,649.9 332.2,641.1 332.2,658.9 332.2,638 332.2,655 332.8,641.1 332.8,659.6 332.8,638.6 332.8,648.3 333.2,641.2 333.2,631 333.2,656.4 333.2,644.6 333.8,667.6 333.8,667.6 333.8,638 333.8,667.4 334.2,648.6 334.2,641.1 334.2,682.2 334.2,641.8 334.8,640.4 334.8,673.5 334.8,635.7 334.8,635.7 335.2,649.2 335.2,639 335.2,668.1 335.2,649.3 335.8,657.7 335.8,680.1 335.8,638.7 335.8,648.8 336.2,644.8 336.2,639.9 336.2,662.8 336.2,641.9 336.8,658.1 336.8,666.1 336.8,640.3 336.8,647.1 337.2,650.3 337.2,657 337.2,636.6 337.2,641 337.8,653.9 337.8,662.6 337.8,639 337.8,655.6 338.2,662.3 338.2,662.3 338.2,639.4 338.2,640.9 338.8,647.3 338.8,634.9 338.8,681.9 338.8,638.4 339.2,653.1 339.2,677.5 339.2,636.8 339.2,651.2 339.8,646.7 339.8,637.4 339.8,670.3 339.8,646.7 340.2,645.7 340.2,672 340.2,639.1 340.2,639.7 340.8,654.1 340.8,676.2 340.8,639.3 340.8,656.7 341.2,654.7 341.2,660.2 341.2,641.9 341.2,650.7 341.8,647.7 341.8,637.2 341.8,664.4 341.8,659.7 342.2,655.4 342.2,638.6 342.2,668.2 342.2,668.2 342.8,642.3 342.8,669.2 342.8,637.6 342.8,648.8 343.2,643 343.2,663 343.2,636.7 343.2,651 343.8,655.1 343.8,637.3 343.8,656.5 343.8,651.8 344.2,647.6 344.2,660.8 344.2,637.9 344.2,644.2 344.8,656.2 344.8,659.8 344.8,636.4 344.8,636.4 345.2,648.2 345.2,641.1 345.2,656 345.2,646 345.8,643.8 345.8,668.6 345.8,640.7 345.8,651.5 346.2,647 346.2,653.9 346.2,639.1 346.2,652.3 346.8,641 346.8,635.9 346.8,656.7 346.8,645.1 347.2,649.7 347.2,635.2 347.2,665.6 347.2,649.9 347.8,648.4 347.8,672.4 347.8,635.3 347.8,641.7 348.2,645.3 348.2,638.4 348.2,658.4 348.2,642 348.8,645 348.8,657.2 348.8,636.6 348.8,636.6 349.2,653.6 349.2,638.1 349.2,668.6 349.2,651.8 349.8,648 349.8,637.9 349.8,659.2 349.8,645.3 350.2,636 350.2,636 350.2,649 350.2,647.4 350.8,641.8 350.8,635 350.8,670.7 350.8,643.9 351.2,654.9 351.2,639.4 351.2,670.5 351.2,646.5 351.8,653.8 351.8,638.8 351.8,669.2 351.8,644 352.2,641.1 352.2,637.3 352.2,672 352.2,641.9 352.8,646.8 352.8,672.6 352.8,633.3 352.8,652.3 353.2,642.5 353.2,660.9 353.2,633.4 353.2,633.4 353.8,648.5 353.8,651.9 353.8,633 353.8,649.7 354.2,656.2 354.2,656.2 354.2,630.7 354.2,638 354.8,642.1 354.8,654.4 354.8,629.2 354.8,652.7 355.2,645.5 355.2,633.1 355.2,652.7 355.2,641.7 355.8,644.7 355.8,632.2 355.8,676.9 355.8,636 356.2,640.9 356.2,631.5 356.2,663.3 356.2,644.3 356.8,639.9 356.8,632.3 356.8,661.9 356.8,647.3 357.2,642.6 357.2,658.1 357.2,630 357.2,636.1 357.8,639.5 357.8,657.3 357.8,627.3 357.8,649.1 358.2,645.2 358.2,677.8 358.2,624.9 358.2,624.9 358.8,634.1 358.8,653.9 358.8,622.1 358.8,637.3 359.2,642.6 359.2,621.2 359.2,661.8 359.2,637.2 359.8,643.6 359.8,662.6 359.8,620.6 359.8,620.6 360.2,662 360.2,631.6 360.2,679.6 360.2,638.3 360.8,643 360.8,632.3 360.8,652.2 360.8,647.1 361.2,656.2 361.2,633 361.2,658.2 361.2,636.7 361.8,656 361.8,634.2 361.8,658.6 361.8,644.7 362.2,647.1 362.2,652.1 362.2,634.4 362.2,646.2 362.8,644.9 362.8,634.1 362.8,677.6 362.8,650.9 363.2,640 363.2,633.6 363.2,657.1 363.2,646.9 363.8,656.3 363.8,663.6 363.8,632.3 363.8,647.1 364.2,641.9 364.2,662.6 364.2,635.3 364.2,635.3 364.8,649.3 364.8,672 364.8,633.9 364.8,647.6 365.2,650 365.2,633.5 365.2,658.1 365.2,638.9 365.8,647.2 365.8,676.4 365.8,632.7 365.8,643.1 366.2,650.2 366.2,654.6 366.2,630.2 366.2,640.1 366.8,639.5 366.8,629.3 366.8,668.8 366.8,644.7 367.2,633.4 367.2,628.4 367.2,656.8 367.2,642.6 367.8,643.2 367.8,669.6 367.8,630.5 367.8,636.6 368.2,640.2 368.2,626.2 368.2,654.8 368.2,654.8 368.8,651.2 368.8,631.3 368.8,657.8 368.8,641.8 369.2,648 369.2,657.3 369.2,625.6 369.2,630.2 369.8,641.7 369.8,652.1 369.8,629.9 369.8,642.8 370.2,641.8 370.2,657.3 370.2,630.3 370.2,646 370.8,649.4 370.8,631.9 370.8,663.7 370.8,633.2 371.2,645.1 371.2,631.5 371.2,670.7 371.2,640.4 371.8,637.4 371.8,630.3 371.8,648.6 371.8,638.7 372.2,638.4 372.2,667 372.2,634 372.2,637.1 372.8,636.4 372.8,631 372.8,658.6 372.8,646.3 373.2,641.7 373.2,636.9 373.2,664.3 373.2,664.3 373.8,642.4 373.8,639.1 373.8,678.1 373.8,643.1 374.2,643.5 374.2,659.8 374.2,635.2 374.2,643.8 374.8,638.1 374.8,638.1 374.8,675.3 374.8,649.1 375.2,646.5 375.2,636 375.2,680.8 375.2,664.4 375.8,647.1 375.8,660 375.8,640.3 375.8,650.9 376.2,652.8 376.2,664.5 376.2,639.1 376.2,658.3 376.8,651.6 376.8,663.6 376.8,632.2 376.8,638.8 377.2,668.1 377.2,668.1 377.2,637.9 377.2,648.8 377.8,639.3 377.8,637.5 377.8,687.3 377.8,653 378.2,658.2 378.2,669.6 378.2,639.2 378.2,652.9 378.8,663.5 378.8,677.3 378.8,643 378.8,649.4 379.2,647.8 379.2,670.3 379.2,638.2 379.2,643.9 379.8,643.9 379.8,675.3 379.8,642.3 379.8,652 380.2,653.9 380.2,637.5 380.2,678.2 380.2,664.4 380.8,645.9 380.8,683.8 380.8,639.1 380.8,656 381.2,657.5 381.2,637.4 381.2,664.6 381.2,643.5 381.8,658 381.8,661.4 381.8,640.2 381.8,647.4 382.2,641.5 382.2,654.7 382.2,638.6 382.2,649.7 382.8,652.1 382.8,641.9 382.8,688.5 382.8,655.9 383.2,643.9 383.2,675.7 383.2,640.8 383.2,647.1 383.8,675.3 383.8,675.3 383.8,640.6 383.8,653.5 384.2,649.1 384.2,641.6 384.2,664.7 384.2,652.8 384.8,649.6 384.8,637.7 384.8,671.7 384.8,667.2 385.2,644.7 385.2,642 385.2,670.3 385.2,648.8 385.8,644.1 385.8,639.1 385.8,674.5 385.8,652.7 386.2,644.8 386.2,637.8 386.2,667.4 386.2,651.2 386.8,648.1 386.8,638.1 386.8,663.1 386.8,643.3 387.2,659.7 387.2,637.4 387.2,678.1 387.2,649.9 387.8,652.7 387.8,636.6 387.8,674.4 387.8,642.7 388.2,652.4 388.2,675.1 388.2,637.1 388.2,645.3 388.8,648.4 388.8,676.8 388.8,639.1 388.8,646.7 389.2,641.3 389.2,659.2 389.2,636.9 389.2,638.9 389.8,670.7 389.8,680.9 389.8,637 389.8,660.6 390.2,653.3 390.2,679.8 390.2,637.1 390.2,641.6 390.8,656.8 390.8,668 390.8,637.6 390.8,640.3 391.2,638.5 391.2,635.6 391.2,669.4 391.2,651.3 391.8,641.3 391.8,635 391.8,665.8 391.8,643 392.2,646.7 392.2,634.7 392.2,657.8 392.2,642.8 392.8,651.3 392.8,674.1 392.8,637.2 392.8,640.5 393.2,648.3 393.2,674 393.2,637.7 393.2,656.8 393.8,660.9 393.8,676.2 393.8,633.8 393.8,636.6 394.2,650.2 394.2,656.7 394.2,637 394.2,652.3 394.8,642.4 394.8,636 394.8,655.9 394.8,642 395.2,640.9 395.2,663.5 395.2,637 395.2,649.6 395.8,651.8 395.8,635 395.8,663.9 395.8,638.4 396.2,671.2 396.2,635.4 396.2,671.9 396.2,657.1 396.8,643.7 396.8,661.6 396.8,635.3 396.8,635.5 397.2,636.9 397.2,630.9 397.2,659 397.2,646.6 397.8,639.6 397.8,664.3 397.8,635.3 397.8,659 398.2,652.4 398.2,632.2 398.2,659.1 398.2,645.8 398.8,635.9 398.8,627.8 398.8,670.2 398.8,670.2 399.2,649.2 399.2,683.9 399.2,625.6 399.2,638.7 399.8,646.4 399.8,627.6 399.8,658 399.8,633.6 400.2,656.1 400.2,682.8 400.2,632.2 400.2,639.3 400.8,632.1 400.8,632.1 400.8,676.1 400.8,647 401.2,651.9 401.2,681.2 401.2,637.3 401.2,669.7 401.8,645.6 401.8,640.7 401.8,666.5 401.8,645.4 402.2,654.3 402.2,639 402.2,670.9 402.2,655.3 402.8,647.4 402.8,641.1 402.8,666.6 402.8,654.8 403.2,647.3 403.2,673.7 403.2,643.4 403.2,643.8 403.8,654.1 403.8,642 403.8,667.1 403.8,643.5 404.2,652.4 404.2,640 404.2,673.3 404.2,654.6 404.8,647 404.8,640.3 404.8,669.8 404.8,658.8 405.2,651.3 405.2,642.8 405.2,669.6 405.2,655.5 405.8,651.2 405.8,671.7 405.8,643.2 405.8,664.6 406.2,658.9 406.2,682.6 406.2,645.5 406.2,656.5 406.8,650.9 406.8,644.8 406.8,695.2 406.8,654.1 407.2,653.8 407.2,644.6 407.2,678.6 407.2,665.5 407.8,650.9 407.8,643.2 407.8,683.9 407.8,663.6 408.2,658 408.2,674.1 408.2,648 408.2,649.5 408.8,649.6 408.8,646.7 408.8,670.8 408.8,656.4 409.2,649.7 409.2,643.2 409.2,676.9 409.2,661.3 409.8,653.5 409.8,648 409.8,674.6 409.8,667.9 410.2,658.9 410.2,673.3 410.2,642.2 410.2,671.5 410.8,647.9 410.8,665.6 410.8,646.3 410.8,647 411.2,667.6 411.2,644.7 411.2,670.1 411.2,661.7 411.8,646.2 411.8,643.4 411.8,689.6 411.8,658.5 412.2,647.9 412.2,647.9 412.2,677.9 412.2,663.4 412.8,654.7 412.8,675.6 412.8,641.5 412.8,653.3 413.2,656 413.2,642 413.2,676.8 413.2,650.9 413.8,653.7 413.8,644.3 413.8,672.1 413.8,651.2 414.2,654.7 414.2,644.8 414.2,663.6 414.2,656.1 414.8,659.9 414.8,688.4 414.8,646.5 414.8,649.7 415.2,647.6 415.2,678.7 415.2,642.1 415.2,646.9 415.8,658 415.8,679 415.8,644.3 415.8,674.1 416.2,670.4 416.2,682.1 416.2,641.6 416.2,674.1 416.8,654.1 416.8,645.9 416.8,680.2 416.8,666.4 417.2,649.8 417.2,684.5 417.2,643.5 417.2,654.2 417.8,656 417.8,642.8 417.8,670.9 417.8,654.2 418.2,650.4 418.2,670.1 418.2,641.2 418.2,654.7 418.8,656.2 418.8,678.3 418.8,642.8 418.8,658.6 419.2,653.8 419.2,641.6 419.2,680.3 419.2,647.1 419.8,650.8 419.8,672.2 419.8,642.6 419.8,663.4 420.2,645 420.2,641.6 420.2,685.5 420.2,666.7 420.8,652.2 420.8,637 420.8,675.4 420.8,660.5 421.2,663.3 421.2,678.7 421.2,643.6 421.2,651.7 421.8,647.7 421.8,675.4 421.8,645.6 421.8,656.9 422.2,657 422.2,641.3 422.2,675.3 422.2,647.9 422.8,651.4 422.8,676 422.8,643.7 422.8,652.6 423.2,644.7 423.2,639.5 423.2,684.9 423.2,654.9 423.8,683.6 423.8,683.6 423.8,643.5 423.8,649.1 424.2,646.9 424.2,643.9 424.2,682.6 424.2,655.7 424.8,660 424.8,674.2 424.8,640.2 424.8,673.8 425.2,650.1 425.2,669 425.2,642.4 425.2,642.4 425.8,657.5 425.8,703.7 425.8,641.4 425.8,649.9 426.2,650.4 426.2,640.7 426.2,684.5 426.2,663.6 426.8,654.9 426.8,641.3 426.8,683.6 426.8,671.5 427.2,657.2 427.2,646.8 427.2,676.7 427.2,660.2 427.8,658.5 427.8,643.5 427.8,682.5 427.8,657.4 428.2,674.7 428.2,643.1 428.2,681 428.2,664 428.8,639.8 428.8,639.8 428.8,669.3 428.8,654.9 429.2,702.5 429.2,702.5 429.2,638.9 429.2,655.8 429.8,646.7 429.8,673 429.8,631.1 429.8,664 430.2,647.8 430.2,630.8 430.2,680.8 430.2,666.3 430.8,665.7 430.8,683.6 430.8,642.7 430.8,645 431.2,652.4 431.2,692.3 431.2,645.4 431.2,662.9 431.8,649.2 431.8,682.4 431.8,642.2 431.8,642.2 432.2,650.6 432.2,675.4 432.2,642.6 432.2,653.6 432.8,673 432.8,641.6 432.8,683.6 432.8,655.8 433.2,647.7 433.2,672.2 433.2,644.4 433.2,660.7 433.8,656.7 433.8,646.8 433.8,681.4 433.8,653.1 434.2,657 434.2,686 434.2,643.6 434.2,649.1 434.8,664.4 434.8,684.8 434.8,644 434.8,652 435.2,645.3 435.2,645 435.2,682.8 435.2,652.4 435.8,660 435.8,643.7 435.8,675.1 435.8,675.1 436.2,661 436.2,645.7 436.2,672.7 436.2,661.8 436.8,646.9 436.8,688.6 436.8,644.1 436.8,649.4 437.2,649.4 437.2,646.1 437.2,673.5 437.2,666.6 437.8,659.1 437.8,676.6 437.8,642.9 437.8,669.5 438.2,655.3 438.2,698.6 438.2,645.9 438.2,648.3 438.8,646.1 438.8,675.5 438.8,643.8 438.8,666.4 439.2,664.6 439.2,643 439.2,676.9 439.2,660.7 439.8,662.3 439.8,696.9 439.8,635.7 439.8,649.4 440.2,648.7 440.2,690.7 440.2,638.5 440.2,651.7 440.8,644 440.8,639.5 440.8,677.9 440.8,665.4 441.2,665.2 441.2,644.5 441.2,681.7 441.2,656.9 441.8,654.5 441.8,645.3 441.8,685.5 441.8,670.9 442.2,670.6 442.2,646.8 442.2,700.5 442.2,666.8 442.8,663.1 442.8,677.2 442.8,647.6 442.8,650.7 443.2,656.8 443.2,646.7 443.2,681.4 443.2,681.4 443.8,660.5 443.8,679.1 443.8,646 443.8,651.6 444.2,663.9 444.2,644.8 444.2,677.5 444.2,651.3 444.8,653.5 444.8,681.9 444.8,638.5 444.8,652.8 445.2,647.7 445.2,643.2 445.2,675.3 445.2,649.5 445.8,653.2 445.8,644 445.8,697 445.8,676.1 446.2,660.9 446.2,691 446.2,642.1 446.2,675.6 446.8,653.5 446.8,646.6 446.8,678.8 446.8,658.7 447.2,673.6 447.2,643.7 447.2,682.8 447.2,664.7 447.8,655.4 447.8,643.6 447.8,670.8 447.8,670.8 448.2,663.7 448.2,680.6 448.2,645.9 448.2,661.7 448.8,652.7 448.8,644.3 448.8,683 448.8,668.4 449.2,655.6 449.2,691 449.2,644.9 449.2,683.4 449.8,656.7 449.8,694.3 449.8,642.7 449.8,652.6 450.2,659.1 450.2,677 450.2,643.4 450.2,651.5 450.8,650.5 450.8,650 450.8,671.8 450.8,671.8 451.2,660.6 451.2,686 451.2,642.7 451.2,649.3 451.8,643 451.8,680.7 451.8,637.2 451.8,661.6 452.2,659.2 452.2,637.9 452.2,672.2 452.2,642.3 452.8,657.2 452.8,678.4 452.8,643.8 452.8,651.6 453.2,648.4 453.2,673.2 453.2,642.4 453.2,648 453.8,658.9 453.8,688.2 453.8,646.4 453.8,655 454.2,676.1 454.2,648.5 454.2,694.6 454.2,666.4 454.8,670.3 454.8,647.8 454.8,705.8 454.8,659.9 455.2,656.1 455.2,674.5 455.2,645.8 455.2,653.8 455.8,658.6 455.8,641.5 455.8,690.2 455.8,654 456.2,653.9 456.2,649 456.2,695.3 456.2,655.7 456.8,652.8 456.8,682.6 456.8,645.5 456.8,674.2 457.2,655.6 457.2,649.9 457.2,689.7 457.2,674 457.8,667.1 457.8,649.6 457.8,683.5 457.8,677.7 458.2,669.5 458.2,695.4 458.2,645.2 458.2,655.3 458.8,670.9 458.8,673 458.8,648.2 458.8,663.8 459.2,657.1 459.2,646.8 459.2,683.8 459.2,663.7 459.8,652.9 459.8,649.9 459.8,686 459.8,654.8 460.2,652.4 460.2,643.4 460.2,689.1 460.2,675 460.8,668.6 460.8,645.5 460.8,683.8 460.8,651.4 461.2,652 461.2,644.5 461.2,682.2 461.2,660 461.8,657.4 461.8,695.9 461.8,646.1 461.8,668.5 462.2,652.7 462.2,646.6 462.2,689.5 462.2,666.9 462.8,658.5 462.8,645.6 462.8,686.1 462.8,657.3 463.2,677.1 463.2,677.1 463.2,645.3 463.2,654.1 463.8,658.6 463.8,642.2 463.8,705.3 463.8,651.4 464.2,675.8 464.2,681.7 464.2,646.6 464.2,649.7 464.8,689.1 464.8,689.1 464.8,646.4 464.8,659.1 465.2,656.1 465.2,646.8 465.2,697.3 465.2,664.5 465.8,662.8 465.8,705.5 465.8,645.6 465.8,645.6 466.2,660.1 466.2,646.7 466.2,684.7 466.2,670.1 466.8,661.2 466.8,692.6 466.8,642.3 466.8,662.7 467.2,661 467.2,647.7 467.2,678.7 467.2,665.6 467.8,655.7 467.8,700.2 467.8,646.2 467.8,659.1 468.2,652.1 468.2,689.6 468.2,647.1 468.2,654.4 468.8,665.8 468.8,686.7 468.8,645.6 468.8,652.3 469.2,649.9 469.2,676 469.2,642 469.2,653.5 469.8,668.5 469.8,678.5 469.8,638.8 469.8,659 470.2,651.2 470.2,638 470.2,679.4 470.2,661.9 470.8,660.9 470.8,641.4 470.8,686.8 470.8,646.3 471.2,655 471.2,648.4 471.2,681 471.2,662.1 471.8,657 471.8,688 471.8,644.7 471.8,657.1 472.2,659.8 472.2,649.2 472.2,677 472.2,657.6 472.8,678.4 472.8,685.5 472.8,649.5 472.8,662.8 473.2,661 473.2,693.6 473.2,648.1 473.2,658.4 473.8,662 473.8,682.5 473.8,647.3 473.8,681.5 474.2,655.9 474.2,697.9 474.2,648.2 474.2,649 474.8,656.2 474.8,707.9 474.8,649.8 474.8,662 475.2,657.4 475.2,681.5 475.2,646.9 475.2,654.7 475.8,669.1 475.8,646.8 475.8,691.6 475.8,666.9 476.2,674.5 476.2,648.7 476.2,690.5 476.2,668.4 476.8,652 476.8,689.9 476.8,649.1 476.8,673.1 477.2,657 477.2,647.1 477.2,717.7 477.2,672.3 477.8,657.5 477.8,646.6 477.8,697 477.8,665.9 478.2,665.2 478.2,650 478.2,699.1 478.2,669 478.8,657.1 478.8,647.3 478.8,682.2 478.8,665.1 479.2,678.1 479.2,678.8 479.2,642.6 479.2,651.5 479.8,671.7 479.8,645.4 479.8,691.1 479.8,649 480.2,654.2 480.2,686.3 480.2,647.9 480.2,659.9 480.8,654.9 480.8,691.9 480.8,648.3 480.8,658.6 481.2,656.8 481.2,690.7 481.2,649.2 481.2,661.2 481.8,659.7 481.8,645.6 481.8,675.2 481.8,651 482.2,649.8 482.2,679.5 482.2,648.7 482.2,669.4 482.8,652.5 482.8,702.4 482.8,647.2 482.8,647.2 483.2,662.7 483.2,648.1 483.2,685.9 483.2,674.8 483.8,676.1 483.8,680.2 483.8,646.7 483.8,651.3 484.2,708.5 484.2,708.5 484.2,647.9 484.2,659.3 484.8,682.2 484.8,649.7 484.8,691.2 484.8,660.7 485.2,667.7 485.2,704.6 485.2,646.7 485.2,657.4 485.8,656.3 485.8,644.5 485.8,682.5 485.8,661.6 486.2,663.4 486.2,646.2 486.2,690.2 486.2,659.8 486.8,651.7 486.8,646.2 486.8,691.9 486.8,691.9 487.2,679.5 487.2,691.6 487.2,646.1 487.2,678.5 487.8,686.4 487.8,686.4 487.8,644.6 487.8,651.4 488.2,660.7 488.2,698 488.2,649.2 488.2,667.2 488.8,667 488.8,693 488.8,647.9 488.8,668.8 489.2,686.8 489.2,647 489.2,696.7 489.2,653.2 489.8,658.2 489.8,647.8 489.8,706.1 489.8,667 490.2,654 490.2,646.2 490.2,703.3 490.2,661.3 490.8,654.7 490.8,644.4 490.8,689.7 490.8,660.2 491.2,661 491.2,698.8 491.2,647.4 491.2,659.4 491.8,664.1 491.8,684.4 491.8,645.1 491.8,662.6 492.2,664.5 492.2,643.2 492.2,690.1 492.2,672.8 492.8,668.9 492.8,647.2 492.8,706.4 492.8,664.7 493.2,667.1 493.2,698.7 493.2,646.4 493.2,652.6 493.8,655.6 493.8,646.4 493.8,690.4 493.8,667.1 494.2,658.7 494.2,647 494.2,687.2 494.2,659.6 494.8,659.6 494.8,647.8 494.8,697.2 494.8,667.7 495.2,654.9 495.2,690.7 495.2,647.6 495.2,676.7 495.8,649.9 495.8,716.5 495.8,649.2 495.8,669.3 496.2,653.4 496.2,689.8 496.2,650.9 496.2,668.9 496.8,685.6 496.8,647.1 496.8,703.9 496.8,661.4 497.2,661.6 497.2,649.8 497.2,688.9 497.2,677.4 497.8,660 497.8,714.1 497.8,650.3 497.8,657.7 498.2,662 498.2,648.5 498.2,697 498.2,652.1 498.8,662.1 498.8,692 498.8,649.5 498.8,664.6 499.2,655.4 499.2,699.7 499.2,649.6 499.2,664.3 499.8,659.6 499.8,650.2 499.8,695.8 499.8,654.4 500.2,656.6 500.2,645.2 500.2,706.1 500.2,668.1 500.8,681.2 500.8,691.2 500.8,646.4 500.8,653.9 501.2,652 501.2,650.8 501.2,684.1 501.2,655.6 501.8,654.4 501.8,651.2 501.8,703.5 501.8,660.8 502.2,655.2 502.2,679.6 502.2,648.2 502.2,658.5 502.8,657.8 502.8,692.9 502.8,647.9 502.8,651.2 503.2,650.7 503.2,648.6 503.2,695.9 503.2,653.8 503.8,651.3 503.8,690.5 503.8,649.1 503.8,664.6 504.2,669.1 504.2,649.4 504.2,711.7 504.2,660.7 504.8,655.6 504.8,705.2 504.8,647.8 504.8,671.1 505.2,685.3 505.2,646.7 505.2,708.2 505.2,655.6 505.8,656 505.8,648.7 505.8,716.8 505.8,659.7 506.2,662.6 506.2,691 506.2,648.7 506.2,659.2 506.8,670.1 506.8,647.2 506.8,694.7 506.8,678.7 507.2,646.9 507.2,646.9 507.2,698.9 507.2,666.7 507.8,655.4 507.8,709.6 507.8,649.7 507.8,666.1 508.2,670.7 508.2,696 508.2,649.1 508.2,667.2 508.8,689.6 508.8,702.9 508.8,648.4 508.8,687.8 509.2,656.5 509.2,688.4 509.2,651 509.2,657.3 509.8,653.1 509.8,693.7 509.8,647 509.8,667.5 510.2,679.2 510.2,650.2 510.2,700.4 510.2,660.1 510.8,657.2 510.8,644.8 510.8,682.3 510.8,658.1 511.2,654.5 511.2,646.7 511.2,699.9 511.2,672.7 511.8,651.7 511.8,697.6 511.8,647.6 511.8,653.3 512.2,657.9 512.2,691.3 512.2,645.5 512.2,674.8 512.8,662 512.8,707 512.8,646.6 512.8,684.6 513.2,664.5 513.2,646.7 513.2,689.7 513.2,665.7 513.8,667.2 513.8,690.1 513.8,647.6 513.8,654.2 514.2,658.1 514.2,645.6 514.2,681.8 514.2,660.1 514.8,680.6 514.8,690.1 514.8,644.2 514.8,665.9 515.2,663.3 515.2,693.3 515.2,646.5 515.2,649.2 515.8,651.5 515.8,641.5 515.8,688 515.8,663.3 516.2,670.8 516.2,645 516.2,682.2 516.2,670.9 516.8,662.2 516.8,646.8 516.8,697.3 516.8,665.7 517.2,651.2 517.2,697.5 517.2,649.9 517.2,664.2 517.8,652.2 517.8,699.7 517.8,648.4 517.8,656.8 518.2,669.5 518.2,645.7 518.2,691.6 518.2,672.4 518.8,674.9 518.8,645.9 518.8,684.5 518.8,655.7 519.2,660.9 519.2,695.7 519.2,644.4 519.2,664.5 519.8,653.1 519.8,691.3 519.8,646 519.8,659.6 520.2,659.3 520.2,695.4 520.2,642.1 520.2,665 520.8,657.2 520.8,709.9 520.8,647.8 520.8,669.1 521.2,654.5 521.2,714 521.2,646.9 521.2,657.1 521.8,666.3 521.8,646.7 521.8,698 521.8,665.2 522.2,666 522.2,645.3 522.2,694.5 522.2,658.9 522.8,663 522.8,650.2 522.8,696 522.8,662.6 523.2,662 523.2,703.1 523.2,649.9 523.2,692.2 523.8,661.6 523.8,705 523.8,644.3 523.8,644.3 524.2,661.7 524.2,646 524.2,702.8 524.2,663.3 524.8,670.6 524.8,647.7 524.8,696.7 524.8,649.6 525.2,655.9 525.2,647.1 525.2,714.7 525.2,668.2 525.8,670 525.8,643.3 525.8,695 525.8,657.6 526.2,665 526.2,702.8 526.2,647.3 526.2,662.9 526.8,678.8 526.8,647.9 526.8,702.1 526.8,667.5 527.2,660.5 527.2,699.3 527.2,649.2 527.2,660.8 527.8,663.9 527.8,709.1 527.8,650.5 527.8,673.1 528.2,650.2 528.2,650.2 528.2,690.6 528.2,681.1 528.8,669.4 528.8,651.7 528.8,722.9 528.8,656.7 529.2,663.9 529.2,650.1 529.2,690.7 529.2,664.1 529.8,680.8 529.8,697.4 529.8,650.4 529.8,655.2 530.2,673 530.2,692 530.2,649.4 530.2,662.7 530.8,655.1 530.8,696.6 530.8,654.1 530.8,673.5 531.2,677.5 531.2,700.3 531.2,653 531.2,659.4 531.8,670.7 531.8,649.7 531.8,698.3 531.8,659.8 532.2,656.8 532.2,692.6 532.2,646.2 532.2,662.4 532.8,653.4 532.8,648.5 532.8,698.2 532.8,659.7 533.2,667.8 533.2,701.2 533.2,652.9 533.2,652.9 533.8,662.3 533.8,704 533.8,649.2 533.8,666.4 534.2,660.1 534.2,651.4 534.2,710 534.2,657.5 534.8,662.3 534.8,649.2 534.8,688.6 534.8,676.6 535.2,654.9 535.2,721.6 535.2,645.6 535.2,654.4 535.8,664.7 535.8,649.6 535.8,698.6 535.8,658.9 536.2,658.8 536.2,701.2 536.2,649 536.2,654.9 536.8,662.2 536.8,698.1 536.8,650.5 536.8,667.5 537.2,654.2 537.2,651.2 537.2,691.8 537.2,669.3 537.8,655.8 537.8,651.6 537.8,704.6 537.8,665.3 538.2,664.8 538.2,650.4 538.2,696.3 538.2,669.1 538.8,668 538.8,692.7 538.8,649.1 538.8,678.6 539.2,672 539.2,692.2 539.2,652.2 539.2,667.3 539.8,662.5 539.8,693.5 539.8,652.7 539.8,669.9 540.2,663 540.2,652.4 540.2,698.9 540.2,684.1 540.8,681.9 540.8,653.6 540.8,706 540.8,671.8 541.2,665 541.2,651.6 541.2,707.2 541.2,667 541.8,676.1 541.8,712.7 541.8,651.9 541.8,665.8 542.2,667.1 542.2,649.3 542.2,713.4 542.2,670.7 542.8,675.1 542.8,652.4 542.8,711.3 542.8,668.9 543.2,673.3 543.2,706.5 543.2,652.9 543.2,664.9 543.8,686.7 543.8,649.8 543.8,706.3 543.8,672.8 544.2,671.5 544.2,703 544.2,653.3 544.2,664 544.8,670.5 544.8,706.8 544.8,654.3 544.8,674.7 545.2,676.4 545.2,700.7 545.2,656.6 545.2,664.6 545.8,661.9 545.8,706.4 545.8,653.4 545.8,667.8 546.2,663.8 546.2,731.6 546.2,657.7 546.2,660.5 546.8,691.9 546.8,654.2 546.8,712 546.8,661.5 547.2,677.7 547.2,651.7 547.2,713 547.2,668.5 547.8,662.8 547.8,697.1 547.8,657.9 547.8,689.6 548.2,661.6 548.2,656.3 548.2,701.6 548.2,666.5 548.8,663.4 548.8,706.2 548.8,659.8 548.8,673.3 549.2,683.6 549.2,653.3 549.2,707.4 549.2,665 549.8,678.2 549.8,656.1 549.8,710.5 549.8,669.2 550.2,675.8 550.2,657.8 550.2,732.2 550.2,692.3 550.8,671.4 550.8,658.7 550.8,706.2 550.8,661.7 551.2,680.9 551.2,659.2 551.2,717.9 551.2,664.8 551.8,666 551.8,656.1 551.8,702.6 551.8,683 552.2,670.2 552.2,655.4 552.2,706.7 552.2,685.4 552.8,664.6 552.8,657.3 552.8,711.1 552.8,675.8 553.2,683.8 553.2,657.3 553.2,706.9 553.2,676.8 553.8,669 553.8,660.3 553.8,715.6 553.8,663.5 554.2,681 554.2,722.2 554.2,659.9 554.2,670 554.8,677.9 554.8,709.3 554.8,659.5 554.8,667.6 555.2,684.5 555.2,718.1 555.2,660.5 555.2,672.2 555.8,670 555.8,721.6 555.8,659.9 555.8,680.4 556.2,659.9 556.2,702.5 556.2,655.3 556.2,679.5 556.8,687 556.8,657.9 556.8,709.7 556.8,661.8 557.2,669.3 557.2,655.2 557.2,717.1 557.2,664.6 557.8,673.8 557.8,725.5 557.8,655.4 557.8,661.1 558.2,680.5 558.2,724.2 558.2,657.5 558.2,660.7 558.8,683.2 558.8,658.2 558.8,736 558.8,698.3 559.2,671.5 559.2,656.4 559.2,707.7 559.2,662.1 559.8,689.8 559.8,659.5 559.8,722.2 559.8,667.1 560.2,679.4 560.2,658.8 560.2,715.3 560.2,685.3 560.8,680.9 560.8,715.1 560.8,654.7 560.8,695.9 561.2,687.7 561.2,711 561.2,660 561.2,696.5 561.8,664.1 561.8,658.8 561.8,708.6 561.8,677 562.2,668.9 562.2,660.8 562.2,707.8 562.2,668.4 562.8,674.3 562.8,656.9 562.8,710.9 562.8,677.7 563.2,672.4 563.2,658.6 563.2,731.8 563.2,706.8 563.8,671.4 563.8,702.8 563.8,658.1 563.8,678.8 564.2,658.1 564.2,701.2 564.2,657.7 564.2,681.7 564.8,681.1 564.8,712.7 564.8,658.3 564.8,693.6 565.2,681.8 565.2,659 565.2,708.9 565.2,675.7 565.8,685 565.8,708 565.8,660.4 565.8,675 566.2,668.7 566.2,660.5 566.2,727.9 566.2,668.6 566.8,677.2 566.8,723.2 566.8,659.2 566.8,667.4 567.2,674.9 567.2,660.9 567.2,723.7 567.2,691.9 567.8,673.3 567.8,657.7 567.8,722.9 567.8,671.1 568.2,668.3 568.2,662.9 568.2,732.5 568.2,666.4 568.8,669.2 568.8,722.7 568.8,662.6 568.8,675.4 569.2,675.1 569.2,727.9 569.2,658 569.2,694.6 569.8,658.9 569.8,658.9 569.8,717.1 569.8,674.8 570.2,702.1 570.2,661.7 570.2,738.5 570.2,691 570.8,672.8 570.8,712.8 570.8,664.6 570.8,696.2 571.2,673.4 571.2,704.4 571.2,661.6 571.2,686.8 571.8,687.2 571.8,721.9 571.8,662.4 571.8,675.9 572.2,671 572.2,660.6 572.2,707 572.2,668.9 572.8,698.6 572.8,711.9 572.8,661 572.8,675.5 573.2,681.7 573.2,663.5 573.2,720.3 573.2,668 573.8,679.6 573.8,666.7 573.8,728 573.8,673.8 574.2,668.7 574.2,662 574.2,719.1 574.2,680.3 574.8,671.7 574.8,725.1 574.8,655.6 574.8,674 575.2,680.8 575.2,709.8 575.2,661.3 575.2,667.8 575.8,680.8 575.8,659.6 575.8,708.8 575.8,671.8 576.2,680.5 576.2,660.4 576.2,730.9 576.2,675.5 576.8,688.1 576.8,706.2 576.8,659.8 576.8,677 577.2,685.5 577.2,664 577.2,731.5 577.2,676.8 577.8,667.2 577.8,660 577.8,715.8 577.8,676.6 578.2,661.4 578.2,661.4 578.2,724.9 578.2,686.7 578.8,669.2 578.8,719.2 578.8,659.5 578.8,676.1 579.2,668.4 579.2,660.3 579.2,708.2 579.2,677.1 579.8,669 579.8,718.9 579.8,658.8 579.8,673.6 580.2,662.3 580.2,697 580.2,661.3 580.2,675.4 580.8,689.7 580.8,661.6 580.8,727.5 580.8,675.2 581.2,694.1 581.2,720.2 581.2,662 581.2,675.3 581.8,683.8 581.8,726.6 581.8,665.2 581.8,683.4 582.2,695.8 582.2,710.1 582.2,661.1 582.2,683.2 582.8,684.3 582.8,721.7 582.8,665.7 582.8,698.7 583.2,673.1 583.2,667.5 583.2,713.5 583.2,678.7 583.8,690 583.8,707.9 583.8,668.7 583.8,685 584.2,708 584.2,728.4 584.2,667.8 584.2,697.8 584.8,673.1 584.8,665.4 584.8,727.2 584.8,688.9 585.2,685.2 585.2,730.1 585.2,664.3 585.2,690.9 585.8,682.4 585.8,666.8 585.8,723.3 585.8,676.5 586.2,691.6 586.2,714.5 586.2,667 586.2,683.3 586.8,697.2 586.8,663.7 586.8,710.8 586.8,687.6 587.2,676.8 587.2,664.7 587.2,721.2 587.2,676 587.8,668.9 587.8,663.4 587.8,720.6 587.8,677.1 588.2,668.5 588.2,725.1 588.2,662 588.2,671.7 588.8,674.7 588.8,661.6 588.8,719.2 588.8,667.3 589.2,684.1 589.2,706.6 589.2,660.3 589.2,690.9 589.8,671.6 589.8,661.2 589.8,730 589.8,668.7 590.2,689.8 590.2,715.2 590.2,662.6 590.2,674.6 590.8,678.8 590.8,664.6 590.8,719.4 590.8,668.7 591.2,667.9 591.2,663.5 591.2,710.6 591.2,678.9 591.8,666.2 591.8,717.5 591.8,664.7 591.8,680.1 592.2,673.7 592.2,709.5 592.2,663.2 592.2,708.8 592.8,668.5 592.8,712.5 592.8,664.4 592.8,680.1 593.2,682.4 593.2,663.8 593.2,732.2 593.2,681.9 593.8,685.7 593.8,662.5 593.8,737 593.8,675.2 594.2,683.4 594.2,726.8 594.2,663.4 594.2,676.6 594.8,685 594.8,708.2 594.8,661.8 594.8,666.6 595.2,677.5 595.2,660.4 595.2,739.1 595.2,674.7 595.8,690.4 595.8,727.3 595.8,664.8 595.8,692.5 596.2,678.4 596.2,729.3 596.2,666.7 596.2,684.1 596.8,696.7 596.8,665.3 596.8,722.3 596.8,686.2 597.2,672.4 597.2,664.4 597.2,731.1 597.2,679.6 597.8,690.2 597.8,667.8 597.8,725.5 597.8,682.4 598.2,684.4 598.2,669.6 598.2,721.5 598.2,691.7 598.8,676.3 598.8,665.6 598.8,735.2 598.8,681.2 599.2,689.8 599.2,722.9 599.2,665.4 599.2,689.4 599.8,693 599.8,716.8 599.8,667 599.8,673.6 600.2,685.5 600.2,667.8 600.2,712 600.2,680.1 600.8,680.8 600.8,718.9 600.8,668.2 600.8,690.2 601.2,681.8 601.2,668.2 601.2,726.5 601.2,691.6 601.8,687.8 601.8,667.7 601.8,721.5 601.8,684.2 602.2,698.7 602.2,671 602.2,716.5 602.2,688 602.8,694 602.8,667.5 602.8,721.5 602.8,682.5 603.2,690.5 603.2,670.9 603.2,726.8 603.2,673.6 603.8,679.2 603.8,666.6 603.8,722 603.8,680.9 604.2,689.9 604.2,720.5 604.2,666.7 604.2,708.1 604.8,679.3 604.8,726.9 604.8,666.5 604.8,676.9 605.2,685.6 605.2,720.7 605.2,665.3 605.2,676.1 605.8,688.2 605.8,666.4 605.8,739.8 605.8,686.3 606.2,673.6 606.2,668.6 606.2,717.2 606.2,687.3 606.8,680.7 606.8,668.7 606.8,739.3 606.8,693.6 607.2,689.4 607.2,724.2 607.2,671.8 607.2,682.5 607.8,679 607.8,671.4 607.8,724.4 607.8,688.4 608.2,685.6 608.2,742.2 608.2,669.5 608.2,680.8 608.8,680.2 608.8,717.8 608.8,668.2 608.8,675.6 609.2,682.5 609.2,716.3 609.2,663.7 609.2,680.6 609.8,681.7 609.8,738.5 609.8,665.3 609.8,692.7 610.2,671.4 610.2,734.6 610.2,667.5 610.2,674.7 610.8,672.2 610.8,667.6 610.8,717.1 610.8,669.6 611.2,682.1 611.2,670 611.2,722.4 611.2,684.9 611.8,690.9 611.8,669.4 611.8,713.5 611.8,699.3 612.2,682.8 612.2,668 612.2,723.5 612.2,684.7 612.8,685.5 612.8,664.2 612.8,728.5 612.8,680.8 613.2,685.2 613.2,713.9 613.2,665 613.2,681.3 613.8,695.1 613.8,721.7 613.8,665.8 613.8,683.7 614.2,691.4 614.2,716.3 614.2,669.3 614.2,681.5 614.8,686.9 614.8,668.8 614.8,719.9 614.8,684.3 615.2,690.3 615.2,668.8 615.2,726.5 615.2,708.9 615.8,680.4 615.8,714.4 615.8,669.1 615.8,691.8 616.2,671 616.2,731.5 616.2,669.7 616.2,680.7 616.8,688.6 616.8,671.9 616.8,738.1 616.8,682.7 617.2,694.6 617.2,731.5 617.2,671.7 617.2,677.6 617.8,693.6 617.8,670 617.8,716.6 617.8,676.2 618.2,677.1 618.2,668.6 618.2,724.8 618.2,689.1 618.8,681.6 618.8,730.6 618.8,673.4 618.8,682.8 619.2,685.7 619.2,671.5 619.2,727.7 619.2,691.3 619.8,682.3 619.8,670.9 619.8,728.1 619.8,687 620.2,716.4 620.2,671.5 620.2,720.6 620.2,687.7 620.8,694.8 620.8,729.3 620.8,671.8 620.8,694.6 621.2,689.6 621.2,668.5 621.2,741.6 621.2,685 621.8,676 621.8,718.5 621.8,667.7 621.8,667.7 622.2,687.2 622.2,719.5 622.2,671.9 622.2,677.7 622.8,682.8 622.8,671.6 622.8,733.9 622.8,686 623.2,692.7 623.2,742 623.2,669.1 623.2,684.8 623.8,692.4 623.8,669.4 623.8,725.6 623.8,686.3 624.2,677.1 624.2,728.3 624.2,669.5 624.2,689.3 624.8,683 624.8,673.2 624.8,736.5 624.8,723.6 625.2,679.3 625.2,673 625.2,742.5 625.2,680.4 625.8,693.4 625.8,737.9 625.8,673.4 625.8,700 626.2,680.3 626.2,722.7 626.2,673.4 626.2,697 626.8,710 626.8,730.8 626.8,677 626.8,724.1 627.2,685.4 627.2,737.7 627.2,675.3 627.2,691.3 627.8,694.1 627.8,728.7 627.8,671.2 627.8,676.7 628.2,687 628.2,720.4 628.2,674 628.2,690.1 628.8,682 628.8,723.2 628.8,670.2 628.8,703 629.2,679.9 629.2,720.7 629.2,672.2 629.2,691.4 629.8,684.2 629.8,676.3 629.8,740.1 629.8,712.1 630.2,700.8 630.2,733.5 630.2,677 630.2,701.6 630.8,715.6 630.8,747.8 630.8,675.4 630.8,688.5 631.2,685 631.2,673.9 631.2,722.2 631.2,689.5 631.8,692.2 631.8,671.5 631.8,727.3 631.8,679.9 632.2,683 632.2,726.3 632.2,670 632.2,682.8 632.8,721.5 632.8,732.3 632.8,673.7 632.8,686.2 633.2,691.5 633.2,674.7 633.2,721.3 633.2,685.9 633.8,684 633.8,740.6 633.8,675.7 633.8,675.7 634.2,689.1 634.2,675.8 634.2,718.2 634.2,699.8 634.8,712.3 634.8,724.8 634.8,673.9 634.8,685.1 635.2,689.3 635.2,721.8 635.2,676 635.2,695.2 635.8,682.3 635.8,741 635.8,677.6 635.8,686.6 636.2,703.4 636.2,730.3 636.2,677.3 636.2,677.3 636.8,690.4 636.8,679.1 636.8,726.7 636.8,688.4 637.2,685.1 637.2,675.8 637.2,721.8 637.2,690.8 637.8,685.5 637.8,675.1 637.8,739.8 637.8,678.7 638.2,680.3 638.2,735.2 638.2,675.9 638.2,695.6 638.8,699.3 638.8,727.6 638.8,676.2 638.8,696.4 639.2,690.5 639.2,675.2 639.2,726.9 639.2,696.2 639.8,688.9 639.8,675.6 639.8,724.9 639.8,706.3 640.2,688.7 640.2,726.5 640.2,677.4 640.2,682.2 640.8,696.4 640.8,735 640.8,681.1 640.8,700.1 641.2,690.3 641.2,678.6 641.2,747.3 641.2,685.8 641.8,694.6 641.8,675.4 641.8,735.4 641.8,684.3 642.2,684.7 642.2,730.2 642.2,676.2 642.2,689.2 642.8,688.7 642.8,677.1 642.8,738.5 642.8,717.7 643.2,691.9 643.2,743 643.2,675.7 643.2,688.8 643.8,688.4 643.8,678.2 643.8,730.1 643.8,715.2 644.2,687.2 644.2,730.6 644.2,678.9 644.2,696.6 644.8,689.5 644.8,683.1 644.8,730.4 644.8,697.1 645.2,689.4 645.2,729.7 645.2,679.3 645.2,690.5 645.8,688.2 645.8,739.8 645.8,677.2 645.8,703.2 646.2,687.1 646.2,727.5 646.2,678.4 646.2,683.7 646.8,696 646.8,741.3 646.8,677.7 646.8,694.1 647.2,703 647.2,676.1 647.2,737.1 647.2,682.6 647.8,688.2 647.8,734.3 647.8,676.9 647.8,679.2 648.2,683.5 648.2,721.8 648.2,675.7 648.2,693.6 648.8,694.4 648.8,674.1 648.8,742.9 648.8,680.8 649.2,685.4 649.2,675.7 649.2,726.5 649.2,698.9 649.8,686.1 649.8,676.6 649.8,727.5 649.8,684.7 650.2,691.3 650.2,677.8 650.2,732.6 650.2,692.7 650.8,688.7 650.8,681.7 650.8,744.9 650.8,684.1 651.2,686.5 651.2,740 651.2,679.9 651.2,705.9 651.8,744.5 651.8,744.5 651.8,679.7 651.8,692.5 652.2,696.6 652.2,679 652.2,735.2 652.2,692.7 652.8,691 652.8,734.8 652.8,679.5 652.8,686.3 653.2,705.5 653.2,729.4 653.2,680.5 653.2,689.1 653.8,698.7 653.8,723 653.8,679.1 653.8,689.1 654.2,689.9 654.2,727 654.2,680.6 654.2,689.3 654.8,688.4 654.8,679.6 654.8,748.2 654.8,685.5 655.2,692.5 655.2,748.1 655.2,679.4 655.2,693.7 655.8,685.4 655.8,748.3 655.8,678.9 655.8,688.2 656.2,698.4 656.2,680.3 656.2,726.4 656.2,695.9 656.8,702.2 656.8,682 656.8,746.1 656.8,704.8 657.2,698.3 657.2,738.4 657.2,683.4 657.2,696.2 657.8,693.7 657.8,683.5 657.8,730.5 657.8,698 658.2,703.5 658.2,686.6 658.2,748.7 658.2,695.8 658.8,704.7 658.8,686.7 658.8,753.2 658.8,715.7 659.2,700.4 659.2,743.4 659.2,689.2 659.2,699.6 659.8,709.8 659.8,756.8 659.8,690.9 659.8,715.5 660.2,708.9 660.2,749.6 660.2,692.3 660.2,699.6 660.8,709.5 660.8,741.1 660.8,692.8 660.8,701.7 661.2,707.6 661.2,743.7 661.2,695.3 661.2,720.3 661.8,709.7 661.8,695.2 661.8,756.6 661.8,715.3 662.2,706.6 662.2,696.2 662.2,747.3 662.2,706.5 662.8,709.2 662.8,697.8 662.8,751.6 662.8,715.7 663.2,718 663.2,734.7 663.2,698.3 663.2,712.6 663.8,709.6 663.8,697.9 663.8,738.3 663.8,705.5 664.2,708.1 664.2,734 664.2,697.7 664.2,720.5 664.8,703.9 664.8,697.7 664.8,741.7 664.8,704.9 665.2,708 665.2,747.1 665.2,697.7 665.2,715 665.8,713.7 665.8,697.7 665.8,746.2 665.8,718.3 666.2,702.2 666.2,743.8 666.2,697.6 666.2,725.4 666.8,712.9 666.8,746 666.8,697.8 666.8,703.5 667.2,716.5 667.2,746.2 667.2,697.6 667.2,722.7 667.8,706 667.8,697.6 667.8,751.2 667.8,713.6 668.2,709.5 668.2,697.9 668.2,743 668.2,706.7 668.8,704.5 668.8,697.9 668.8,730.1 668.8,716.3 669.2,711.4 669.2,697.7 669.2,734.8 669.2,712.2 669.8,712.3 669.8,738.9 669.8,697.6 669.8,703.3 670.2,716.4 670.2,744.7 670.2,697.5 670.2,704.4 670.8,706.6 670.8,697.5 670.8,751 670.8,708.5 671.2,705.3 671.2,697.7 671.2,751.4 671.2,727.6 671.8,700.8 671.8,697.6 671.8,749.6 671.8,718.3 672.2,708 672.2,751.3 672.2,697.6 672.2,705.1 672.8,709.7 672.8,739.7 672.8,697.6 672.8,715.7 673.2,705.2 673.2,698.1 673.2,747 673.2,707.6 673.8,704.1 673.8,697.8 673.8,749.1 673.8,709.5 674.2,710.1 674.2,698 674.2,738.3 674.2,717.7 674.8,712.7 674.8,746.7 674.8,697.9 674.8,713.4 675.2,715.7 675.2,697.9 675.2,745.6 675.2,706.8 675.8,736.9 675.8,740.2 675.8,697.5 675.8,704.4 676.2,726.8 676.2,697.3 676.2,747.1 676.2,707.6 676.8,704.4 676.8,738.5 676.8,697.5 676.8,706.3 677.2,708.5 677.2,733.3 677.2,697.6 677.2,708 677.8,709.2 677.8,697.7 677.8,737.4 677.8,698.9 678.2,709.2 678.2,741.8 678.2,697.7 678.2,705 678.8,711.9 678.8,697.9 678.8,749.6 678.8,717.7 679.2,709.9 679.2,698.1 679.2,736.6 679.2,702.8 679.8,717.3 679.8,743.4 679.8,698.2 679.8,699.2 680.2,711.9 680.2,698.2 680.2,737.9 680.2,704.2 680.8,712.3 680.8,697.9 680.8,739 680.8,702.4 681.2,706.9 681.2,698.9 681.2,742.4 681.2,702.9 681.8,715.6 681.8,735.1 681.8,698.2 681.8,721 682.2,700.9 682.2,698.6 682.2,740.7 682.2,713.2 682.8,706.2 682.8,752.5 682.8,698 682.8,703.5 683.2,719.3 683.2,698 683.2,741.9 683.2,709.9 683.8,707.8 683.8,741 683.8,698.1 683.8,711.6 684.2,711 684.2,698.2 684.2,752.1 684.2,717.4 684.8,715.1 684.8,750.2 684.8,698.2 684.8,713.9 685.2,707.3 685.2,698.3 685.2,741.8 685.2,721.5 685.8,720.4 685.8,699.1 685.8,742.6 685.8,708.5 686.2,700.9 686.2,747.1 686.2,698.6 686.2,708.2 686.8,704.5 686.8,698.9 686.8,746.9 686.8,708 687.2,706.9 687.2,699 687.2,752.9 687.2,720.4 687.8,705.4 687.8,699.2 687.8,741.4 687.8,708.2 688.2,702.4 688.2,699.2 688.2,747.6 688.2,708.2 688.8,709 688.8,741.5 688.8,699.5 688.8,711.3 689.2,703.1 689.2,746.2 689.2,699.8 689.2,717.5 689.8,705.2 689.8,744.2 689.8,699.4 689.8,729.9 690.2,708.8 690.2,753.7 690.2,699.4 690.2,714.8 690.8,705.1 690.8,741.5 690.8,699.5 690.8,709.9 691.2,711.5 691.2,699.7 691.2,747.8 691.2,718.1 691.8,708.1 691.8,747.5 691.8,699.9 691.8,717.6 692.2,728.6 692.2,742.6 692.2,700 692.2,714.1 692.8,709.5 692.8,700 692.8,748.1 692.8,710 693.2,703.5 693.2,739.6 693.2,700.1 693.2,717.1 693.8,732.3 693.8,744.8 693.8,700.1 693.8,709.2 694.2,717 694.2,700.3 694.2,743.8 694.2,713.2 694.8,708.2 694.8,701.3 694.8,743.9 694.8,720.2 695.2,704.5 695.2,700.5 695.2,742 695.2,709.6 695.8,700.9 695.8,700.6 695.8,745 695.8,714.5 696.2,716.4 696.2,746.7 696.2,700.8 696.2,718.4 696.8,719.1 696.8,701.9 696.8,743.4 696.8,718.3 697.2,707.2 697.2,736.6 697.2,701.4 697.2,719.5 697.8,718.4 697.8,756.9 697.8,701.4 697.8,707.5 698.2,702.2 698.2,745 698.2,701.5 698.2,718.7 698.8,726.5 698.8,701.7 698.8,748.7 698.8,714.1 699.2,713.3 699.2,702.3 699.2,747.4 699.2,711.7 699.8,710.3 699.8,760.4 699.8,702.9 699.8,716.5 700.2,717.2 700.2,747.2 700.2,703 700.2,715.5 700.8,710.1 700.8,746.2 700.8,703.3 700.8,721.3 701.2,714.6 701.2,742.8 701.2,703.1 701.2,730.3 701.8,713.7 701.8,751.7 701.8,703.1 701.8,711.4 702.2,719.2 702.2,762.9 702.2,703 702.2,709.1 702.8,711 702.8,703 702.8,751.5 702.8,721.7 703.2,717.4 703.2,747 703.2,703.5 703.2,723.7 703.8,712.8 703.8,703.7 703.8,754.3 703.8,715.7 704.2,713.5 704.2,704.1 704.2,759 704.2,717.2 704.8,713.5 704.8,766.6 704.8,704.9 704.8,729.9 705.2,712.4 705.2,753.4 705.2,704.5 705.2,718.2 705.8,719.7 705.8,704.5 705.8,752.7 705.8,721.9 706.2,720.7 706.2,704.8 706.2,748.4 706.2,715.6 706.8,717.9 706.8,769.8 706.8,705.4 706.8,719.1 707.2,727.2 707.2,705.5 707.2,756.6 707.2,715.8 707.8,718.3 707.8,771.3 707.8,706 707.8,711.4 708.2,711.5 708.2,752.6 708.2,706.2 708.2,714.6 708.8,723.2 708.8,706.4 708.8,758 708.8,710.5 709.2,727.8 709.2,767.1 709.2,706.9 709.2,716.1 709.8,729.2 709.8,760.6 709.8,706.9 709.8,711.6 710.2,723.9 710.2,762.3 710.2,707.1 710.2,712.9 710.8,713.2 710.8,707.3 710.8,772.4 710.8,725.9 711.2,726.9 711.2,775.4 711.2,707.6 711.2,724.9 711.8,729.8 711.8,760.7 711.8,707.9 711.8,730.5 712.2,716.5 712.2,708.1 712.2,772 712.2,715.3 712.8,716.5 712.8,708.6 712.8,760.2 712.8,727.2 713.2,720.8 713.2,709 713.2,764.6 713.2,719.3 713.8,717.6 713.8,777.3 713.8,709.4 713.8,731.5 714.2,716.7 714.2,709.5 714.2,764.5 714.2,724.7 714.8,737 714.8,709.7 714.8,777.7 714.8,725.4 715.2,725.2 715.2,710 715.2,768.1 715.2,714.2 715.8,731 715.8,710.3 715.8,778.4 715.8,736.1 716.2,736.5 716.2,710.6 716.2,776.4 716.2,724.2 716.8,738.9 716.8,711.2 716.8,769 716.8,743.8 717.2,730.6 717.2,711.5 717.2,751.5 717.2,726.8 717.8,730 717.8,712.4 717.8,755.7 717.8,723.1 718.2,724.7 718.2,712.8 718.2,755.7 718.2,732.8 718.8,733.8 718.8,713.3 718.8,753.6 718.8,716.4 719.2,720.3 719.2,713.6 719.2,748.3 719.2,725.1 719.8,716.4 719.8,742.1 719.8,713.9 719.8,723.8 720.2,717.9 720.2,714.2 720.2,745.2 720.2,718.7 720.8,724.6 720.8,714.8 720.8,736.6 720.8,720.4 721.2,720.5 721.2,715.2 721.2,732.6 721.2,720.9 721.8,719.4 721.8,729.5 721.8,715.6 721.8,719.1 722.2,721 722.2,730.1 722.2,715.3 722.2,722.4 722.8,719.3 722.8,729.4 722.8,715.1 722.8,718.7 723.2,716.5 723.2,731.2 723.2,714.8 723.2,717.9 723.8,718.7 723.8,735.7 723.8,714.6 723.8,717.3 724.2,727 724.2,735.2 724.2,714.6 724.2,720.3 724.8,723.9 724.8,713.5 724.8,738.6 724.8,718.9 725.2,717.5 725.2,740.2 725.2,713 725.2,728.1 725.8,717.3 725.8,742.2 725.8,712.7 725.8,717.4 726.2,722.8 726.2,745.3 726.2,712.6 726.2,719 726.8,728.4 726.8,741.4 726.8,712.5 726.8,716.9 727.2,717.4 727.2,747.1 727.2,712.3 727.2,717.7 727.8,718.8 727.8,745.8 727.8,712 727.8,722.7 728.2,718.1 728.2,751.3 728.2,712.1 728.2,724.1 728.8,731.3 728.8,744.8 728.8,711.5 728.8,717.6 729.2,722.1 729.2,749.3 729.2,711.4 729.2,718.7 729.8,711.4 729.8,747.7 729.8,711.2 729.8,723.1 730.2,726 730.2,711 730.2,752.4 730.2,719.5 730.8,715.2 730.8,750.3 730.8,710.9 730.8,740.4 731.2,714.6 731.2,764.5 731.2,710.8 731.2,721.7 731.8,723.3 731.8,761.8 731.8,710.7 731.8,734.9 732.2,713.2 732.2,769.2 732.2,710.2 732.2,718.4 732.8,737.2 732.8,761.3 732.8,709.8 732.8,721.9 733.2,732 733.2,709.8 733.2,764.1 733.2,726 733.8,739.6 733.8,709.6 733.8,757.8 733.8,721.6 734.2,730.4 734.2,768.5 734.2,709.5 734.2,715.3 734.8,718.3 734.8,771.3 734.8,709.3 734.8,738.4 735.2,731.6 735.2,777.1 735.2,709 735.2,719.9 735.8,719.1 735.8,772 735.8,708.7 735.8,721.8 736.2,733.4 736.2,709.2 736.2,767.2 736.2,728.9 736.8,729.2 736.8,776.1 736.8,708.1 736.8,723.2 737.2,732.9 737.2,771.3 737.2,707.9 737.2,716.3 737.8,711.3 737.8,773.6 737.8,707.8 737.8,718.7 738.2,724.8 738.2,758.1 738.2,707.8 738.2,719.9 738.8,717.7 738.8,759 738.8,707.8 738.8,721 739.2,740.4 739.2,707.7 739.2,762.1 739.2,720.4 739.8,712.3 739.8,707.8 739.8,775.8 739.8,729.1 740.2,713.8 740.2,707.9 740.2,764 740.2,715.2 740.8,728 740.8,775.6 740.8,707.6 740.8,714.5 741.2,731.3 741.2,757.4 741.2,707.4 741.2,726.5 741.8,712.4 741.8,758.9 741.8,707.3 741.8,719.7 742.2,715.1 742.2,763.9 742.2,707.1 742.2,713.6 742.8,724.3 742.8,707 742.8,764.9 742.8,724.5 743.2,710.1 743.2,706.8 743.2,767.2 743.2,713.6 743.8,729.9 743.8,760.7 743.8,706.6 743.8,722.9 744.2,713.1 744.2,757.7 744.2,706.4 744.2,724.9 744.8,721.9 744.8,768.6 744.8,706.1 744.8,720.3 745.2,724.2 745.2,761.3 745.2,706 745.2,722.2 745.8,722.4 745.8,705.9 745.8,758.2 745.8,721.4 746.2,720.5 746.2,762.1 746.2,705.8 746.2,713.2 746.8,717 746.8,759.7 746.8,705.8 746.8,720.5 747.2,716.9 747.2,772 747.2,705.7 747.2,735.4 747.8,708.7 747.8,705.7 747.8,757.8 747.8,716.2 748.2,733.3 748.2,705.7 748.2,765.4 748.2,729.4 748.8,734.1 748.8,705.8 748.8,768.4 748.8,724.4 749.2,718.3 749.2,762.2 749.2,705.7 749.2,718.9 749.8,723.3 749.8,773.6 749.8,705.6 749.8,720.8 750.2,719.2 750.2,766 750.2,705.6 750.2,724.7 750.8,710.1 750.8,771.8 750.8,705.5 750.8,717.4 751.2,715.8 751.2,773.4 751.2,705.4 751.2,709.8 751.8,711.3 751.8,767.5 751.8,705.6 751.8,717.1 752.2,722.4 752.2,705.7 752.2,770.8 752.2,709.2 752.8,719.6 752.8,705.9 752.8,761.2 752.8,746.7 753.2,714.4 753.2,705.8 753.2,772.9 753.2,714.4 753.8,711.8 753.8,705.7 753.8,773.7 753.8,712.2 754.2,711.5 754.2,705.7 754.2,773.6 754.2,719.6 754.8,719.9 754.8,705.7 754.8,760.4 754.8,730.8 755.2,712.7 755.2,705.7 755.2,763.6 755.2,722.8 755.8,722.1 755.8,705.8 755.8,759.3 755.8,721.3 756.2,709.5 756.2,705.9 756.2,772.8 756.2,722.6 756.8,718.8 756.8,706 756.8,767.3 756.8,749.4 757.2,733.2 757.2,770.7 757.2,706 757.2,716.7 757.8,730.4 757.8,706 757.8,762.8 757.8,720.7 758.2,720 758.2,706.2 758.2,764.6 758.2,722.9 758.8,733.4 758.8,706.5 758.8,759.1 758.8,723.6 759.2,727.3 759.2,706.7 759.2,768.4 759.2,714.3 759.8,715.5 759.8,706.7 759.8,774.5 759.8,732.7 760.2,717.7 760.2,706.2 760.2,774.2 760.2,713.6 760.8,718.9 760.8,760.4 760.8,706.1 760.8,709.2 761.2,734.5 761.2,773.8 761.2,706 761.2,745.6 761.8,712.2 761.8,706.1 761.8,768.2 761.8,711.1 762.2,716.7 762.2,706.2 762.2,769 762.2,717 762.8,728.4 762.8,706.1 762.8,762.4 762.8,729 763.2,717.7 763.2,766 763.2,705.8 763.2,714.9 763.8,719.7 763.8,766.4 763.8,705.5 763.8,723.4 764.2,712.1 764.2,762 764.2,705.4 764.2,707.2 764.8,730.9 764.8,705.4 764.8,760.6 764.8,729.8 765.2,719 765.2,767 765.2,705.3 765.2,719 765.8,731.3 765.8,771.6 765.8,705.3 765.8,724.7 766.2,736.7 766.2,761.8 766.2,705.3 766.2,708.7 766.8,709.6 766.8,705.2 766.8,762.7 766.8,718.1 767.2,717.1 767.2,705.1 767.2,773 767.2,718.2 767.8,718.5 767.8,768.1 767.8,704.9 767.8,716.3 768.2,731.4 768.2,759.6 768.2,704.8 768.2,724 768.8,723.5 768.8,757.7 768.8,704.8 768.8,716.4 769.2,722.3 769.2,772.6 769.2,704.7 769.2,709.9 769.8,728.2 769.8,704.6 769.8,766.5 769.8,736.7 770.2,716.1 770.2,704.3 770.2,769.1 770.2,724.3 770.8,718.1 770.8,704.3 770.8,766.3 770.8,715.8 771.2,724.3 771.2,767.4 771.2,704.3 771.2,719.9 771.8,716.2 771.8,762.8 771.8,704.3 771.8,710.7 772.2,714.7 772.2,704.3 772.2,772.1 772.2,722.5 772.8,725.5 772.8,766.4 772.8,704 772.8,735.6 773.2,714.7 773.2,703.9 773.2,765 773.2,730.5 773.8,722.8 773.8,703.8 773.8,771.8 773.8,718.4 774.2,728.2 774.2,703.9 774.2,764.4 774.2,726 774.8,717.3 774.8,703.9 774.8,771.2 774.8,719.4 775.2,706.5 775.2,704 775.2,763.6 775.2,717.7 775.8,709.4 775.8,771.7 775.8,703.7 775.8,721.8 776.2,727.9 776.2,703.4 776.2,764.8 776.2,719.5 776.8,711.4 776.8,770.9 776.8,703.3 776.8,712 777.2,712.4 777.2,757.4 777.2,703.3 777.2,714.1 777.8,726.5 777.8,703.5 777.8,763.7 777.8,718.8 778.2,721.3 778.2,703.7 778.2,755.1 778.2,734.1" fill="none" stroke="#000" stroke-width="1.1" stroke-linejoin="bevel"/></g>
<text x="52.3" y="591.4" font-size="13.33" text-anchor="end" letter-spacing="-0.3">0</text>
<line x1="59.5" y1="614.5" x2="64.7" y2="614.5" stroke="#000" stroke-width="1" />
<line x1="773.3" y1="614.5" x2="778.5" y2="614.5" stroke="#000" stroke-width="1" />
<text x="52.3" y="619.4" font-size="13.33" text-anchor="end" letter-spacing="-0.3">-20</text>
<line x1="59.5" y1="643.5" x2="64.7" y2="643.5" stroke="#000" stroke-width="1" />
<line x1="773.3" y1="643.5" x2="778.5" y2="643.5" stroke="#000" stroke-width="1" />
<text x="52.3" y="648.4" font-size="13.33" text-anchor="end" letter-spacing="-0.3">-40</text>
<line x1="59.5" y1="671.5" x2="64.7" y2="671.5" stroke="#000" stroke-width="1" />
<line x1="773.3" y1="671.5" x2="778.5" y2="671.5" stroke="#000" stroke-width="1" />
<text x="52.3" y="676.4" font-size="13.33" text-anchor="end" letter-spacing="-0.3">-60</text>
<line x1="59.5" y1="700.5" x2="64.7" y2="700.5" stroke="#000" stroke-width="1" />
<line x1="773.3" y1="700.5" x2="778.5" y2="700.5" stroke="#000" stroke-width="1" />
<text x="52.3" y="705.4" font-size="13.33" text-anchor="end" letter-spacing="-0.3">-80</text>
<line x1="59.5" y1="728.5" x2="64.7" y2="728.5" stroke="#000" stroke-width="1" />
<line x1="773.3" y1="728.5" x2="778.5" y2="728.5" stroke="#000" stroke-width="1" />
<text x="52.3" y="733.4" font-size="13.33" text-anchor="end" letter-spacing="-0.3">-100</text>
<text x="52.3" y="761.4" font-size="13.33" text-anchor="end" letter-spacing="-0.3">-120</text>
<line x1="100.5" y1="756.5" x2="100.5" y2="753.7" stroke="#000" stroke-width="1" />
<line x1="100.5" y1="586.5" x2="100.5" y2="589.3" stroke="#000" stroke-width="1" />
<line x1="129.5" y1="756.5" x2="129.5" y2="753.7" stroke="#000" stroke-width="1" />
<line x1="129.5" y1="586.5" x2="129.5" y2="589.3" stroke="#000" stroke-width="1" />
<line x1="152.5" y1="756.5" x2="152.5" y2="753.7" stroke="#000" stroke-width="1" />
<line x1="152.5" y1="586.5" x2="152.5" y2="589.3" stroke="#000" stroke-width="1" />
<line x1="170.5" y1="756.5" x2="170.5" y2="753.7" stroke="#000" stroke-width="1" />
<line x1="170.5" y1="586.5" x2="170.5" y2="589.3" stroke="#000" stroke-width="1" />
<line x1="186.5" y1="756.5" x2="186.5" y2="753.7" stroke="#000" stroke-width="1" />
<line x1="186.5" y1="586.5" x2="186.5" y2="589.3" stroke="#000" stroke-width="1" />
<line x1="199.5" y1="756.5" x2="199.5" y2="753.7" stroke="#000" stroke-width="1" />
<line x1="199.5" y1="586.5" x2="199.5" y2="589.3" stroke="#000" stroke-width="1" />
<line x1="211.5" y1="756.5" x2="211.5" y2="753.7" stroke="#000" stroke-width="1" />
<line x1="211.5" y1="586.5" x2="211.5" y2="589.3" stroke="#000" stroke-width="1" />
<line x1="292.5" y1="756.5" x2="292.5" y2="753.7" stroke="#000" stroke-width="1" />
<line x1="292.5" y1="586.5" x2="292.5" y2="589.3" stroke="#000" stroke-width="1" />
<line x1="333.5" y1="756.5" x2="333.5" y2="753.7" stroke="#000" stroke-width="1" />
<line x1="333.5" y1="586.5" x2="333.5" y2="589.3" stroke="#000" stroke-width="1" />
<line x1="363.5" y1="756.5" x2="363.5" y2="753.7" stroke="#000" stroke-width="1" />
<line x1="363.5" y1="586.5" x2="363.5" y2="589.3" stroke="#000" stroke-width="1" />
<line x1="385.5" y1="756.5" x2="385.5" y2="753.7" stroke="#000" stroke-width="1" />
<line x1="385.5" y1="586.5" x2="385.5" y2="589.3" stroke="#000" stroke-width="1" />
<line x1="404.5" y1="756.5" x2="404.5" y2="753.7" stroke="#000" stroke-width="1" />
<line x1="404.5" y1="586.5" x2="404.5" y2="589.3" stroke="#000" stroke-width="1" />
<line x1="419.5" y1="756.5" x2="419.5" y2="753.7" stroke="#000" stroke-width="1" />
<line x1="419.5" y1="586.5" x2="419.5" y2="589.3" stroke="#000" stroke-width="1" />
<line x1="433.5" y1="756.5" x2="433.5" y2="753.7" stroke="#000" stroke-width="1" />
<line x1="433.5" y1="586.5" x2="433.5" y2="589.3" stroke="#000" stroke-width="1" />
<line x1="445.5" y1="756.5" x2="445.5" y2="753.7" stroke="#000" stroke-width="1" />
<line x1="445.5" y1="586.5" x2="445.5" y2="589.3" stroke="#000" stroke-width="1" />
<line x1="526.5" y1="756.5" x2="526.5" y2="753.7" stroke="#000" stroke-width="1" />
<line x1="526.5" y1="586.5" x2="526.5" y2="589.3" stroke="#000" stroke-width="1" />
<line x1="567.5" y1="756.5" x2="567.5" y2="753.7" stroke="#000" stroke-width="1" />
<line x1="567.5" y1="586.5" x2="567.5" y2="589.3" stroke="#000" stroke-width="1" />
<line x1="596.5" y1="756.5" x2="596.5" y2="753.7" stroke="#000" stroke-width="1" />
<line x1="596.5" y1="586.5" x2="596.5" y2="589.3" stroke="#000" stroke-width="1" />
<line x1="619.5" y1="756.5" x2="619.5" y2="753.7" stroke="#000" stroke-width="1" />
<line x1="619.5" y1="586.5" x2="619.5" y2="589.3" stroke="#000" stroke-width="1" />
<line x1="637.5" y1="756.5" x2="637.5" y2="753.7" stroke="#000" stroke-width="1" />
<line x1="637.5" y1="586.5" x2="637.5" y2="589.3" stroke="#000" stroke-width="1" />
<line x1="653.5" y1="756.5" x2="653.5" y2="753.7" stroke="#000" stroke-width="1" />
<line x1="653.5" y1="586.5" x2="653.5" y2="589.3" stroke="#000" stroke-width="1" />
<line x1="666.5" y1="756.5" x2="666.5" y2="753.7" stroke="#000" stroke-width="1" />
<line x1="666.5" y1="586.5" x2="666.5" y2="589.3" stroke="#000" stroke-width="1" />
<line x1="678.5" y1="756.5" x2="678.5" y2="753.7" stroke="#000" stroke-width="1" />
<line x1="678.5" y1="586.5" x2="678.5" y2="589.3" stroke="#000" stroke-width="1" />
<line x1="759.5" y1="756.5" x2="759.5" y2="753.7" stroke="#000" stroke-width="1" />
<line x1="759.5" y1="586.5" x2="759.5" y2="589.3" stroke="#000" stroke-width="1" />
<line x1="222.5" y1="756.5" x2="222.5" y2="751.3" stroke="#000" stroke-width="1" />
<line x1="222.5" y1="586.5" x2="222.5" y2="591.7" stroke="#000" stroke-width="1" />
<text x="224.9" y="774.9" font-size="13.33" text-anchor="middle" letter-spacing="-0.3">100</text>
<line x1="456.5" y1="756.5" x2="456.5" y2="751.3" stroke="#000" stroke-width="1" />
<line x1="456.5" y1="586.5" x2="456.5" y2="591.7" stroke="#000" stroke-width="1" />
<text x="458.5" y="774.9" font-size="13.33" text-anchor="middle" letter-spacing="-0.3">1000</text>
<line x1="689.5" y1="756.5" x2="689.5" y2="751.3" stroke="#000" stroke-width="1" />
<line x1="689.5" y1="586.5" x2="689.5" y2="591.7" stroke="#000" stroke-width="1" />
<text x="692.1" y="774.9" font-size="13.33" text-anchor="middle" letter-spacing="-0.3">10000</text>
<rect x="59.5" y="586.5" width="719.0" height="170.0" fill="none" stroke="#000" stroke-width="1"/>
<text x="418.5" y="794" font-size="10.2" text-anchor="middle" textLength="44.6" lengthAdjust="spacing" >Time[sec]</text>
<text transform="translate(15.8,671.9) rotate(-90)" font-size="10.3" text-anchor="middle" textLength="82" lengthAdjust="spacing">Amplitude[dB FS]</text>
</svg>
</body></html>
